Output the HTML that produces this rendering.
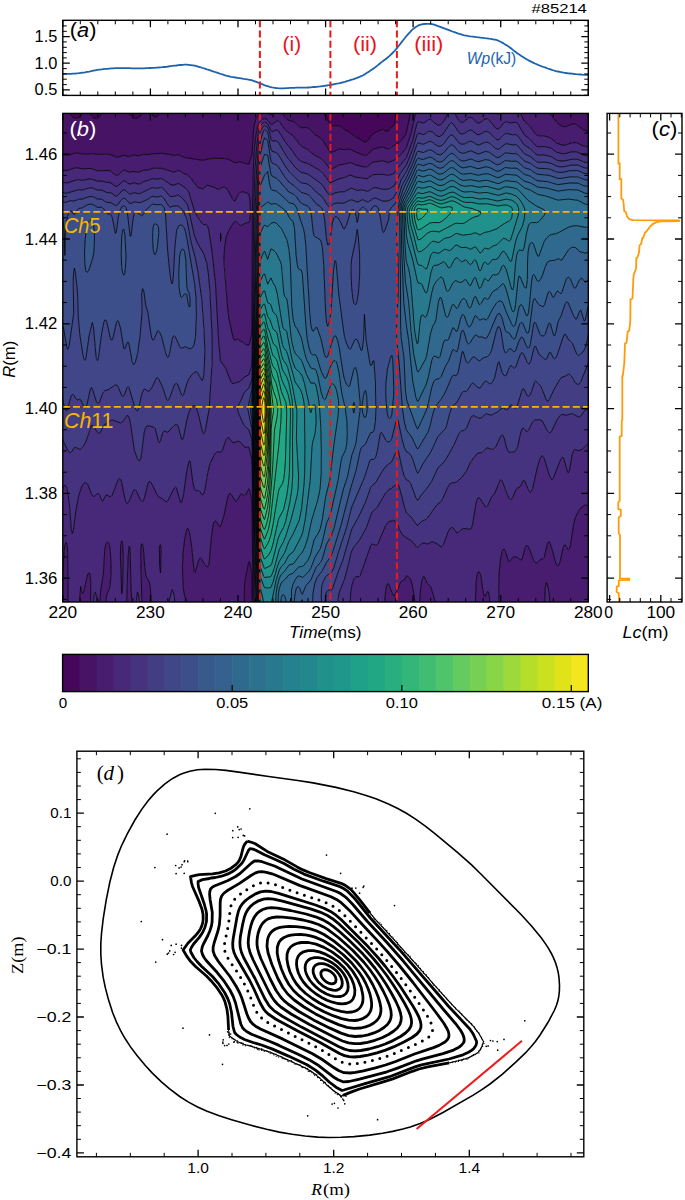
<!DOCTYPE html><html><head><meta charset="utf-8"><style>html,body{margin:0;padding:0;background:#fff;overflow:hidden}svg{display:block}</style></head><body>
<svg width="685" height="1200" viewBox="0 0 685 1200">
<rect width="685" height="1200" fill="#fff"/>
<defs><clipPath id="cb"><rect x="62.8" y="113.4" width="525.5" height="488.6"/></clipPath>
<clipPath id="ca"><rect x="62.8" y="20.3" width="525.5" height="75.1"/></clipPath>
<clipPath id="cc"><rect x="607.1" y="113.4" width="74.9" height="488.6"/></clipPath></defs>
<g clip-path="url(#cb)">
<path d="M364.4 141.9l2.1-.2l1.1-.8l4.2-5.9l2.1-1.8l7.4-3.3l2.1 .1l3.1 1.1l1.7-.2l5.7-5.7l4.2-14.7l2.7-7.2l1.7-6.3l-89.1 0l2.7 5.5l6.3 7.8l6.3 11.9l2.1 2.7l2.1 .9l5.3-.2l2.1 .6l4.2 3.3l4.2 2.2l6.3 4.9l8.5 4.9zM75.4 118.2l2.1-.1l2.1-1l1.2-1.1l1.2-2.1l.7-4.2l.2-12.7l-13.4 0l.1 12.7l.6 4.2l2.1 3l2.8 1.3zM94.3 118.2l2.1 .3l2.1-.7l1.7-1.8l.9-2.1l.4-4.2l.1-12.7l-11.8 0l.2 12.7l.6 4.2l1 2.1l2.7 2.2zM134.3 118.4l2.1 0l2.1-.7l1.9-1.7l1-2.1l.5-4.2l.2-12.7l-13.1 0l.1 12.7l.6 4.2l1.4 2.7l2.4 1.6zM153.2 116.1l1 .8l2.1 .2l1.6-1.1l1-2.1l.6-4.2l.1-12.7l-8.2 0l.3 14.8l.4 2.1l1 2.1z" fill="#46075a" stroke="#46075a" stroke-width="0.4"/>
<path d="M144.8 616.4l5.1 0l-.9-6.8l-1.1-3.4l-1-.7l-1.3 2.4l-1.2 8.5zM200.5 616.4l4.8 0l-.6-4.9l-1.1-2.9l-1-.5l-1.1 .8l-1 2.5l-1 5zM223.6 616.4l2.4 0l-.3-5.4l-1-5.5l-1.1 5.5l-.1 5.4zM244.6 616.4l7.6 0l-.2-42.1l-2.1-11.9l-1.1-.8l-3.4 16.6l-1 8.5l-.2 29.7zM516.8 616.4l1.1 0l-1.1-2.1l-.8 2.1zM537.9 616.4l3.3 0l-.2-2.6l-1-3l-1.1 .8l-1.2 4.8zM554.7 616.4l4.3 0l-1.2-5.7l-1-2l-1.1 .7l-1.3 7zM235.2 162.8l4.2-1l9.4 2.5l3.2-9.8l1.6-25.7l1.2-6.4l1.5-4.2l.9-1.7l7.4-4.7l5.2 2.6l2.1 0l1.1-.8l3.2-4.1l1-1l1.1-.3l2.1 1.7l4.2 7l3.1 3.1l6.3 1.8l5.3 4.7l2.1 1.2l5.2-.1l2.1 .8l6.3 6.1l6.3 4.2l2.1 2.6l6.4 10.5l1 .4l2.1-.3l6.3-2.8l5.3 .5l5.2-.5l6.3 3.1l9.5 3.4l2.1-.9l4.2-4.6l2.1-1.2l7.4-1.8l2.1 .3l3.1 1.3l2.1 .1l6.3-4l3.2-1.2l1-.8l3.2-3.4l3.1-4.5l1.1-2.9l3.8-18.1l2.8-16.9l-10.6 0l-1.7 6.3l-2.7 7.2l-4.2 14.7l-4.2 4.6l-2.1 1.3l-6.3-1.2l-7.4 3.3l-2.1 1.8l-4.2 5.9l-2.1 1.1l-2.1-.6l-4.2-2.7l-3.3-1.5l-7.2-5.5l-4.2-2.2l-4.2-3.3l-2.1-.6l-5.3 .2l-2.1-.9l-2.1-2.7l-6.3-11.9l-6.3-7.8l-2.7-5.5l-153.8 0l-.1 12.7l-.6 4.2l-1.5 2.6l-2.1 .7l-2.1-1.1l-1.1-2.2l-.6-4.2l-.1-12.7l-9.3 0l-.2 12.7l-.5 4.2l-1.9 3l-2 1.3l-2.2 .3l-3.1-1l-1.6-1.5l-.9-2.1l-.6-4.2l-.1-12.7l-27.4 0l-.1 12.7l-.4 4.2l-1.5 2.9l-1.8 1.4l-1.4 .3l-3.1-.9l-1.7-1.6l-1-2.1l-.6-4.2l-.2-12.7l-6.9 0l-.2 12.7l-.7 4.2l-1.2 2.1l-1.2 1.1l-3.1 1.1l-2.1-.2l-2.1-1.1l-2.1-3l-.6-4.2l-.1-12.7l-12 0l0 58l4.2-.5l6.4 .9l6.3-2l3.1-.4l6.3 1.2l8.4-.6l6.3 .8l9.5-.2l3.1 .6l4.3 2l2.1 .3l6.3-1.8l5.2 1.2l4.2-1.5l5.3 .8l5.2-1.5l4.2 .4l5.3-1l8.4-.4l7.4 .9l4.2 1.2l5.2-.5l6.3 2.6l17.9 2.9l5.2-1.3l7.4-.9l10.5 .4l3.2 .9l5.8 3.2zM592.5 135.8l1.1 1.3l0-40.1l-67.5 0l8.6 14.1l1.1 1.2l2.1 1.2l6.3-1.7l3.1 .7l2.1 1l2.1 1.6l5.3 7.3l2.5 2.1l3.8 2.2l2.9-.1l5.5-2.5l3.1-.1l2.1 .6l6.3 5l6.4 2.6l2.5 2.9z" fill="#471365" stroke="#471365" stroke-width="0.4"/>
<path d="M63.9 616.4l4.2 0l-.4-63.6l-.6-8.5l-1.1-1.9l-1.1 2.6l-.7 5.6l-1.4 23.4l-.2 16.9l.6 25.5zM78.6 616.4l12 0l.1-34l-.6-7.5l-1-2.3l-1.1 1.3l-1 3.2l-3.2 14.1l-1 2.5l-1.4-2.8l-.7-4.4l-2.5 29.9zM99.6 616.4l5.6 0l1.2-19.1l.5-2.7l2.3-5.8l1.2-6.4l.7-12.7l-.4-14.8l-1-8.5l-.7-2.6l-1-1.6l-1.1 .1l-1 1.7l-1.1 4.8l-1.4 25.2l-2.8 16.9l-1.1 25.5zM126.9 616.4l5.7 0l-1.8-34l-.6-31.8l-.1-2.3l-1.1-2l-.9 10.7l-1.9 59.4zM142.7 616.4l1.7 0l1.2-8.5l1.3-2.4l1 .7l1.1 3.4l.9 6.8l2.2 0l-1-19.1l-1.1-11.6l-1-4.7l-2.1-3.1l-1.1-2.9l-1-7.8l-1.4-18.7l-.7-3.9l-1.1-.7l-.8 4.6l-.1 6.4l1.5 61.5zM192.1 616.4l7.4 0l1-5l1-2.5l1.1-.8l1 .5l1.1 2.9l.6 4.9l4.6 0l0-.6l1.1 .6l12.5 0l.1-5.4l1.1-5.5l1 5.5l.3 5.4l18.2 0l.2-29.7l1-8.5l3.4-16.6l1.1 .8l2.1 11.9l.2 42.1l1 0l-1.2-114.4l-2.1-11.2l-1.1-2.1l-3.1 6.2l-1.1 .9l-3.1-1.8l-1.1 .5l-3.1 5.8l-1.1 .9l-1-.4l-4.2-6.7l-1.1-.7l-1 .8l-1.1 3.2l-4.2 19.6l-3.1 9.6l-1.1 0l-3.2-5.4l-1-.3l-1.1 1.3l-1 3.2l-1.6 10.4l-2.2 25.4l-.4 3l-1.1 2.5l-1-.1l-2.1-1.9l-3.2-5.7l-1-1.1l-1.1 .6l-1 2.5l-3.2 11.7l-1-1.1l-2.6-25.2l-1.6-11.3l-1.1-4.8l-1-2l-1.1 .9l-2.1 9.4l-1.6 14.2l-.6 14.8l.3 12.7l.6 8.5l1.3 7.5l1.1 2.7l3.1 4.3l.9 2.5l1.7 10.6zM369.7 616.4l3.3 0l-1.2-6.4l-1.1-.4l-1.3 6.8zM384.4 616.4l31.4 0l-1.4-19.1l-2.2-12.7l-1.3-4.3l-1.3-2.4l-3.1-2.3l-2.1 4.3l-3.2 1.5l-1 1.7l-2.1 5.5l-4.2 7.6l-2.1-3.8l-3.2-8.5l-1-.2l-1.1 2.4l-1 5.5l-1.8 24.8zM420.1 616.4l23.5 0l-.3-4.8l-1.1-5.1l-1-1.4l-3.2 .6l-1-.4l-1.1-1.6l-5.2-17.3l-3.2-2.8l-3.2-6.7l-1-.3l-1.4 3.7l-1.3 8.5l-.9 12.7l-.4 14.9zM454.8 616.4l2.5 0l-.4-5l-1-3.8l-1.1 2.9l-.5 5.9zM475.8 616.4l14.6 0l-.7-17l-1.2-7.6l-1.1-.3l-2.1 4.5l-1 .4l-1.1-4.3l-2.1-15l-1.1-3.7l-1-1.6l-1.1 .5l-1 3.4l-.8 6.7l-1.1 34zM500 616.4l16 0l.8-2.1l1.1 2.1l19.8 0l1.2-4.8l1.1-.8l1 3l.2 2.6l3.3 0l.6-27.6l1.2-6.2l1 2.3l1.1 4.4l1 7l1.4 20.1l3.6 0l1.3-7l1.1-.7l1 2l1.2 5.7l33 0l1.6-12.3l0-113.3l-1.1 1.5l-3.1 11l-1.1 1.7l-1.1 .4l-2.1-.4l-4.2 2.9l-2.1 2.8l-2.1 4l-2.1 5.3l-1 4.7l-3 19.6l-1.2 4.6l-1.1 .9l-3.1-5l-1.1 .3l-1 2.6l-3.2 14.7l-1 2.7l-1.1 .7l-1-.7l-1.1-2.1l-4.2-15.8l-2.1-5.3l-1-.1l-1.1 2l-3.1 13.7l-1.1 1.1l-2.1 .5l-4.2 3.8l-1-.1l-2.2-2.4l-4.2-11.5l-2.1-3.4l-1 .2l-1.1 1.9l-3.1 11.5l-1.1 1l-4.2-3l-2.1-.3l-2.1 .7l-3.1 4.1l-1.1-.4l-3.1-10.6l-1.1-1.5l-1 .4l-1.1 2l-1.3 5.5l-1.8 17l-.3 14.8l.5 27.6zM121.7 593.5l1-7.4l.3-37.6l-.3-4.4l-1-3.2l-1.2 7.6l.1 19.7l1 24.8zM160.5 572.9l.7-15.9l-.4-10.6l-.3-1.6l-1 .9l-.3 4.9l.3 14.2l.9 7zM246.7 345.1l2.1 .1l.9-2.3l2.3-11.6l.3-109.3l.8-48.7l1-21.2l1.2-12.7l1.6-10.6l1.3-4.3l1.1-2.2l3.2-3.1l2.1-.8l3.1 1.7l3.2 4.1l1 .4l4.3-3.3l1-.5l1.1 .1l2.1 2.1l5.2 7.3l7.4 5.3l7.3 9.6l2.1 1.6l5.3 2.7l6.3 5.3l7.3 3.8l3.2 3.2l5.3 7.2l1 .2l2.1-.7l6.3-3.6l5.3-.7l5.2-1.6l2.1 .4l4.2 2l9.5 2.3l2.1-.7l4.2-3.7l2.1-1l8.4-1l6.3 1.6l5.3-2.2l2.1-1.9l2.1-.9l7.3-8.1l1.1-2.1l5.2-16.1l5.3-24.8l1-2.3l3.7 1.3l1.6 .2l2.1-1.3l3.1-2.8l2.2-.2l5.7 6.3l1.6 .8l1.1 0l2.1-1.3l1.3-1.7l4.1-8.4l-33.5 0l-1.4 9.7l-5.2 25.3l-1.1 2.9l-3.1 4.5l-4.2 4.2l-3.2 1.2l-5.2 3.6l-2.1 .5l-4.2-1.5l-2.1-.3l-7.4 1.8l-2.1 1.2l-4.2 4.6l-2.1 .9l-9.5-3.4l-6.3-3.1l-5.2 .5l-5.3-.5l-6.3 2.8l-2.1 .3l-1-.4l-6.4-10.5l-2.1-2.6l-6.3-4.2l-6.3-6.1l-2.1-.8l-5.2 .1l-2.1-1.2l-5.3-4.7l-6.3-1.8l-3.1-3.1l-4.2-7l-2.1-1.7l-1.1 .3l-1 1l-3.2 4.1l-1.1 .8l-2.1 0l-5.2-2.6l-7.4 4.7l-.9 1.7l-1.5 4.2l-1.2 6.4l-1.6 25.7l-3.2 9.8l-9.4-2.5l-3.2 .8l-2.1-.1l-5.2-3l-3.2-.9l-10.5-.4l-7.4 .9l-5.2 1.3l-17.9-2.9l-6.3-2.6l-5.2 .5l-4.2-1.2l-7.4-.9l-8.4 .4l-5.3 1l-4.2-.4l-5.2 1.5l-5.3-.8l-4.2 1.5l-5.2-1.2l-6.3 1.8l-2.1-.3l-4.3-2l-3.1-.6l-9.5 .2l-6.3-.8l-8.4 .6l-6.3-1.2l-3.1 .4l-6.3 2l-6.4-.9l-4.2 .5l0 16l3.2-.4l6.3 0l8.4-2.8l2.1 0l5.3 1.1l6.3-.5l3.1 .4l5.3 2l11.5-.3l2.1 1l3.2 2.8l2.1 1.1l2.1-.7l3.2-3.1l2.1-1.4l2.1 .3l3.1 1.8l4.2-.9l5.3 1l5.2-2.3l4.2-.1l5.3-1.8l8.4 .1l6.3 1.8l5.3 2.1l1 0l3.2-1.5l2.1 .1l4.2 2.7l3.1 1l3.2 2.7l7.3 9.5l2.1 1.4l3.2 .8l4.2-3.2l1-.3l6.3 2l4.2 2l4.3-2l2.1-.2l1.5 .9l1.7 2.1l4.4 8.5l1.8 2.3l1.1-.1l3.1-6.4l2.1-2.3l3.2-.3l5.2 2l1 4.8l.4 6.4l.2 8.5l-.5 6.6l-1.1 2.3l-3.1 .5l-4.2 2.3l-1.1 .1l-1-.6l-3.2-3.3l-1-.3l-2.1 2l-4.3 7.3l-2.7 6.4l-1.7 12.7l-.4 8.5l3.7 50.9l1.2 9.3l3.2 16.1l1 3.6l1 2l1.1 .2l2.1-1.1l1 .3l2.1 1.6l2.1 .9l3.9 3.1zM220.5 241.4l.7-4.5l-.7-3.6l-.1 7.8zM593.6 150.4l0-13.3l-4.2-4.9l-6.4-2.6l-5.2-4.4l-2.1-1l-4.2-.1l-6.3 2.8l-3.2-.6l-5.2-3.9l-5.3-7.3l-4.2-2.6l-3.1-.7l-5.3 1.6l-2.1-.3l-2.1-2l-8.6-14.1l-70.1 0l2 4.5l2.1 2.8l1 .5l2.1-.4l5.3-5.7l2.1-1.1l2.1 1.6l3.1 4.8l2.1 1.9l2.1-.2l5.3-4.6l2.1 0l2.1 1.9l6.3 10.3l2.1 1.1l2.1-1.5l3.2-5l2.1-2.1l1-.1l3.2 1.7l2.1 .6l1 .1l3.2-1l1 .3l2.1 2.8l5.3 10.8l6.3 5.9l4.2 6.1l2.1 2.1l2.1 .7l5.3 0l6.3 2.1l6.3 5.2l4.2 1.7l3.1 .5l7.4-2.5l5.2-.2l6.3 3.2l6.4 1.3l3.6 2.9z" fill="#481d6f" stroke="#481d6f" stroke-width="0.4"/>
<path d="M58.6 616.4l4.6 0l-.6-25.5l.2-16.9l1.4-23.4l.7-5.6l1.1-2.6l1.1 1.9l.6 8.5l.4 63.6l10.1 0l2.5-29.9l.7 4.4l1.4 2.8l1-2.5l3.2-14.1l1-3.2l1.1-1.3l1 2.3l.6 7.5l-.1 34l1.7 0l1-14.3l1-7.6l1.1-2.2l1.2 5l1.1 19.1l1.8 0l1.1-25.5l2.8-16.9l1.4-25.2l1.1-4.8l1-1.7l1.1-.1l1.2 2.1l1.1 6.3l.7 12.8l-.1 12.7l-.8 9.2l-1.1 4.1l-2.1 5.2l-.5 2.7l-1.2 19.1l8.9 0l1.3-3.9l1-.4l1.4 4.3l8.4 0l1.9-59.4l.9-10.7l1.1 2l.1 2.3l.6 31.8l1.8 34l3.4 0l.4-15.9l1-8.3l1.1 2.7l1 8.6l.8 12.9l1.9 0l-1.5-61.5l.1-6.4l.8-4.6l1.1 .7l.7 3.9l1.4 18.7l1 7.8l1.1 2.9l2.1 3.1l1 4.7l1.1 11.6l1 19.1l2.8 0l.4-9.3l1-4.9l1.1 6.3l.4 7.9l8.8 0l1.3-10.2l4.2-16.6l1.1 2l1 4.7l2 20.1l15.3 0l-1.7-10.6l-.9-2.5l-3.1-4.3l-1.1-2.7l-1.3-7.5l-.6-8.5l-.3-12.7l.6-14.8l1.6-14.2l2.1-9.4l1.1-.9l1 2l1.1 4.8l1.6 11.3l2.6 25.2l1 1.1l3.2-11.7l1-2.5l1.1-.6l1 1.1l3.2 5.7l2.1 1.9l1 .1l1.1-2.5l.4-3l2.2-25.4l1.6-10.4l1-3.2l1.1-1.3l1 .3l3.2 5.4l1.1 0l3.1-9.6l4.2-19.6l1.1-3.2l1-.8l1.1 .7l4.2 6.7l1 .4l1.1-.9l3.1-5.8l1.1-.5l3.1 1.8l1.1-.9l3.1-6.2l1.1 2.1l2.1 11.2l1.2 114.4l1.1 0l-2.3-156.9l-3.2-12.2l-4.2-.2l-4.2-5l-2.1-1l-5.2 1.5l-1.1-.6l-3.1-4.3l-1.1 0l-1 .8l-1.1 2l-3.1 9.3l-1.1 1.9l-2.1 .5l-2.1-.4l-1.1 .6l-2.1 2.6l-3.1 5.9l-2.1 6.6l-4.2 23.1l-1.1 3.4l-1 1.1l-3.2-4l-1-.6l-2.1 .2l-1.1-.5l-1-2l-1.6-7.5l-2.1-17l-.5-2.7l-1.1 .4l-2.1 9.7l-3.1 22.4l-2.1 8.8l-1.1 0l-4.2-14.8l-1-.5l-1.1 1.1l-6.3 12.6l-1.1 .9l-1 0l-3.2-2.7l-4.2-2.2l-2.1-3.4l-4.2-9l-2.1-2.9l-1 .4l-1.1 2l-3.4 13.8l-.8 2.4l-1 1.3l-1.1 0l-1-1l-4.2-9l-1.1-1.5l-1-.1l-1.2 1.6l-4.1 10.2l-1 1.6l-1.1 .4l-1-1.4l-1.1-3.8l-3.1-15.9l-1.1-3l-1-1l-1.1 .8l-1 2l-5.3 14l-1.1 1.2l-1 .3l-3.2-1.7l-1 .1l-3.2 6l-1-.6l-2.1-5.7l-1.1-1.4l-1 .1l-3.2 2.9l-1-.1l-.9-.8l-1.2-2.2l-3.2-8.5l-1.6-2l-1.5-.2l-1.1 .8l-2.1 3.3l-3.1 9.4l-2.7 14.3l-2.6 20.4l-1 2.7l-1.1-5.1l-1.6-22.3l-1.5-12.2l-2.1-7.7l-1.1-.9l-1 .6l-3.2 4l-1.1 3.3l-1.4 15l-.7 25.3l0 82.9zM121.6 593l-1-24.8l-.1-19.7l1.2-7.6l1 3.2l.3 4.4l-.3 37.6l-1 7.4zM160.4 571.8l-.9-7l-.3-14.2l.3-4.9l1-.9l.3 1.6l.4 10.6l-.7 15.9zM209.9 616.4l1.1 0l-1.1-.6l0 .6zM350.8 616.4l18.6 0l1.3-6.8l1.1 .4l1.2 6.4l10.7 0l1.8-24.8l1-5.5l1.1-2.4l1 .2l3.2 8.5l2.1 3.8l4.2-7.6l2.1-5.5l1-1.7l3.2-1.5l2.1-4.3l3.1 2.3l1.3 2.4l1.3 4.3l2.2 12.7l1.4 19.1l3.5 0l.4-14.9l.9-12.7l1.3-8.5l1.4-3.7l1 .3l3.2 6.7l3.2 2.8l5.2 17.3l1.1 1.6l1 .4l3.2-.6l1 1.4l1.1 5.1l.3 4.8l10.7 0l.5-5.9l1.1-2.9l1 3.8l.4 5l17.7 0l1.1-34l.8-6.7l1-3.4l1.1-.5l1 1.6l1.1 3.7l2.1 15l1.1 4.3l1-.4l2.1-4.5l1.1 .3l1.2 7.6l.7 17l8.8 0l-.5-27.6l.3-14.8l1.8-17l1.3-5.5l1.1-2l1-.4l1.1 1.5l3.1 10.6l1.1 .4l3.1-4.1l2.1-.7l2.1 .3l4.2 3l1.1-1l3.1-11.5l1.1-1.9l1-.2l2.1 3.4l4.2 11.5l2.2 2.4l1 .1l4.2-3.8l2.1-.5l1.1-1.1l3.1-13.7l1.1-2l1 .1l2.1 5.3l4.2 15.8l1.1 2.1l1 .7l1.1-.7l1-2.7l3.2-14.7l1-2.6l1.1-.3l3.1 5l1.1-.9l1.2-4.6l3-19.6l2.1-7.7l3.1-6.3l2.1-2.8l4.2-2.9l2.1 .4l1.1-.4l1.1-1.7l3.1-11l1.1-1.5l0-55.9l-1.1 1.1l-4.2 7.6l-6.3 5.8l-3.2 1.2l-4.2-1.1l-1 1.1l-1.5 4.6l-2.7 15.3l-1.1 2.3l-1-1.7l-3.2-11.6l-1-2l-1.1-.2l-2.1 4l-6.3 16.2l-1 1.7l-1.1 .3l-2.1-3.8l-5.2-17.3l-1.1-2l-1-.6l-1.1 .8l-1.3 2.9l-2.5 8.5l-4.6 20.6l-1.1 2.8l-1 .9l-1.1-.7l-1-1.8l-3.2-7.9l-1-1.5l-1.1 .4l-3.1 6.1l-3.2 1.6l-1 1.4l-3.2 7.6l-1 1.7l-1.1 .4l-1-.9l-2.1-4l-5.3-14l-1-1.1l-1.1 .7l-5.2 12.8l-3.2 4l-4.2 9.2l-1 .9l-1.1-.5l-5.3-8.4l-1-.7l-1.1 .4l-1 2.2l-1.1 4.2l-3.1 19.3l-1.1 3.8l-1 1.6l-1.1 .2l-3.1-.7l-3.2 0l-2.1 1.1l-3.1 3.1l-1.1 .2l-4.2-5.4l-1-.3l-1.1 .5l-2.1 3.1l-5.2 14l-1.1 1.6l-1 .5l-4.2-3.2l-4.2-1.9l-1.1 0l-4.2 2.1l-3.2-1l-2.1 .1l-4.2 4.3l-1 0l-5.3-6.4l-7.3-4.6l-2.1-2l-3.1-5l-1.1-3.7l-4.2-5.7l-1.1 .7l-4.2 .9l-3.1 4.2l-7.4 17.6l-1.1 1.4l-1 .6l-3.2-1.3l-1 .1l-1.1 1.4l-10.5 29.9l-1 1.1l-3.2 0l-1 .7l-1.1 1.6l-1.8 5.7l-1.3 6.8l-.7 10.1l-.1 14.9zM545.2 616.4l5.6 0l-1.4-20.1l-1-7l-1.1-4.4l-1-2.3l-1.2 6.2l-.6 27.6zM592.5 616.4l1.1 0l0-12.3l-1.6 12.3zM233.1 383.6l7.3-2.2l3.2-3.9l5.2-2.6l3.2-9.7l.8-52l.8-97.5l1.2-42.4l1.2-19.1l2.2-21.2l1.7-6.4l2.6-3.3l2.1-1.2l3.1 1.8l3.2 6.6l1 1.3l4.3-1.8l2.1 .6l7.3 11.7l6.3 8l3.2 4.9l4.2 4.9l3.1 1.9l5.3 1.3l12.6 7.4l3.1 3.1l6.4 8.9l2.1-.5l7.3-3.5l5.3-1l4.2-2l2.1-.5l5.2 2.1l5.3 .5l5.2 1.1l2.1-1l3.2-2.5l2.1-.8l8.4-.3l6.3 1.1l5.3-1.8l2.1-3.4l10.5-12.7l6.3-17.3l4.2-16.8l1-1.8l5.3 1.4l2.1-1l3.1-2.4l2.2-.3l6.3 5.5l2.1 .5l1-.3l2.1-1.7l2.1-2.9l5.3-9.9l1-1l1.1-.2l2.1 2.2l4.8 8.8l2.5 2.1l2.1-.3l5.3-4.2l2.1-.8l2.1 1.1l3.1 3.5l2.1 1.3l2.1-.3l5.3-3.8l2.1 0l3.2 2.7l5.2 6.7l2.1 .9l2.1-1.3l3.2-4.2l2.1-1.9l1-.2l4.2 1.3l5.3-.7l2.1 1.4l6.3 11.1l6.3 4.9l4.2 5.1l2.1 1.7l2.1 .5l5.3-.4l5.2 1.1l2.1 .8l5.3 3.9l5.2 1.4l3.2-.1l6.3-1.7l5.2-.1l7.4 3.5l5.3 1l4.2 2.8l0-8.7l-4.2-3.3l-5.3-.9l-6.3-3.3l-2.1-.5l-5.3 .6l-5.2 2.1l-3.2 0l-5.2-2l-6.3-5.2l-6.3-2.1l-5.3 0l-2.1-.7l-2.1-2.1l-4.2-6.1l-6.3-5.9l-5.3-10.8l-2.1-2.8l-1-.3l-3.2 1l-1-.1l-2.1-.6l-3.2-1.7l-1 .1l-2.1 2.1l-3.2 5l-2.1 1.5l-2.1-1.1l-6.3-10.3l-2.1-1.9l-2.1 0l-5.3 4.6l-2.1 .2l-2.1-1.9l-3.1-4.8l-2.1-1.6l-2.1 1.1l-5.3 5.7l-2.1 .4l-2.1-1.6l-3-6.2l-9.4 0l-4.1 8.4l-1.3 1.7l-2.1 1.3l-1.1 0l-1.6-.8l-5.7-6.3l-2.2 .2l-3.1 2.8l-2.1 1.3l-1.6-.2l-3.7-1.3l-1 2.3l-5.3 24.8l-5.2 16.1l-1.1 2.1l-7.3 8.1l-2.1 .9l-2.1 1.9l-5.3 2.2l-6.3-1.6l-8.4 1l-2.1 1l-5.3 4.3l-2.1 0l-4.2-1.5l-4.2-.7l-4.2-2l-2.1-.4l-5.2 1.6l-5.3 .7l-6.3 3.6l-2.1 .7l-1-.2l-5.3-7.2l-3.2-3.2l-7.3-3.8l-6.3-5.3l-5.3-2.7l-2.1-1.6l-7.3-9.6l-7.4-5.3l-5.2-7.3l-2.1-2.1l-1.1-.1l-1 .5l-4.3 3.3l-1-.4l-3.2-4.1l-2.1-1.3l-2.1-.2l-2.1 1.4l-2.1 2.3l-1 1.9l-1.4 4.6l-1.8 12.7l-1.2 14.8l-.9 21.2l-.6 31.8l-.4 122l-2.1 11.2l-1.1 2.7l-3.1-.5l-3.2-2.8l-2.1-.9l-2.1-1.6l-1-.3l-2.1 1.1l-1.1-.2l-1-2l-4.2-19.7l-1-7.2l-3.6-44.5l-.3-8.5l.4-8.5l1.7-12.7l2.7-6.4l4.3-7.3l2.1-2l1 .3l3.2 3.3l1 .6l1.1-.1l4.2-2.3l3.1-.5l1.1-2.3l.5-6.6l-.2-8.5l-.4-6.4l-1-4.8l-5.2-2l-3.2 .3l-2.1 2.3l-3.1 6.4l-1.1 .1l-1.8-2.3l-4.4-8.5l-1.7-2.1l-1.5-.9l-2.1 .2l-4.3 2l-4.2-2l-6.3-2l-1 .3l-4.2 3.2l-3.2-.8l-2.1-1.4l-7.3-9.5l-3.2-2.7l-3.1-1l-4.2-2.7l-2.1-.1l-3.2 1.5l-1 0l-5.3-2.1l-6.3-1.8l-8.4-.1l-5.3 1.8l-4.2 .1l-5.2 2.3l-5.3-1l-4.2 .9l-3.1-1.8l-2.1-.3l-2.1 1.4l-3.2 3.1l-2.1 .7l-2.1-1.1l-3.2-2.8l-2.1-1l-11.5 .3l-5.3-2l-3.1-.4l-6.3 .5l-5.3-1.1l-2.1 0l-8.4 2.8l-6.3 0l-3.2 .4l0 11.8l3.2-1l6.3 1.2l10.5-3.4l5.3 .7l5.2-1.2l3.2-.1l6.3 2.1l4.2-.1l4.2 1.3l4.2 .2l5.3 3.7l1 .3l2.1-1l3.2-3.3l2.1-1.3l2.1 .6l3.1 2.4l1.1 .1l4.2-1.1l4.2 1.3l2.1-.7l3.1-2l4.2-.9l4.2-2l5.3 .6l3.1-.7l3.2 1.1l7.4 5.3l3.1 .2l3.2-1.5l2.1 .2l7.3 5.3l1 1.1l1.8 4.3l4.6 15.7l3.1 6.5l5.3 7.5l1 .5l2.1-.3l1.1 .4l1 2l1.1 4.1l3.3 22.9l3.3 29.7l3.1 57.3l1.9 20.1l5.2 7.4l4.2 11l2.3 3.9zM220.4 241.1l.1-7.8l.7 3.6l-.7 4.5z" fill="#482878" stroke="#482878" stroke-width="0.4"/>
<path d="M93.3 616.4l4.4 0l-1.1-19.1l-1.2-5l-1.1 2.2l-1 7.6l-1 14.3zM114.3 616.4l3.5 0l-1.4-4.3l-1 .4l-1.3 3.9zM136.4 616.4l3.9 0l-.8-12.9l-1-8.6l-1.1-2.7l-1 8.3l-.4 15.9zM155.3 616.4l2.5 0l-.4-7.9l-1.1-6.3l-1 4.9l-.4 9.3zM166.8 616.4l9.4 0l-2-20.1l-1-4.7l-1.1-2l-4.2 16.6l-1.3 10.2zM255.1 616.4l-3.1-176.7l-3.2-10l-4.2-3.8l-1-1.5l-5.3-11.6l-.8-4.2l1.3-4.2l1.6-2.8l3.2-7.6l2.1-2.9l3.1-2.8l3.2-8.6l1.5-62.3l1.5-108.1l2.6-55.1l1.4-14.8l1.5-8.5l2.6-4.3l1.5-1l3.1 1.9l2.1 5.5l1.1 5.8l1 2.1l4.3 0l2.1 1.3l8.4 14.4l8.4 10.7l5.2 4.7l7.4 2l12.6 9l3.1 3.4l4.3 6.9l2.1 2.3l5.2-2.7l4.2-.9l5.3-.3l6.3-3.4l2.1 .3l4.2 1.9l5.2-.7l5.3 1.6l5.2-3.4l2.1-.5l7.4 1.8l5.3 0l6.3-3l6.5-13l6.1-8.4l6.3-15.7l4.2-14.2l1-1.8l5.3 1.3l2.1-.8l3.1-2.2l2.2-.3l2.1 1.2l4.2 3.6l2.1 .6l1-.2l2.1-1.4l1.7-2l5.7-9l1-.9l1.1-.2l2.1 1.7l5.2 8l2.1 1.4l3.2-.4l4.2-3l2.1-.6l2.1 .9l3.1 2.8l2.1 1l2.1-.3l4.3-2.6l2.1-.6l3.1 1.4l6.3 6.6l2.1 .7l2.1-1.1l3.2-3.6l2.1-1.6l1-.2l6.3 1.4l3.2-.2l2.1 1.3l6.3 9.1l6.3 3.8l4.2 4.4l2.1 1.5l2.1 .5l5.3-.2l5.2 1.1l2.1 .7l5.3 3.3l3.1 .8l4.2 .1l8.4-1.8l5.3 .1l6.3 2.8l6.3 1.1l3.2 2l0-6.1l-3.2-2.4l-6.3-1.4l-6.3-3.2l-2.1-.4l-4.2 .2l-6.3 1.7l-3.2 .1l-5.2-1.4l-5.3-3.9l-2.1-.8l-5.2-1.1l-5.3 .4l-2.1-.5l-2.1-1.7l-4.2-5.1l-6.3-4.9l-5.3-9.5l-2.1-2.6l-1-.4l-5.3 .7l-4.2-1.3l-1 .2l-2.1 1.9l-3.2 4.2l-2.1 1.3l-2.1-.9l-5.2-6.7l-3.2-2.7l-2.1 0l-5.3 3.8l-2.1 .3l-2.1-1.3l-3.1-3.5l-2.1-1.1l-2.1 .8l-5.3 4.2l-2.1 .3l-2.5-2.1l-4.8-8.8l-2.1-2.2l-1.1 .2l-1 1l-5.3 9.9l-2.1 2.9l-2.1 1.7l-1 .3l-2.1-.5l-6.3-5.5l-2.2 .3l-3.1 2.4l-2.1 1l-5.3-1.4l-1 1.8l-4.2 16.8l-6.3 17.3l-10.5 12.7l-2.1 3.4l-5.3 1.8l-6.3-1.1l-8.4 .3l-2.1 .8l-3.2 2.5l-2.1 1l-5.2-1.1l-4.2-.3l-5.3-2.1l-2.1-.1l-5.2 2.4l-6.3 1.3l-7.4 3.6l-1 .1l-.9-.9l-5.5-8l-3.1-3.1l-12.6-7.4l-5.3-1.3l-3.1-1.9l-4.2-4.9l-3.2-4.9l-6.3-8l-7.3-11.7l-2.1-.6l-4.3 1.8l-1-1.3l-3.2-6.6l-3.1-1.8l-1.1 .3l-2.1 2.1l-2.3 4.3l-1.2 6.3l-2.1 21.2l-1.1 21.2l-1.1 38.2l-.8 97.5l-.8 52l-3.2 9.7l-5.2 2.6l-3.2 3.9l-6.3 2.1l-1 .1l-.9-.4l-1.2-1.6l-5.3-13.3l-5.2-7.4l-1.9-20.1l-3.1-57.3l-3.5-31.8l-3.2-21.2l-1-3.7l-1-2l-1.1-.4l-2.1 .3l-1-.5l-5.3-7.5l-3.1-6.5l-5.3-17.7l-2.1-3.4l-7.3-5.3l-2.1-.2l-3.2 1.5l-3.1-.2l-7.4-5.3l-3.2-1.1l-3.1 .7l-5.3-.6l-4.2 2l-4.2 .9l-3.1 2l-2.1 .7l-4.2-1.3l-4.2 1.1l-1.1-.1l-3.1-2.4l-2.1-.6l-2.1 1.3l-3.2 3.3l-2.1 1l-1-.3l-5.3-3.7l-4.2-.2l-4.2-1.3l-4.2 .1l-6.3-2.1l-3.2 .1l-5.2 1.2l-5.3-.7l-10.5 3.4l-6.3-1.2l-3.2 1l0 10.1l3.2-1.3l4.2 1.5l2.1 0l11.6-3.4l4.2 .3l5.2-1.8l3.2-.3l2.1 .4l4.2 1.9l4.2-.1l5.2 2.5l4.2 .3l4.3 3.2l1 .2l2.1-1.4l3.2-3.9l2.1-1.3l2.1 .9l3.1 3.2l1.1 .3l4.2-1.4l5.2 1.1l12.6-6.2l5.3 .7l3.1-.8l1.1 0l2.1 1.4l6.3 7.6l4.2-.1l2.1-1l2.1-.2l2.1 1.3l3.2 3.2l3.1 4l1.4 3.5l6 27.8l3.1 7.8l6.5 11l3 9.5l1.7 11.7l1.3 14.9l2.2 43.5l.3 15.8l-.3 14.9l-2.8 44.5l-3.5 19.7l-1 3.9l-1.1 1.6l-1-1.3l-4.2-18.1l-2.1-6.7l-1.1-1.7l-2.1-.5l-2.1 2.2l-2.1 4.7l-2.1 7.7l-3.1 16.2l-1.1 3.2l-1-.3l-3.2-12.1l-1-2.1l-1.1-.6l-2.4 1.2l-6 6.6l-1.1 0l-2.1-1.2l-1 .3l-1.1 1.8l-2.1 7.3l-1 2.2l-1.1-1.1l-3.1-12.9l-1.1-1.2l-5.2-1.5l-2.1 .1l-1.3 1.7l-1.3 4.2l-2.7 21.4l-1 5.6l-1.1 1.9l-1-.5l-1.1-1.8l-3.1-8.4l-3.8-26.7l-1.5-6l-1-1.7l-1.1 0l-4.2 5.9l-2.1 1.3l-8.4-2.9l-1.1 .1l-3.1 2.9l-3.2 1.3l-1 1l-3.2 6.8l-1 1.2l-1.1 0l-1-.9l-4.2-6.4l-1.1-.8l-1 .6l-5.3 16l-3.1 5l-2.1 2.1l-1.1 .3l-4.2-1.8l-1 .1l-3.2 4.9l-1 .5l-2.1-2l-4.2-8.4l-3.8-10.6l-2.6-8.8l0 110.4l.7-25.3l1.4-15l1.1-3.3l3.2-4l1-.6l1.1 .9l1 2.8l1.3 6.5l1.5 12.7l1.4 20.2l1.1 5.1l1-2.7l2.6-20.4l2.7-14.3l3.1-9.4l2.1-3.3l1.1-.8l1.5 .2l1.6 2l3.2 8.5l1.2 2.2l.9 .8l1 .1l3.2-2.9l1-.1l1.1 1.4l2.1 5.7l1 .6l3.2-6l1-.1l3.2 1.7l1-.3l1.1-1.2l5.3-14l1-2l1.1-.8l1 1l1.1 3l3.1 15.9l1.1 3.8l1 1.4l1.1-.4l1-1.6l4.1-10.2l1.2-1.6l1 .1l1.1 1.5l4.2 9l1 1l1.1 0l1-1.3l.8-2.4l3.4-13.8l1.1-2l1-.4l2.1 2.9l4.2 9l2.1 3.4l4.2 2.2l3.2 2.7l1 0l1.1-.9l6.3-12.6l1.1-1.1l1 .5l4.2 14.8l1.1 0l2.1-8.8l3.1-22.4l2.1-9.7l1.1-.4l.5 2.7l2.1 17l1.6 7.5l1 2l1.1 .5l2.1-.2l1 .6l3.2 4l1-1.1l1.1-3.4l3.1-18l2.1-8.9l4.2-8.7l2.1-2.6l1.1-.6l2.1 .4l2.1-.5l1.1-1.9l3.1-9.3l1.1-2l1-.8l1.1 0l3.1 4.3l1.1 .6l1 0l3.2-1.4l2.1 .3l1 .6l4.2 5l4.2 .2l3.2 12.2l2.3 156.9zM338.2 616.4l11.8 0l.1-14.9l.7-10.1l1.3-6.8l1.8-5.7l1.1-1.6l1-.7l3.2 0l1-1.1l10.5-29.9l1.1-1.4l1-.1l3.2 1.3l1-.6l1.1-1.4l7.4-17.6l3.1-4.2l4.2-.9l1.1-.7l4.2 5.7l1.1 3.7l3.1 5l2.1 2l7.3 4.6l5.3 6.4l1 0l4.2-4.3l2.1-.1l3.2 1l4.2-2.1l1.8 .3l3.5 1.6l3.1 2.8l1.1 .4l1-.5l2.1-4.1l4.2-11.5l2.1-3.1l1.1-.5l1 .3l4.2 5.4l1.1-.2l3.1-3.1l2.1-1.1l3.2 0l3.1 .7l1.1-.2l1-1.6l1.1-3.8l3.1-19.3l1.1-4.2l1-2.2l1.1-.4l1 .7l5.3 8.4l1.1 .5l1-.9l4.2-9.2l3.2-4l4.2-10.7l1-2.1l1.1-.7l1 1.1l1.1 2.5l5.2 13.7l2.1 2.7l1.1-.4l1-1.7l3.2-7.6l1-1.4l3.2-1.6l3.1-6.1l1.1-.4l1 1.5l4.2 9.7l1.1 .7l1-.9l1.1-2.8l5.7-24.9l1.7-5l1-2.1l1.1-.8l1 .6l1.1 2l5.2 17.3l2.1 3.8l1.1-.3l1-1.7l6.3-16.2l2.1-4l1.1 .2l1 2l3.2 11.6l1 1.7l1.1-2.3l2.7-15.3l1.5-4.6l1-1.1l4.2 1.1l3.2-1.2l6.3-5.8l4.2-7.6l1.1-1.1l0-27.2l-3.2 2.2l-1 .2l-3.2-.7l-1.1 .5l-4.2 6.1l-2.1 1.2l-5.2-3l-2.1-.6l-5.3 1.7l-4.2-1l-1 .3l-3.2 3.8l-6.3 13l-1 1.2l-1.1 .2l-2.1-2.2l-5.2-9.9l-2.1-1l-5.3 .3l-2.1 2.1l-4.2 8.3l-1.1 1.2l-1-.3l-2.1-2.7l-1.1-.5l-1 .8l-1.2 3l-3.3 14.9l-1.8 3.7l-2.1 1.4l-4.2 .5l-1.1-.6l-2.1-5l-2.1-8.6l-1-2.5l-1.1-.7l-1 .8l-1.1 1.9l-4.2 9.1l-2.1 2.1l-2.1 .5l-4.2-1.5l-1 .2l-4.3 4.4l-4.2 .7l-1 .7l-6.3 8l-4.2 9.2l-4.2 5.9l-5.3 4.9l-2.1 .8l-3.1 .1l-2.1 1.4l-2.1 3.6l-5.3 12l-1 1.5l-4.2 3.3l-9.5 13.4l-2.1 1.7l-4.2 2l-3.2 3.4l-1 .2l-5.3-7.6l-5.2-4.7l-2.1-6.1l-4.2-16.8l-2.1-6l-4.2 1.9l-2.1 2.2l-3.2 1.6l-3.2 3.6l-8.4 14.2l-5.2 4.8l-5.3 15l-7.3 13.2l-5.3 6.3l-2.1 3.9l-1 2.8l-2.6 11.9l-3.7 13.7l-5.5 13.8l-.9 6.4l0 17z" fill="#46337f" stroke="#46337f" stroke-width="0.4"/>
<path d="M256.2 616.4l-3.9-180.2l-.3-7l-4.3-20.6l4.3-19.8l.5-9.9l1.9-67.8l1.7-93.3l1.9-50.9l2.4-25.9l3-10.1l1.2-1.3l3.1 2.2l3.2 17.2l1 2.2l4.3 1.3l2.1 1.8l6.3 10.9l4.2 5.9l6.3 6.6l5.2 4.6l2.1 .8l4.2 .6l4.2 2.7l5.3 5.6l5.2 3.9l2.1 2.6l4.3 7.1l2.1 1.6l3.1-2.8l2.1-1l3.2-.4l5.2 .3l6.3-3l2.1-.5l5.3 2.2l1-.1l4.2-2.2l1.1 .2l3.1 1.8l2.1 .1l4.2-3l2.1-.8l2.1 .5l5.3 2.6l5.3-.1l2.1-.7l4.2-2.9l.4-.8l3.8-7.6l3.1-9.1l5.3-8.6l4.8-10.7l5.7-16.2l1-1.5l5.3 1.4l5.2-2.6l2.2-.3l2.1 1.1l4.2 3.3l3.1 .6l3.2-2.1l6.3-8.5l2.1-1l2.1 1.3l5.2 6.9l2.1 1.2l3.2-.1l4.2-2.4l2.1-.5l2.1 .7l4.2 2.8l2.1 .3l5.3-2.5l2.1-.4l3.1 1.1l6.3 5.5l2.1 .6l2.1-.9l5.3-4.6l1-.1l6.3 1.2l3.2-.2l2.1 1.2l6.3 7.8l6.3 3l6.3 5.2l2.1 .4l5.3-.2l5.2 .8l2.1 .6l5.3 2.8l3.1 .6l4.2-.2l7.4-1.6l6.3-.1l6.3 2.7l6.3 1l3.2 1.8l0-5.3l-3.2-2l-6.3-1.1l-6.3-2.8l-5.3-.1l-8.4 1.8l-4.2-.1l-3.1-.8l-5.3-3.3l-2.1-.7l-5.2-1.1l-5.3 .2l-2.1-.5l-2.1-1.5l-4.2-4.4l-6.3-3.8l-6.3-9.1l-2.1-1.3l-3.2 .2l-6.3-1.4l-1 .2l-2.1 1.6l-3.2 3.6l-2.1 1.1l-2.1-.7l-6.3-6.6l-3.1-1.4l-2.1 .6l-4.3 2.6l-2.1 .3l-2.1-1l-3.1-2.8l-2.1-.9l-2.1 .6l-4.2 3l-3.2 .4l-2.1-1.4l-5.2-8l-2.1-1.7l-1.1 .2l-1 .9l-5.7 9l-1.7 2l-2.1 1.4l-1 .2l-2.1-.6l-4.2-3.6l-2.1-1.2l-2.2 .3l-3.1 2.2l-2.1 .8l-5.3-1.3l-1 1.8l-4.2 14.2l-6.3 15.7l-6.1 8.4l-6.5 13l-5.3 2.7l-2.1 .3l-4.2 0l-6.3-1.7l-2.1 0l-6.3 3.8l-5.3-1.6l-5.2 .7l-4.2-1.9l-2.1-.3l-6.3 3.4l-5.3 .3l-4.2 .9l-5.2 2.7l-2.1-2.3l-4.3-6.9l-3.1-3.4l-12.6-9l-7.4-2l-5.2-4.7l-8.4-10.7l-8.4-14.4l-2.1-1.3l-4.3 0l-1-2.1l-1.1-5.8l-2.1-5.5l-3.1-1.9l-1.5 1l-2.6 4.3l-1.5 8.5l-1.4 14.8l-2.6 55.1l-1.5 108.1l-1.5 62.3l-3.2 8.6l-3.1 2.8l-2.1 2.9l-3.2 7.6l-1.6 2.8l-1.3 4.2l.8 4.2l5.3 11.6l1 1.5l4.2 3.8l3.2 10l3.3 176.7zM325.6 616.4l12.5 0l0-17l.9-6.4l5.5-13.8l3.7-13.7l2.6-11.9l1-2.8l2.1-3.9l5.3-6.3l7.3-13.2l5.3-15l5.2-4.8l7.4-12.6l3.2-4.3l4.2-2.5l2.1-2.2l4.2-1.9l2.1 6l4.2 16.8l2.1 6.1l5.2 4.7l5.3 7.6l1-.2l3.2-3.4l4.2-2l2.1-1.7l9.5-13.4l4.2-3.3l1-1.5l5.3-12l2.1-3.6l2.1-1.4l3.1-.1l2.1-.8l5.3-4.9l4.2-5.9l4.2-9.2l6.3-8l1-.7l4.2-.7l4.3-4.4l1-.2l4.2 1.5l2.1-.5l2.1-2.1l4.2-9.1l1.1-1.9l1-.8l1.1 .7l1 2.5l2.1 8.6l2.1 5l1.1 .6l4.2-.5l2.1-1.4l1.8-3.7l3.3-14.9l1.2-3l1-.8l1.1 .5l2.1 2.7l1 .3l1.1-1.2l4.2-8.3l2.1-2.1l5.3-.3l2.1 1l5.2 9.9l2.1 2.2l1.1-.2l1-1.2l6.3-13l3.2-3.8l1-.3l4.2 1l5.3-1.7l2.1 .6l5.2 3l2.1-1.2l4.2-6.1l1.1-.5l3.2 .7l1-.2l3.2-2.2l0-42.1l-3.2-3.4l-1-.3l-2.2 3.4l-5.2 13.8l-2.1 4.1l-1.1 1l-1 .2l-2.1-1.1l-4.2-7l-2.1-2.1l-1.1 0l-3.1 2l-3.2 .8l-2.1 2.3l-6.3 10.8l-4.2 9.3l-1 1.5l-1.1 .2l-1-1.1l-5.3-13.8l-2.1-1.6l-3.1-3.7l-1.1 .9l-3.2 9.7l-2.1 4.2l-1 .7l-1.1-.5l-3.1-6.6l-1.1-.7l-1 1.4l-4.2 13.8l-2.1 4.3l-1.1 .2l-3.1-3.4l-1.1 .2l-3.1 4.6l-1.1 .1l-3.1-2l-1.1 .2l-4.2 3.7l-5.2 2.8l-2.1 .6l-4.2-1.2l-1.1 .3l-4.2 3.9l-2.1-.1l-5.3-2.5l-2.1 1l-1 1.6l-4.2 10.3l-2.1 1.8l-3.2 1l-2.1 2.1l-5.2 11.9l-7.4 13.3l-4.2 5.5l-4.2 3.7l-6.3 13.8l-5.3 7.3l-5.2 6.3l-3.2 5l-1-.2l-1.1-2.2l-5.2-14.2l-2.1-2.8l-2.1-.8l-2.1-3.4l-2.1-7.1l-4-18.4l-.2-.7l-1.1 .6l-2.1 3.4l-3.1 7.2l-6.3 5.1l-4.2 6l-5.3 9.6l-4.2 3.6l-1.1 1.6l-5.2 14.8l-7.4 15.5l-6.3 11.3l-9.3 32.2l-4.3 10.7l-5.3 15.6l-1 2l-1.1 .7l-1-.2l-2.1 .4l-1.1 1.1l-.5 1.5l-1.2 10.6l-.1 12.8zM138.5 460.3l1 .5l1.1-1.9l3.7-27l1.3-4.2l1.3-1.7l2.1-.1l5.2 1.5l1.1 1.2l3.1 12.9l1.1 1.1l1-2.2l2.1-7.3l1.1-1.8l1-.3l2.1 1.2l1.1 0l6-6.6l2.4-1.2l1.1 .6l1 2.1l3.2 12.1l1 .3l1.1-3.2l3.1-16.2l2.1-7.7l2.1-4.7l2.1-2.2l2.1 .5l1.1 1.7l2.1 6.7l4.2 18.1l1 1.3l1.1-1.6l1-3.9l1.9-9.1l1.9-14.8l2.8-50.9l-.3-21.2l-3.1-53.8l-1.2-9.8l-2-9.5l-2.8-7.5l-5.6-8.9l-3.1-7.8l-5.3-25.1l-2.1-6.2l-3.1-4l-3.2-3.2l-2.1-1.3l-2.1 .2l-2.1 1l-4.2 .1l-6.3-7.6l-2.1-1.4l-5.3 .8l-4.2-.7l-12.6 6.2l-5.2-1.1l-4.2 1.4l-1.1-.3l-3.1-3.2l-2.1-.9l-2.1 1.3l-3.2 3.9l-2.1 1.4l-1-.2l-4.3-3.2l-4.2-.3l-5.2-2.5l-4.2 .1l-4.2-1.9l-2.1-.4l-3.2 .3l-5.2 1.8l-4.2-.3l-11.6 3.4l-2.1 0l-4.2-1.5l-3.2 1.3l0 9l3.2-.9l3.2 1.2l2.1 .2l4.2-1.7l4.2 .3l4.2-1.7l4.2-.3l5.2-2.1l3.2-.4l2.1 .3l4.2 2.3l4.2 0l5.2 3.3l4.2 .3l4.3 2.9l1 0l1.1-.6l4.2-5.6l2.1-1.3l2.1 1.1l3.1 3.7l1.1 .6l1 0l3.2-1.6l5.2 .7l2.1-.4l6.3-3l4.2-2.9l1.1-.1l3.1 .8l5.3-.7l2.1 1.8l5.3 8.4l1 .8l2.1-.9l2.1 0l2.1-.6l2.1 .4l1.5 1l3.8 4.7l3.1 7.2l4.5 24.1l5.4 21.2l4.6 29.7l2.3 30.9l1.2 24.2l-.5 19.1l-.7 7.3l-1 4.7l-1.1-.3l-3.9-7.4l-1.3-.9l-1.1 .1l-3.1 2.5l-3.2 4.6l-2.1 4.8l-3.1 10.7l-1.1 1.5l-1-.7l-3.2-9l-1-2.1l-1.1-.7l-1 .4l-1.1 1.4l-4.6 12.8l-.6 1.5l-1.1 1l-1.1-.9l-.6-1.6l-3.6-10.9l-4.2-8.7l-1-.9l-1.1 .7l-4.2 8.9l-2.1 3.1l-1 .8l-1.1 .1l-3.1-2.1l-1.1 .5l-2.1 5.1l-3.1 14.6l-1.1 1.7l-1-.4l-1.1-1.9l-5.2-18.2l-1.1-2.9l-1-1l-1.1 1.3l-3.1 7.8l-1.1 .8l-1-.7l-3.2-8.2l-1-2l-1.1-.7l-2.1 .8l-6.3 4.2l-3.2 .9l-2.1 2.6l-3.1 8.7l-1.1 1.3l-1-.1l-1.1-1.6l-4.2-13.4l-1-.6l-1.1 2.5l-2.5 12.1l-1.7 4.9l-1 .5l-1.1-1.1l-3.1-6.7l-1.1-.6l-2.1 .7l-1-.5l-3.2-4.8l-1-.1l-1.1 1.5l-1 3.1l-2.5 9.5l-.7 1.6l-1 .5l-1.1-1.8l-1-3.8l-3.8-19.8l-2.6-9.7l0 47.5l2.6 8.8l3.8 10.4l3.1 6.8l2.1 3.2l1.1 .6l1-.5l3.2-4.9l1-.1l4.2 1.8l1.1-.3l2.1-2.1l3.1-5l4.2-13.7l1.5-2.5l.6-.4l1.1 .8l4.2 6.4l1 .9l1.1 0l1-1.2l3.2-6.8l1-1l3.2-1.3l3.1-2.9l1.1-.1l8.4 2.9l2.1-1.3l4.2-5.9l1.1 0l1 1.7l1.5 6l3.8 26.7l3.7 9.4z" fill="#433d84" stroke="#433d84" stroke-width="0.4"/>
<path d="M257.1 614.2l-2.4-86.9l-1.8-86.9l-.9-20.8l-1.1-5.4l-.4-5.6l.4-5.4l1.1-5.3l1.8-40.2l3.5-144.1l1.5-40.3l1.6-19.4l3.1-13.3l1.1-2.7l3.1 2.6l3.2 20.2l1 2.2l4.3 2l2.1 1.9l6.3 9.9l4.2 5.3l5.2 3.6l7.4 6.9l5.2 1.4l2.1 1.2l2.1 2l5.3 6.8l4.2 2.6l2.1 2.7l2 8.6l2.2 22.3l1.1 4.9l1-.2l1.1-3l2.8-19.8l1.4-4.2l1-1.2l1.1-.1l2.1 1.6l2.1 3.5l3.1 7l1.1 .2l2.1-3.9l4.2-13.9l1-1.1l1.1-.2l2 1.7l1.6 6.4l.6 4.7l1-3.5l1.2-7.6l1-2.1l2-2.1l1.1 0l1 .6l4.2 4.4l1.1-.2l3-4.8l1.2-1l2.1-.2l1.6 1.2l1.6 3.8l3.1 18.7l1.1 2.7l1-.9l4.2-11.5l.9-8.6l.7-2.1l1.6-2.3l2.1-1.9l4.2-6.3l3.7-12.8l4.7-8.6l6.3-14l4.2-11l1-1.3l5.3 1.5l5.2-2.4l2.2-.2l2.1 1l4.2 3.2l3.1 .7l3.2-1.7l6.3-7.4l2.1-1l2.1 1.1l5.2 5.9l3.2 1.5l2.1-.2l6.3-2.3l7.3 3.1l2.1-.3l4.3-1.8l2.1-.3l3.1 .9l6.3 4.6l2.1 .6l2.1-.8l5.3-4l7.3 .9l3.2-.1l2.1 .9l6.3 6.5l6.3 2.3l6.3 4.7l2.1 .4l5.3-.1l5.2 .8l8.4 3.2l4.2 .1l7.4-1.5l7.3-.4l2.1 .4l5.3 2.4l6.3 .9l3.2 1.7l0-5.4l-3.2-1.8l-6.3-1l-6.3-2.7l-6.3 .1l-7.4 1.6l-4.2 .2l-3.1-.6l-5.3-2.8l-2.1-.6l-5.2-.8l-5.3 .2l-2.1-.4l-6.3-5.2l-6.3-3l-6.3-7.8l-2.1-1.2l-3.2 .2l-6.3-1.2l-1 .1l-5.3 4.6l-2.1 .9l-2.1-.6l-6.3-5.5l-3.1-1.1l-2.1 .4l-5.3 2.5l-2.1-.3l-4.2-2.8l-2.1-.7l-2.1 .5l-4.2 2.4l-3.2 .1l-2.1-1.2l-5.2-6.9l-2.1-1.3l-2.1 1l-6.3 8.5l-3.2 2.1l-3.1-.6l-4.2-3.3l-2.1-1.1l-2.2 .3l-5.2 2.6l-5.3-1.4l-1 1.5l-5.7 16.2l-4.8 10.7l-5.3 8.6l-3.1 9.1l-3.8 7.6l-.4 .8l-4.2 2.9l-2.1 .7l-5.3 .1l-5.3-2.6l-2.1-.5l-2.1 .8l-4.2 3l-2.1-.1l-3.1-1.8l-1.1-.2l-4.2 2.2l-1 .1l-5.3-2.2l-2.1 .5l-6.3 3l-5.2-.3l-3.2 .4l-2.1 1l-3.1 2.8l-2.1-1.6l-4.3-7.1l-2.1-2.6l-5.2-3.9l-5.3-5.6l-4.2-2.7l-4.2-.6l-2.1-.8l-5.2-4.6l-6.3-6.6l-4.2-5.9l-6.3-10.9l-2.1-1.8l-4.3-1.3l-1-2.2l-3.2-17.2l-3.1-2.2l-1.1 1l-3.1 10.4l-2.4 25.9l-1.9 50.9l-1.7 93.3l-1.9 67.8l-.5 9.9l-4.3 19.8l4.3 20.6l.2 4.8l4.1 182.4l.8 0zM322.4 616.4l2.4 0l.1-12.8l1.2-10.6l.5-1.5l1.1-1.1l2.1-.4l1 .2l1.1-.7l1-2l5.3-15.6l4.3-10.7l9.3-32.2l6.3-11.3l7.4-15.5l5.2-14.8l1.1-1.6l4.2-3.6l5.3-9.6l4.2-6l6.3-5.1l3.1-7.2l2.1-3.4l1.1-.6l.2 .7l4 18.4l2.1 7.1l2.1 3.4l2.1 .8l2.1 2.8l5.2 14.2l1.1 2.2l1 .2l3.2-5l5.2-6.3l5.3-7.3l6.3-13.8l4.2-3.7l4.2-5.5l7.4-13.3l5.2-11.9l2.1-2.1l3.2-1l2.1-1.8l4.2-10.3l2.1-2.4l2.1 .1l5.2 2.5l2.1-.9l3.2-3.2l1.1-.3l4.2 1.2l2.1-.6l5.2-2.8l4.2-3.7l1.1-.2l3.1 2l1.1-.1l3.1-4.6l1.1-.2l3.1 3.4l1.1-.2l2.1-4.3l4.2-13.8l1-1.4l1.1 .7l3.1 6.6l1.1 .5l1-.7l2.1-4.2l3.2-9.7l1.1-.9l3.1 3.7l2.1 1.6l1.1 1.9l3.1 9.7l1.1 2.2l1 1.1l1.1-.2l1-1.5l4.2-9.3l6.3-10.8l2.1-2.3l3.2-.8l3.1-2l1.1 0l2.1 2.1l4.2 7l2.1 1.1l1-.2l1.1-1l2.1-4.1l6.3-16l1.1-1.2l1 .3l3.2 3.4l0-50.9l-1.1 1.7l-2.1 6.9l-3.3 17.5l-2 7.4l-2.1 3.8l-4.2 3.4l-1-.2l-1.1-1.3l-4.2-10.3l-1-1.5l-3.2-2.7l-2.1-4.2l-1-1.1l-1.1 .7l-1 2.3l-6.1 18.5l-1.3 2.4l-1 .8l-1.1-.6l-3.1-5.9l-1.1 .3l-3.1 6.8l-1.1 .2l-6.3-5.6l-3.1-7.4l-1.1-.2l-1.1 2.7l-2.4 10.7l-1.8 3.9l-1 .1l-1.1-1.3l-3.1-7.4l-1.1-1.8l-1-.6l-1.1 .6l-1 1.9l-4.2 11.8l-1.1 1l-1-.2l-2.1-1.9l-1.1 0l-1 1.6l-3.2 7.6l-1 .7l-1.1-.3l-2.1-2.9l-3.1-10.9l-1.1 1.4l-3 13.7l-1.2 3.1l-2.1 3.2l-1 .5l-1.1 0l-3.1-2.3l-1.1-.2l-1 .8l-3.2 5l-1.1 .9l-1 .2l-2.1-1.4l-3.2-3l-1-.4l-1.1 .4l-4.2 6.9l-1 .7l-3.2 .3l-1 1.1l-5.3 9.8l-4.2 3.4l-1 1.6l-2.1 6.2l-3 12l-1.2 3.1l-7.4 7.6l-7.3 15.8l-7.4 11l-5.3 10l-1-.6l-4.2-13.1l-1.9-4.2l-2.3-2.6l-2.1-.8l-2.1-4.1l-2.6-9.4l-3.7-18.1l-1.1-.4l-1 1.6l-4.2 16.9l-1.1 2.3l-1 1.1l-2.1 .1l-1.7-1.4l-3.6-7l-1-1.1l-1.1 1.8l-2.9 16.9l-1.3 5.1l-1.1 2.2l-1 1l-3.2 .2l-1 1.5l-5.3 16.6l-12.6 29.2l-5.2 20.5l-8.4 25.6l-4.2 14.5l-2.1 4.4l-1.1 1.2l-4.2 2.5l-1 1.2l-2.8 5.7l-1.1 4.3l-.5 8.5l.8 21.2zM137.4 410.9l1.1-1.7l3.1-14.6l2.1-5.1l1.1-.5l3.1 2.1l1.1-.1l1-.8l2.1-3.1l4.2-8.9l1.1-.7l1 .9l4.2 8.7l3.6 10.9l.6 1.6l1.1 .9l1.1-1l4.2-12l2.1-3.7l1-.4l1.1 .7l4.2 11.1l1 .7l1.1-1.5l4.2-13.5l2.3-4.1l2.9-3.6l2.1-1.4l1.1-.1l1 .6l1.7 2.4l2.5 5.3l1.1 .3l1-4.7l1.1-14.8l0-15.8l-3.4-50.9l-4.6-29.7l-5.4-21.2l-3.8-21.2l-2.8-8l-4.2-6.2l-3.1-2l-5.3 .6l-2.1 .9l-1-.8l-5.3-8.4l-2.1-1.8l-5.3 .7l-3.1-.8l-1.1 .1l-4.2 2.9l-6.3 3l-2.1 .4l-5.2-.7l-3.2 1.6l-1 0l-1.1-.6l-3.1-3.7l-2.1-1.1l-2.1 1.3l-3.2 4.4l-2.1 1.8l-1 0l-4.3-2.9l-4.2-.3l-1-.4l-4.2-2.9l-4.2 0l-4.2-2.3l-2.1-.3l-3.2 .4l-5.2 2.1l-4.2 .3l-4.2 1.7l-4.2-.3l-4.2 1.7l-2.1-.2l-3.2-1.2l-3.2 .9l0 15.6l2.1-5.6l1.1-.6l1.4 2.3l1.2 6.3l1 12.7l.6 22.8l.5-22.8l.8-8.4l1.6-8.5l1.3-3.5l1.1-1.2l1.4 .4l1.7 2.6l1.1 .8l3.1-5.4l1.1-.8l4.2-1l4.2-2.7l2.1-.6l2.1-.2l2.1 .6l4.2 2.7l4.2-.1l2.1 1.6l3.1 4.4l1.1 .8l2.1-.3l1 .8l1.2 3.2l3.1 15.7l1-1.9l1.8-13.8l1.3-6.4l2.2-4.4l2.1-1.3l1 .4l1.1 1.4l1.3 3.9l2.9 24.7l1-.2l2.1-18.1l1.1-4.3l1-1.3l1.1-.1l1 .6l4.2 3.1l1.1-.5l3.9-6l5.5-4.9l1.1-.2l4.2 .6l3.1-.4l1.7 .7l1.7 2.1l1.4 4.2l2.4 40.3l2.3 22.7l1.1 7l1 2.5l1.1-4.8l1.7-31.6l1.7-17l1.8-4.2l2.1-1.5l2.1 .8l2.1 3.5l2.1 8.6l7.4 42.5l1.2 9.7l.7 10.6l.3 16.9l-.4 12.8l-.7 8.4l-1.1 5.6l-1.5 2.9l-1.7 1.6l-1 .2l-4.2-2l-1.1 0l-3.1 1.5l-1.1-.7l-1-1.6l-4.2-9.3l-1.1-1.2l-1 .7l-1.1 3.4l-2.6 13.8l-.5 2.1l-1.1 1.8l-1.1-1l-1-3l-4.2-16.8l-2.1-4.9l-1.1-.9l-1 .4l-3.2 7.6l-1 1.4l-1.1-1.2l-1.1-4.6l-3.1-21.8l-2.3-7.9l-1.6-12.7l-1.3-3.4l-1.1 4.5l.4 20.1l-2 23.3l-2.4 17l-2.2 8.5l-1.1 2.3l-1.1-.1l-1-2.5l-3.2-17.7l-1-2.1l-1.1 1.4l-2.1 5.6l-1-.4l-3.3-20.5l-2-6.6l-1-.7l-1.1 2l-3.2 14.5l-1 2.6l-1.1 0l-1-2.9l-3.2-14.6l-1-2.2l-1.1-.1l-.8 1.7l-2.3 11.4l-3.2 24.7l-1 2.8l-1.1-2.1l-.4-2.9l-2.7-29.9l-1.1-3.2l-3.1 13.5l-3.2 22.3l-1 2l-1.1-1.7l-1-4.4l-3-19.8l-1.5-17l-.8-25.7l-2.1-18.9l-1-4.8l-1 7l-.2 6.4l.5 31.8l-4.6 32.9l-1 3.1l-1.1-.6l-3.1-18.9l-1.1-3.6l-1.1 1.6l-2.5 15.2l-1.7 6.4l0 26.3l1.7 5.4l4 21.2l1.7 6.7l1.1 1.8l1-.5l3.2-11.1l1-3.1l1.1-1.5l1 .1l3.2 4.8l1 .5l2.1-.7l1.1 .6l3.1 6.7l1.1 1.1l1-.5l1.1-2.5l3.1-14.5l1.1-2.5l1 .6l4.2 13.4l1.1 1.6l1 .1l1.1-1.3l3.1-8.7l1.1-1.8l1-.8l3.2-.9l6.3-4.2l2.1-.8l1.1 .7l1 2l3.2 8.2l1 .7l1.1-.8l1-2.1l2.1-5.7l1.1-1.3l1 1l5.3 18.2l1 2.9l1.6 2.1zM353.9 303.3l1.1 1.4l1-.5l1.1-2.7l1.4-9.5l1.2-17l-.1-21.2l-1.5-19.6l-1-4.7l-1.6 11.6l-3.7 17l-.6 6.3l-.1 10.6l.6 12.8l1.1 10.6l.9 4.2z" fill="#404688" stroke="#404688" stroke-width="0.4"/>
<path d="M257.2 616.4l.6 0l-.4-23.4l-2.2-69.9l-1.8-82.7l-1.4-31.8l1.6-31.8l2.4-67.8l2.1-93.3l1.6-40.3l.7-9.2l4.2-11.8l3.1 .7l3.2 18.9l1 2l5.3 2.6l11.6 13.4l5.2 2.4l2.1 2.1l4.2 5.9l2.1 1.5l5.3 2.3l1.2 1l1.3 2.1l1.3 6.4l1.4 14.2l1.1 5.9l1 1.1l2.1 .8l3.2 2.2l1 2.2l1.1 5.6l1.3 16.7l1.9 47.6l1 11.2l1.1 3l1-1.8l1.1-4.7l1.2-8.6l2.5-40.3l1.5-10.3l1.1 1.8l2.7 31.8l4.7 36.1l1 6.4l1.8 6.3l2.4 5.3l1 1.1l1.1-.6l3.5-7.9l.7-1.1l1-.6l1.1 .8l1 2l3.2 8.9l1-1.3l1.3-10.9l.8-24.3l1.8 26.5l3.5 21.3l1 3.5l1.1-.6l1-3.9l1.1-.5l1.5 20.4l.5 29.7l-.5 10.6l-1.2 8.5l-1.4 2.6l-2.1 .1l-5.2 11.4l-1.1 1.5l-2.1 1.2l-1 1.1l-1.1 3.1l-4 19.3l-5.4 17.6l-9.8 37.5l-8.1 26.2l-2.1 5.1l-4.2 5.7l-4.2 8.3l-5.3 7l-2.1 5.3l-2 10.2l-.8 14.9l2 4.2l2.9 2.1l1.2 2.2l3.7 0l-.8-21.2l.5-8.5l1.1-4.3l2.8-5.7l1-1.2l4.2-2.5l1.1-1.2l2.1-4.4l4.2-14.5l8.4-25.6l5.2-20.5l12.6-29.2l5.3-16.6l1-1.5l3.2-.2l1-1l1.1-2.2l1.3-5.1l2.9-16.9l1.1-1.8l1 1.1l3.6 7l1.7 1.4l2.1-.1l1-1.1l1.1-2.3l4.2-16.9l1-1.6l1.1 .4l3.7 18.1l2.6 9.4l2.1 4.1l2.1 .8l2.3 2.6l1.9 4.2l4.2 13.1l1 .6l5.3-10l7.4-11l7.3-15.8l7.4-7.6l1.2-3.1l3-12l2.1-6.2l1-1.6l4.2-3.4l5.3-9.8l1-1.1l3.2-.3l1-.7l4.2-6.9l1.1-.4l1 .4l3.2 3l2.1 1.4l1-.2l1.1-.9l3.2-5l1-.8l1.1 .2l3.1 2.3l1.1 0l1-.5l2.1-3.2l1.2-3.1l3-13.7l1.1-1.4l3.1 10.9l2.1 2.9l1.1 .3l1-.7l3.2-7.6l1-1.6l1.1 0l2.1 1.9l1 .2l1.1-1l4.2-11.8l1-1.9l1.1-.6l1 .6l1.1 1.8l3.1 7.4l1.1 1.3l1-.1l1.8-3.9l2.4-10.7l1.1-2.7l1.1 .2l3.1 7.4l6.3 5.6l1.1-.2l3.1-6.8l1.1-.3l3.1 5.9l1.1 .6l1-.8l1.3-2.4l6.1-18.5l1-2.3l1.1-.7l1 1.1l2.1 4.2l3.2 2.7l1 1.5l4.2 10.3l1.1 1.3l1 .2l4.2-3.4l2.1-3.8l2-7.4l3.3-17.5l2.1-6.9l1.1-1.7l0-28.1l-4.6 16l-3.9 17.8l-1 .6l-3.2-10.9l-1 .7l-3.2 8l-1 .3l-2.1-3.3l-5.3-12.7l-1-1.1l-1.1 .2l-1 1.6l-4.2 12.2l-2.9 5.7l-2.4 11.2l-1 2.9l-1.1-.5l-3.1-11.3l-1.1-1.2l-1 1.6l-3.2 9.8l-1 1.4l-1.1 .4l-2.1-.5l-1-1.1l-4.2-11.1l-1.1-1.2l-1.1 2l-3.1 19.5l-1.1 3.5l-1 1.1l-1.1-.6l-1-1.8l-3.2-7.6l-1-1.1l-1.1 .1l-2.1 3.9l-3.1 9.1l-1.1 1.3l-1 .1l-3.2-3l-1-.1l-3.2 4.1l-1 .1l-1.1-2l-.8-3.6l-2.3-15.3l-1.1-3.7l-1-1.4l-1.1 .4l-1.4 3.1l-4.9 20l-2.1 4.3l-2.1 2.1l-4 1.1l-3.4 3l-1 .2l-4.2-3.6l-1.1-.4l-1 .2l-4.2 5.5l-1.1 .4l-1-1.2l-.7-2l-2.5-8.1l-1 0l-4.2 21.3l-1.1 2l-1 .7l-2.1-.5l-1.1 .4l-1 1.6l-6.3 14.8l-4.2 7.2l-4.2 5.2l-2.1 3.3l-2.1 6.1l-3.3 13.9l-2 5.6l-4.2 6.2l-5.3 9.4l-1-.5l-5.3-11.4l-5.4-7.2l-2-8.5l-2.1-14.8l-2.8-40.3l-2.8-27.6l0-12.7l1.5-31.8l.2-19.1l-.2-17.5l-1.7-20.6l1.6-27.6l1.5-8.5l3.8-11.7l8.4-17.4l5.3-12.5l1-1l5.3 1.4l5.2-2.2l2.2-.1l2.1 .9l4.2 3.1l3.1 .8l3.2-1.3l6.3-6.6l2.1-.9l2.1 .9l5.2 5.3l3.2 1.5l2.1 0l6.3-1.9l2.1 .5l4.2 1.9l2.1 .1l5.3-1.7l2.1-.3l3.1 .8l6.3 3.9l2.1 .5l2.1-.7l5.3-3.6l2.1 0l3.1 .7l6.3 .1l7.4 6.3l6.3 2l6.3 4.4l10.5 1.1l4.2 1l6.3 2.4l4.2-.2l7.4-1.4l7.3-.2l2.1 .4l5.3 2.4l6.3 1l3.2 1.5l0-6.1l-3.2-1.7l-6.3-.9l-6.3-2.7l-7.4 .1l-7.3 1.6l-4.2 .1l-3.2-.7l-5.2-2.4l-3.2-.6l-9.4-.4l-2.1-.9l-5.3-4.1l-6.3-2.3l-6.3-6.5l-2.1-.9l-3.2 .1l-7.3-.9l-5.3 4l-2.1 .8l-2.1-.6l-6.3-4.6l-3.1-.9l-2.1 .3l-4.3 1.8l-2.1 .3l-7.3-3.1l-6.3 2.3l-2.1 .2l-3.2-1.5l-5.2-5.9l-2.1-1.1l-2.1 1l-6.3 7.4l-3.2 1.7l-3.1-.7l-4.2-3.2l-2.1-1l-2.2 .2l-5.2 2.4l-5.3-1.5l-1 1.3l-4.2 11l-6.3 14l-4.7 8.6l-3.7 12.8l-4.2 6.3l-2.1 1.9l-1.6 2.3l-.7 2.1l-.9 8.6l-4.2 11.5l-1 .9l-1.1-2.7l-3.1-18.7l-1.6-3.8l-1.6-1.2l-2.1 .2l-1.2 1l-3 4.8l-1.1 .2l-4.2-4.4l-1-.6l-1.1 0l-2 2.1l-1 2.1l-1.2 7.6l-1 3.5l-.6-4.7l-1.6-6.4l-2-1.7l-1.1 .2l-1 1.1l-4.2 13.9l-2.1 3.9l-1.1-.2l-3.1-7l-2.1-3.5l-2.1-1.6l-1.1 .1l-1 1.2l-1.4 4.2l-2.8 19.8l-1.1 3l-1 .2l-1.1-4.9l-2.2-22.3l-2-8.6l-2.1-2.7l-4.2-2.6l-5.3-6.8l-2.1-2l-2.1-1.2l-5.2-1.4l-7.4-6.9l-5.2-3.6l-4.2-5.3l-6.3-9.9l-2.1-1.9l-4.3-2l-1-2.2l-3.2-20.2l-3.1-2.6l-1.1 2.7l-3.1 13.3l-1.6 19.4l-1.5 40.3l-3.5 144.1l-1.8 40.2l-1.1 5.3l-.4 5.4l.4 5.6l1.1 5.4l.9 20.8l1.8 86.9l2.4 89.1zM388.3 417.1l-1.1-4.3l-1-10.6l-.5-10.6l.2-8.4l1.7-15l3.1-11.2l1.1-1.7l.9 4.5l.3 4.3l.7 23.3l-.1 8.5l-1.8 18.5l-1.1 3.5l-1 1l-1.1-1zM353.7 302.6l-.9-4.2l-1.1-10.6l-.6-12.8l.1-10.6l.6-6.3l3.7-17l1.6-11.6l1 4.7l1.5 19.6l.1 21.2l-1.2 17l-1.4 9.5l-1.1 2.7l-1 .5l-1.1-1.4zM307.7 616.4l3.2 0l.5-4.3l-.3-4.2l-1.3-3.5l-1.1-.6l-1 2.8l-.5 9.8zM133.2 364.2l1.1 .1l2.1-5.5l2.9-15.9l2.6-27.6l-.4-19.1l.1-3.1l1.1-4.5l1.3 3.4l1.6 12.7l2.3 7.9l3.1 21.8l1.1 4.6l1.1 1.2l1-1.4l3.2-7.6l1-.4l1.1 .9l2.1 4.9l5.2 19.8l1.1 1l1.1-1.8l3.1-15.9l1.1-3.4l1-.7l1.1 1.2l4.2 9.3l1 1.6l1.1 .7l3.1-1.5l1.1 0l4.2 2l1-.2l1.7-1.6l1.5-2.9l1.3-7.7l.8-12.7l0-17l-.7-14.8l-1.4-11.8l-7.5-43.3l-2-7.8l-2.1-3.5l-2.1-.8l-2.1 1.5l-1.8 4.2l-1.7 17l-1.7 31.6l-1.1 4.8l-1-2.5l-1.1-7l-2.3-22.7l-2.4-40.3l-1.4-4.2l-2.3-2.6l-9.5-.2l-5.5 4.9l-3.9 6l-1.1 .5l-4.2-3.1l-1-.6l-1.1 .1l-1 1.3l-1.1 4.3l-2.1 18.1l-1 .2l-2.9-24.7l-1.3-3.9l-1.1-1.4l-1-.4l-2.1 1.3l-2.2 4.4l-1.3 6.4l-1.8 13.8l-1 1.9l-3.1-15.7l-1.2-3.2l-1-.8l-2.1 .3l-1.1-.8l-3.1-4.4l-2.1-1.6l-4.2 .1l-4.2-2.7l-2.1-.6l-2.1 .2l-2.1 .6l-4.2 2.7l-4.2 1l-1.1 .8l-3.1 5.4l-1.1-.8l-1.7-2.6l-1.4-.4l-1.1 1.2l-1.3 3.5l-1.6 8.5l-.8 8.4l-.5 22.8l-.7-24.9l-1.2-12.7l-.9-4.2l-1.2-2.2l-1.3 .5l-1 2.4l-1.1 3.2l0 25l1.1 3.2l.5 3.9l.4 12.7l-2 52.2l0 34.8l1.7-6.4l2.5-15.2l1.1-1.6l1.1 3.6l3.1 18.9l1.1 .6l1-3.1l4.6-32.9l-.5-31.8l.2-6.4l1-7l1 4.8l2.1 18.9l.8 25.7l1.5 17l3 19.8l1 4.4l1.1 1.7l1-2l3.2-22.3l3.1-13.5l1.1 3.2l2.7 29.9l.4 2.9l1.1 2.1l1-2.8l3.2-24.7l2.3-11.4l.8-1.7l1.1 .1l1 2.2l3.2 14.6l1 2.9l1.1 0l1-2.6l3.2-14.5l1.1-2l1 .7l2 6.6l3.3 20.5l1 .4l2.1-5.6l1.1-1.4l1 2.1l2.3 13.7l1.9 6.4zM188.4 304.7l-1.6-9.8l-1-1l-1.1-.1l-3.1 3.7l-1.1-1l-1.4-8.7l-.4-14.9l1-16.9l.8-4.1l1.1-2.4l1-.7l1.1 .9l1 2.7l1.1 7.7l1 26.3l.7 3.5l1.4 2.9l1.1 5.6l0 8.4l-1.1-.2zM123.7 275l-1-1.9l-1-6.5l-.5-12.8l.5-16.9l1-7.1l1.1-.6l1.1 5.6l1.1 21.2l-.6 12.7l-.6 4.4l-1 2zM85.8 270.8l-.9-6.4l-.4-10.6l.5-12.7l1.2-10.6l1.5-6.3l1.4-2.9l1-1l1.1-.2l1 .8l1.1 2.7l.9 6.9l.3 6.4l-.3 10.6l-.6 6.3l-.9 4.3l-3.6 11.3l-1.1 2.2l-1 .8l-1.1-1.3zM154.2 253.8l-1-4.3l-.5-8.4l0-8.5l.5-5.7l1-2.7l1.1-.3l2.1 1.2l1 1.7l.4 5.8l-1.4 14.2l-1.1 5.5l-1 2.3l-1.1-.5z" fill="#3c4f8a" stroke="#3c4f8a" stroke-width="0.4"/>
<path d="M258.3 616.4l-.2-21.2l-2.5-78.5l-1.7-74.2l-1.4-33.9l4.1-97.5l2.5-95.4l1.3-30.3l4.2-10.2l3.1-3.7l1.8 12.4l1.4 5.2l1 1l3.2 .4l2.1 1.2l12.6 11.4l4.2 1l2.1 2.7l1.2 2.5l3 10.5l3.2 8.6l1.5 8.5l1.8 23.3l2.9 53l1.1 11.5l1.1 4.7l1 1.8l1.1-.7l2.1-3.2l1 .4l3.8 10.9l3.6 16l1.1 2.5l1 .5l1.1-1.4l1-2.9l4.2-14.2l1.1-2.3l1-1l1.1 .7l1.6 4.3l1.5 6.9l4.2 27.1l1.1 4.6l2.1 5.2l2.1 2.3l1-1l4.2-16.7l1.1-1.8l1 .8l1.7 8.6l2.4 25.4l-.1 8.5l-4 31.8l-1 4.1l-3.2 8.5l-4.2 21.3l-4.2 12.6l-9.4 39.2l-3.2 8.5l-4.2 7.2l-4.3 15.2l-2 3.5l-4.2 4.7l-5.3 12.8l-4.1 4.5l-1.1 1.7l-3.2 8.1l-1-1.4l-1.4-4.2l-1.5-2.1l-1.3 .3l-1 1.8l-1.1 4.9l-.9 7.8l-.4 14.9l5.8 0l1.8-16.2l1-.3l1.8 16.5l3 0l.5-9.8l1-2.8l1.1 .6l.6 1.4l1.1 4.2l-.6 6.4l7.4 0l-1.2-2.2l-2.9-2.1l-2-4.2l.8-14.9l2-10.2l2.1-5.3l5.3-7l4.2-8.3l4.2-5.7l2.1-5.1l8.1-26.2l9.8-37.5l5.4-17.6l4-19.3l1.1-3.1l1-1.1l2.1-1.2l1.1-1.5l5.2-11.4l2.1-.1l1.1-1.5l1.1-5.3l.9-12.8l-.5-31.8l-1.5-20.4l-1.1 .5l-1 3.9l-1.1 .6l-1-3.5l-3.5-21.3l-1.8-26.5l-.8 24.3l-1.3 10.9l-1 1.3l-3.2-8.9l-1-2l-1.1-.8l-1 .6l-1.1 1.6l-3.1 7.4l-1.1 .6l-1-1.1l-3.2-7.4l-1-4.3l-5.7-42.4l-2.7-31.8l-1.1-1.8l-1.5 10.3l-2.5 40.3l-1.2 8.6l-1.1 4.7l-1 1.8l-1.1-3l-1-11.2l-1.9-47.6l-1.3-16.7l-1.1-5.6l-1-2.2l-3.2-2.2l-2.1-.8l-1-1.1l-1.1-5.9l-1.4-14.2l-1.3-6.4l-1.3-2.1l-1.2-1l-5.3-2.3l-2.1-1.5l-4.2-5.9l-2.1-2.1l-5.2-2.4l-11.6-13.4l-5.3-2.6l-1-2l-3.2-18.9l-3.1-.7l-4.2 11.8l-.7 9.2l-1.6 40.3l-2.1 93.3l-2.4 67.8l-1.6 31.8l1.4 33.9l4.4 173.9zM364.2 417.1l-1.5-4.3l-.8-6.3l1.5-10l1-4.4l1.1-1.6l1.2 5.4l.5 12.7l-.7 6l-1 2.7l-1.1 .1zM417 448.4l1 .5l5.3-9.4l4.2-6.2l2-5.6l3.3-13.9l2.1-6.1l2.1-3.3l4.2-5.2l4.2-7.2l6.3-14.8l1-1.6l1.1-.4l2.1 .5l1-.7l1.1-2l4.2-21.3l1 0l2.5 8.1l.7 2l1 1.2l1.1-.4l4.2-5.5l1-.2l1.1 .4l4.2 3.6l1-.2l3.4-3l4-1.1l2.1-2.1l2.1-4.3l4.9-20l1.4-3.1l1.1-.4l1 1.4l1.1 3.7l2.3 15.3l.8 3.6l1.1 2l1-.1l3.2-4.1l1 .1l3.2 3l1-.1l1.1-1.3l3.1-9.1l2.1-3.9l1.1-.1l1 1.1l3.2 7.6l1 1.8l1.1 .6l1-1.1l1.1-3.5l3.1-19.5l1.1-2l1.1 1.2l4.2 11.1l1 1.1l2.1 .5l1.1-.4l1-1.4l3.2-9.8l1-1.6l1.1 1.2l3.1 11.3l1.1 .5l1-2.9l2.4-11.2l2.9-5.7l4.2-12.2l1-1.6l1.1-.2l1 1.1l5.3 12.7l2.1 3.3l1-.3l3.2-8l1-.7l3.2 10.9l1-.6l3.9-17.8l4.6-16l0-19.5l-2.1 7.3l-1.1 2.2l-4.2 5.5l-1.1 .1l-3.1-4l-1.1 0l-2.1 2.8l-3.1 6.9l-1.1 .3l-1-1.4l-3.2-7.6l-1-1.4l-1.1-.5l-1 .4l-1.1 1.5l-4.2 12.9l-1 1.5l-1.1-.2l-2.1-2.4l-1 .4l-3.2 6.3l-1-.9l-2.1-4.5l-1.1-1l-1 .6l-3.9 12.8l-1.4 2.1l-4.2-2.1l-4.2-6.2l-1.1 .9l-1 4.3l-2.6 22.2l-1.6 6.8l-1.1 .6l-1-1.3l-3.2-8.1l-1-1.4l-1.1-.1l-1 1.2l-1.1 2.5l-3 10.4l-1.2 2.3l-1 .3l-1.1-.9l-3.1-5l-1.1-.7l-2.1-.6l-1-1.5l-3.5-13l-1.8-3.5l-1-.5l-1.1 .4l-1.1 1.5l-8.3 19.7l-2.1 3.2l-1.1 .2l-3.2-1.4l-3.1 .2l-3.2-2.3l-1 .4l-4.2 6.7l-2.1 2.1l-1.1-.9l-.9-2.4l-2.4-8.5l-.9-1.9l-1 .1l-1.1 2.4l-3.1 15.9l-1.1 2.7l-1 .2l-2.1-2.3l-1.1 .4l-4.2 11.3l-3.1 5.3l-4.2 10.1l-2.1 2.2l-3.2 .7l-2.1 1.9l-2.1 6.3l-3.2 15.1l-2.1 7.3l-8.4 18.7l-1-.2l-10.3-28.4l-1.3-9.9l-1.4-32.5l-2.8-20l-.6-11.8l-.1-48.7l-.9-63.6l.2-6.4l1.4-6.4l3.3-8.4l7.2-15l5.3-12.3l1-1l5.3 1.5l5.2-2l2.2-.1l2.1 .9l4.2 3l3.1 1l3.2-1.1l6.3-5.8l2.1-.8l2.1 .7l6.3 5.5l3.1 1l7.4-1.5l6.3 2.1l2.1 .1l5.3-1.5l3.1-.1l3.2 1l5.2 2.8l2.1 .5l2.1-.6l5.3-3.2l6.3 .8l4.2-.2l2.1 .8l6.3 5.4l6.3 2l6.3 4.2l2.1 .5l8.4 .6l4.2 .9l5.3 2l4.2 0l8.4-1.5l7.3 0l3.2 .8l4.2 2l6.3 1l3.2 1.4l0-6.2l-3.2-1.5l-6.3-1l-6.3-2.6l-7.4-.1l-8.4 1.5l-4.2 .2l-6.3-2.4l-4.2-1l-9.4-.8l-2.1-.8l-5.3-3.9l-6.3-2l-6.3-5.7l-2.1-.8l-4.2 .2l-6.3-.8l-5.3 3.6l-2.1 .7l-2.1-.5l-6.3-3.9l-3.1-.8l-2.1 .3l-5.3 1.7l-2.1-.1l-4.2-1.9l-2.1-.5l-6.3 1.9l-2.1 0l-3.2-1.5l-5.2-5.3l-2.1-.9l-2.1 .9l-6.3 6.6l-3.2 1.3l-3.1-.8l-4.2-3.1l-2.1-.9l-2.2 .1l-5.2 2.2l-5.3-1.4l-1 1l-5.3 12.5l-8.4 17.4l-3.8 11.7l-1.5 8.5l-1.6 27.6l1.7 20.6l.2 17.5l-.2 19.1l-1.5 31.8l0 12.7l2.8 27.6l2.6 38.2l1.9 14.8l2.4 10.6l5.4 7.2l4.5 9.8zM388.6 417.9l1.1 1l1-1l1.1-3.5l1.8-18.5l.1-8.5l-.7-23.3l-.3-4.3l-.9-4.5l-1.1 1.7l-3.1 11.2l-1.7 15l-.2 8.4l.5 10.6l1 10.6l1.1 4.3zM57.6 313.2l1.9-53l-.7-12.7l-1.3-5l0 72zM188.9 306.6l1.1 .2l0-8.4l-1.1-5.6l-1.4-2.9l-.7-3.5l-1-26.3l-1.1-7.7l-1-2.7l-1.1-.9l-1 .7l-1.1 2.4l-.8 4.1l-1 16.9l.4 14.9l1.4 8.7l1.1 1l3.1-3.7l1.1 .1l1 1l1.6 9.8zM123.8 275.1l1-2l.6-4.4l.6-12.7l-1.1-21.2l-1.1-5.6l-1.1 .6l-1 7.1l-.5 16.9l.5 12.8l1 6.5l1 1.9zM85.9 271.1l1.1 1.3l1-.8l1.1-2.2l3.6-11.3l.9-4.3l.6-6.3l.3-10.6l-.3-6.4l-.9-6.9l-1.1-2.7l-1-.8l-1.1 .2l-1 1l-1.4 2.9l-1.5 6.3l-1.2 10.6l-.5 12.7l.4 10.6l.9 6.4zM154.2 254.1l1.1 .5l1-2.3l1.1-5.5l1.4-14.2l-.4-5.8l-1-1.7l-2.1-1.2l-1.1 .3l-1 2.7l-.5 5.7l0 8.5l.5 8.4l1 4.3z" fill="#38598c" stroke="#38598c" stroke-width="0.4"/>
<path d="M259 614.2l-5.9-205.6l4.1-96.6l3.2-104.5l5.2-3.6l2.1-2.1l3.2 2.4l3.2-.6l2.1 .3l9.4 6.8l1.1 1.3l3.1 6.5l3.2 2.7l1.5 7.2l1.6 27l1.1 8.7l1 4l1.1 1.5l2.1 .6l1 4.3l3.5 51.4l1.3 12.7l1.6 8.5l2.1 6.4l2 1.5l2.1-.3l1.1 .8l1 2.2l4.2 14l3.2 6.3l1.1 .4l1-1.3l4.2-11.5l2.1-3.9l1.1-1l1-.1l1.1 1.1l1 2.5l1.5 6.2l3.3 23.4l3.4 14.8l1.5 10.6l.5 14.8l-.7 11.1l-1.1 5l-3.1 6.2l-1.1 3.6l-3.3 20.8l-7.2 31.8l-1 3.5l-3.2 6.9l-4.2 18.7l-2.1 7.1l-5.3 8.4l-4.2 11.2l-2.1 3.2l-5.2 5.4l-1.1 .5l-3.1-1.4l-1.1 .1l-1 .7l-2.4 3.5l-1.9 4.3l-1.2 4.2l-.3 4.2l.7 23.4l1.7 0l.4-14.9l.9-7.8l1.1-4.9l1-1.8l1.3-.3l1.5 2.1l1.4 4.2l1 1.4l3.2-8.1l1.1-1.7l4.1-4.5l5.3-12.8l5.2-6.2l1.7-4.1l3.6-13.1l4.2-7.2l2.1-5.1l4.1-14.9l6.4-27.7l4.2-12.6l4.2-21.3l3.2-8.5l1-4.1l4.3-36l-2.6-29.7l-1.7-8.6l-1-.8l-1.1 1.8l-4.2 16.7l-1 1l-1.1-.7l-2.1-3.7l-1-3.1l-5.3-31.7l-1.5-6.9l-1.6-4.3l-1.1-.7l-1 1l-1.1 2.3l-4.2 14.2l-1 2.9l-1.1 1.4l-1-.5l-1.1-2.5l-3.6-16l-3.8-10.9l-1-.4l-2.1 3.2l-1.1 .7l-1-1.8l-1.1-4.7l-1.1-11.5l-2.9-53l-1.8-23.3l-1.5-8.5l-3.2-8.6l-3-10.5l-1.2-2.5l-2.1-2.7l-4.2-1l-12.6-11.4l-2.1-1.2l-3.2-.4l-1-1l-1.4-5.2l-1.8-12.4l-3.1 3.7l-4.2 10.2l-1.3 30.3l-2.5 95.4l-4.1 97.5l1.3 31.8l4.6 176l.6 0zM353.8 412.8l-1-4.2l.1-2.5l1-3.8l1 4.2l-1 6.5zM280.4 616.4l5.3 0l.3-10.6l-.3-6.4l-1.1-3.8l-1.1-.8l-1 .1l-1.1 2.4l-1.1 8.5l-.4 10.6zM300.3 616.4l3.9 0l-1.8-16.5l-1 .3l-1.8 16.2zM417 428.5l1 .2l8.4-18.7l2.1-7.3l3.2-15.1l2.1-6.3l2.1-1.9l3.2-.7l2.1-2.2l4.2-10.1l3.1-5.3l4.2-11.3l1.1-.4l2.1 2.3l1-.2l1.1-2.7l3.1-15.9l1.1-2.4l1-.1l.9 1.9l2.4 8.5l.9 2.4l1.1 .9l2.1-2.1l4.2-6.7l1-.4l3.2 2.3l3.1-.2l3.2 1.4l1.1-.2l2.1-3.2l8.3-19.7l1.1-1.5l1.1-.4l1 .5l1.8 3.5l3.5 13l1 1.5l2.1 .6l1.1 .7l3.1 5l1.1 .9l1-.3l1.1-1.9l3.1-10.8l1.1-2.5l1-1.2l1.1 .1l1 1.4l3.2 8.1l1 1.3l1.1-.6l1-3.4l3.2-25.6l1-4.3l1.1-.9l4.2 6.2l4.2 2.1l1.4-2.1l3.9-12.8l1-.6l1.1 1l2.1 4.5l1 .9l3.2-6.3l1-.4l2.1 2.4l1.1 .2l1-1.5l4.2-12.9l1.1-1.5l1-.4l1.1 .5l1 1.4l3.2 7.6l1 1.4l1.1-.3l3.1-6.9l2.1-2.8l1.1 0l3.1 4l1.1-.1l4.2-5.5l1.1-2.2l2.1-7.3l0-18.8l-2.1 3.5l-1.1 .5l-2.1 0l-3.2 .8l-5.2-1.4l-4.2-4l-2.1-.4l-2.1 .2l-3.2 2.5l-6.3 10l-1 .2l-2.1-1.4l-1.1 0l-3.1 1.5l-3.2 .1l-3.1 .9l-2.1 2.7l-4.6 13.2l-2.8 4l-1 .1l-1.1-1.2l-2.1-4.5l-1.1-1.2l-1 1.5l-1.1 6.2l-2.3 24.7l-.8 6.1l-.8 2.4l-.3 .6l-1-.5l-3.2-8.4l-1-1.7l-1.1-.7l-1 .6l-1.1 2.6l-3.1 15.1l-1.1 2.9l-1 .8l-1.1-.8l-1-2l-5.3-11.7l-3.1-8.4l-1.1-1.8l-2.1-1.1l-2.1 .7l-2.1 2.4l-3.2 5.1l-5.2 10.1l-1 .8l-3.2-1.3l-3.2 1.5l-1-.4l-3.2-4l-1 .4l-3.2 7.9l-2.1 3l-1-.3l-1.1-2l-3.1-9.1l-1.1-1.1l-1 .4l-1.3 2.5l-2.9 11.5l-1.1 2.4l-1-.1l-2.1-3.3l-1.1 0l-4.2 11.4l-1 1l-2.1-.2l-1.1 .5l-1 2.5l-3.2 13.3l-1 1.3l-1.1 0l-3.1-1.6l-1.1 .2l-1 1.3l-1.1 3l-3.2 15.8l-2.1 7.6l-8.4 17.4l-1-.6l-2.4-9.2l-1.9-10.6l-4.1-41.3l-2.1-13.6l-2.7-23.5l-2.1-53l-.7-38.2l.7-6.3l1.3-4.3l9.2-19l4.8-11.1l1-1l5.3 1.5l5.2-1.8l2.2-.1l2.1 .9l5.2 3.6l3.2 .4l3.1-1.5l5.3-4.4l2.1-.7l2.1 .6l6.3 5l3.1 1.1l7.4-1l6.3 1.7l2.1 .2l5.3-1.3l3.1-.1l3.2 .9l5.2 2.5l2.1 .4l2.1-.5l5.3-2.8l10.5 .8l2.1 .9l6.3 5.1l6.3 1.9l7.4 4.2l9.4 .9l10.5 3l10.5-1.5l9.5 .4l7.3 3.2l5.3 .9l3.2 1.3l0-7.2l-3.2-1.4l-6.3-1l-6.3-2.7l-8.4-.1l-11.6 1.7l-10.5-3.1l-9.4-.8l-2.1-.9l-5.3-3.6l-6.3-2l-6.3-5.4l-2.1-.8l-4.2 .2l-6.3-.8l-5.3 3.2l-2.1 .6l-2.1-.5l-5.2-2.8l-3.2-1l-3.1 .1l-5.3 1.5l-2.1-.1l-6.3-2.1l-7.4 1.5l-3.1-1l-6.3-5.5l-2.1-.7l-2.1 .8l-6.3 5.8l-3.2 1.1l-3.1-1l-4.2-3l-2.1-.9l-2.2 .1l-5.2 2l-5.3-1.5l-1 1l-14.7 32.8l-2.2 7.2l-.5 6.3l.9 67.9l-.1 40.3l.8 18.1l2.7 17.9l1.2 29.7l1.4 14.2l10.2 28.2zM364.4 417.4l1.1-.1l1-2.7l.7-6l-.5-12.7l-1.2-5.4l-1.1 1.6l-1 4.4l-1.5 10l.8 6.3l1.5 4.3z" fill="#34618d" stroke="#34618d" stroke-width="0.4"/>
<path d="M259.3 616.4l.4 0l-.4-21.2l-5.7-186.6l4.3-99.6l2.5-75.8l2.1-5l2.1-3l3.1 1.6l3.2-3.4l4.2-.9l6.3 6l5.3 10.9l2.1 9.2l1.3 11.6l1.8 48.8l1.1 10.1l1 4.7l1.1 2.7l1 .7l1.1 1.6l4.2 9.3l3.9 17.5l2.4 6.5l3.1 5.7l1.1 .7l3.1 .5l1.1 1.4l1.9 6.4l3.3 16.3l2.1 5.8l1.1 1l1.1-.8l5.2-14.3l1.1-1l1 0l1.5 1.5l1.7 3.7l2 9l.6 6.4l-.5 10.6l-4.2 28.7l-4.2 36.2l-4.2 17.3l-3.2 21.6l-2.1 9.8l-2.1 4.8l-4.2 6.5l-3.6 15l-2.7 5.7l-4.2 5.1l-1.1 .7l-3.1 .4l-1.1 .5l-5.2 6l-4.2 1.6l-4.2 5l-3.2 2.7l-2.1 5.7l-.8 4.7l-.7 12.8l.1 10.6l2 0l.4-10.6l1.1-8.5l1.1-2.4l1-.1l1.1 .8l1.1 3.8l.3 6.4l-.3 10.6l6.4 0l-.7-23.4l.3-4.2l1.2-4.2l1.9-4.3l2.4-3.5l1-.7l1.1-.1l3.1 1.4l1.1-.5l6.3-6.7l5.2-13.1l5.3-8.4l2.1-7.1l4.2-18.7l3.2-6.9l2-7.8l6.4-28.3l3.1-20l1.1-3.6l3.4-7.4l1-6.4l.5-8.5l-.4-12.7l-.9-8.5l-3.6-16.4l-4.2-28.1l-2.1-6.6l-1.1-1.1l-1 .1l-1.1 1l-2.1 3.9l-4.2 11.5l-1 1.3l-1.1-.4l-3.2-6.3l-4.2-14l-1-2.2l-1.1-.8l-2.1 .3l-2-1.5l-2.1-6.4l-1.6-8.5l-1.3-12.7l-3.5-51.4l-1-4.3l-2.1-.6l-1.1-1.5l-1-4l-1.1-8.7l-1.4-24.9l-1.4-8.5l-1.4-1.9l-2.1-1.6l-3.1-6.5l-1.1-1.3l-9.4-6.8l-2.1-.3l-3.2 .6l-3.2-2.4l-2.1 2.1l-5.2 3.6l-3.2 104.5l-4.1 94.5l5.9 209.9zM353.9 413l1-6.5l-1-4.2l-1 3.8l-.1 2.5l1 4.2zM417 400.8l1 .6l8.4-17.4l2.1-7.6l3.2-15.8l1.1-3l1-1.3l1.1-.2l3.1 1.6l1.1 0l1-1.3l3.2-13.3l1-2.5l1.1-.5l2.1 .2l1-1l4.2-11.4l1.1 0l2.1 3.3l1 .1l1.1-2.4l2.9-11.5l1.3-2.5l1-.4l1.1 1.1l3.1 9.1l1.1 2l1 .3l2.1-3l3.2-7.9l1-.4l3.2 4l1 .4l3.2-1.5l3.2 1.3l1-.8l5.2-10.1l3.2-5.1l2.1-2.4l2.1-.7l2.1 1.1l1.1 1.8l3.1 8.4l5.3 11.7l1 2l1.1 .8l1-.8l1.1-2.9l3.1-15.1l1.1-2.6l1-.6l1.1 .7l1 1.7l3.2 8.4l1 .5l.3-.6l.8-2.4l1-7.8l2.2-23.7l1-5.5l1-1.5l1.1 1.2l2.1 4.5l1.1 1.2l1-.1l1.6-1.9l1.6-3l3.2-9.7l2-4.3l2.1-1.4l5.3-.6l3.1-1.5l1.1 0l2.1 1.4l1-.2l6.3-10l3.2-2.5l2.1-.2l2.1 .4l4.2 4l5.2 1.4l3.2-.8l2.1 0l1.1-.5l2.1-3.5l0-21.6l-1.1-.2l-6.3 .9l-9.5-1.7l-4.2 .3l-4.2 1.3l-11.5 6.2l-5.3 1l-2.1 1l-3.1 2.8l-2.1 3.2l-5.3 14.6l-1 0l-1.1-2.1l-3.2-9.7l-1-1.5l-1.1-.3l-1 .6l-1.1 1.8l-1.3 6.8l-.5 8.5l-.3 19.2l-1 8.4l-1.1 .3l-1-1.5l-4.2-10.1l-1.1-.2l-1 4.9l-2.4 23.5l-.8 4.7l-1 2.4l-1.1-.3l-1-2.2l-5.3-19.5l-2.1-5.3l-1-.9l-1.1 .4l-4.2 4.5l-5.2 3.2l-4.2 7.1l-1.1 .6l-2.1-1.3l-1-.2l-3.2 5.6l-1.1 1.1l-1-.5l-3.2-7.3l-1-.3l-1.1 2l-2.1 6.8l-1 2.2l-1.1 .5l-1-1.3l-2.5-6.2l-1.7-2l-1.1 .1l-2.1 1.9l-3.1 6.8l-1.1 1.2l-1-.7l-2.1-3.4l-1.1 .1l-1 1.7l-3.2 9.5l-1 1.5l-1.1-.2l-1-1.8l-3.2-14.2l-1-3l-1.1-.6l-1 1.9l-.8 3.3l-2.4 17l-1 3.1l-2.1 3.3l-2.1 6.7l-4.3 23.9l-1 2.8l-5.3 9.7l-2.1 2.9l-1-1.6l-3.4-16.9l-2.4-21.2l-2.6-30.8l-3.2-20l-2-31.9l-.9-36l.2-6.4l1.3-4.2l8.7-17l4.3-9.7l1-1l5.3 1.5l5.2-1.6l2.2 0l7.3 4.3l3.2 .5l2.1-.6l6.3-4.5l2.1-.7l2.1 .5l6.3 4.6l3.1 1.2l7.4-.8l8.4 1.7l5.3-1l3.1 0l10.5 3.2l2.1-.4l5.3-2.5l10.5 1l2.1 .9l6.3 5.2l6.3 2.4l7.4 4.3l8.4 1.6l11.5 4l10.5-1l9.5 1.2l7.3 3.8l5.3 1.2l3.2 1.5l0-11.4l-3.2-1.3l-5.3-.9l-7.3-3.2l-9.5-.4l-10.5 1.5l-10.5-3l-9.4-.9l-7.4-4.2l-6.3-1.9l-6.3-5.1l-2.1-.9l-10.5-.8l-5.3 2.8l-2.1 .5l-2.1-.4l-5.2-2.5l-3.2-.9l-3.1 .1l-5.3 1.3l-2.1-.2l-6.3-1.7l-7.4 1l-3.1-1.1l-6.3-5l-2.1-.6l-2.1 .7l-5.3 4.4l-3.1 1.5l-3.2-.4l-5.2-3.6l-2.1-.9l-2.2 .1l-5.2 1.8l-5.3-1.5l-1 1l-4.8 11.1l-9.2 19l-1.3 4.3l-.7 6.3l.7 38.2l2.1 53l2.7 23.5l2.1 13.6l4.1 41.3l1.4 8.5l2.7 10.6z" fill="#30698e" stroke="#30698e" stroke-width="0.4"/>
<path d="M260.3 614.2l-.4-21.2l-2.2-57.2l-3.5-127.2l6.2-148.5l3.1-7.7l1.1-1.2l3.1 8.1l2.9-9.7l.3-.6l1 .1l3.2 2.5l1.1 1.5l4.4 9.2l.8 2.5l.8 6l1.5 21.2l.9 4.6l2.1 1.9l1 5.6l3.2 30.9l2.1 11.7l2.1 6.4l6.3 7.3l1 2l4.2 12.2l3.2 6.8l1 1.7l3.2-.1l1 .7l1.1 2.3l3.1 18.4l1.6 23.3l.6 25.4l-.2 21.2l-.9 12.5l-2.1 11.5l-5.3 17l-5.2 23.1l-4.2 11.8l-9.5 13l-1 .8l-3.2 .6l-1 .6l-4.2 6.1l-3.2 3l-2.1 3.9l-2.1 7.8l-1.3 9.2l-.4 21.2l2.4 0l-.1-10.6l.7-12.8l.8-4.7l2.1-5.7l3.2-2.7l4.2-5l4.2-1.6l5.2-6l1.1-.5l3.1-.4l1.1-.7l4.2-5.1l2.7-5.7l3.6-15l4.2-6.5l2.1-4.8l2.1-9.8l3.2-21.6l4.2-17.3l4.2-36.2l3.9-26.6l.9-10.6l-.4-6.4l-1.3-7.2l-2.1-6.6l-2.1-2.5l-1 0l-1.1 1l-5.2 14.3l-1.1 .8l-1.1-1l-2.1-5.8l-3.3-16.3l-1.9-6.4l-1.1-1.4l-3.1-.5l-1.1-.7l-3.1-5.7l-2.4-6.5l-3.9-17.5l-4.2-9.3l-1.1-1.6l-1-.7l-1.1-2.7l-1-4.7l-1.1-9.9l-1.1-38.4l-1-14l-2.1-13.6l-2.1-6.1l-2.1-3.6l-2.1-5l-6.3-6l-4.2 .9l-3.2 3.4l-3.1-1.6l-1.1 1.1l-3.1 6.9l-2.5 75.8l-4.3 99.6l6.1 207.8l.7 0zM418 372l2.1-2.9l5.3-9.7l1-2.8l4.3-23.9l2.1-6.7l2.1-3.3l1-3.1l2.4-17l.8-3.3l1-1.9l1.1 .6l1 3l3.2 14.2l1 1.8l1.1 .2l1-1.5l3.2-9.5l1-1.7l1.1-.1l2.1 3.4l1 .7l1.1-1.2l3.1-6.8l2.1-1.9l1.1-.1l1.7 2l2.5 6.2l1 1.3l1.1-.5l1-2.2l2.1-6.8l1.1-2l1 .3l3.2 7.3l1 .5l1.1-1.1l3.2-5.6l1 .2l2.1 1.3l1.1-.6l4.2-7.1l5.2-3.2l4.2-4.5l1.1-.4l1 .9l2.1 5.3l5.3 19.5l1 2.2l1.1 .3l1-2.4l.8-4.7l2.4-23.5l1-4.9l1.1 .2l4.2 10.1l1 1.5l1.1-.3l1-8.4l.3-19.2l.5-8.5l1.3-6.8l1.1-1.8l1-.6l1.1 .3l1 1.5l3.2 9.7l1.1 2.1l1 0l5.3-14.6l2.1-3.2l3.1-2.8l2.1-1l5.3-1l11.5-6.2l4.2-1.3l4.2-.3l9.5 1.7l5.3-.8l2.1 .1l0-19.9l-3.2-1.5l-5.3-1.2l-7.3-3.8l-9.5-1.2l-10.5 1l-11.5-4l-8.4-1.6l-7.4-4.3l-6.3-2.4l-6.3-5.2l-2.1-.9l-10.5-1l-5.3 2.5l-2.1 .4l-10.5-3.2l-3.1 0l-5.3 1l-8.4-1.7l-7.4 .8l-3.1-1.2l-6.3-4.6l-2.1-.5l-2.1 .7l-6.3 4.5l-3.2 .6l-2.1-.5l-7.3-4.3l-2.2 0l-5.2 1.6l-5.3-1.5l-1 1l-4.3 9.7l-8.3 16l-1.7 5.2l-.2 4.2l.9 38.2l2 31.9l3.2 20l4.4 47.7l1.9 11.8l2.1 9.4zM416.8 342.9l-1.9-10.2l-.9-8.9l-3.4-44.5l-1.9-10.6l-2.2-6.3l-.7-6.4l-1-14.9l-.9-29.7l.3-4.2l1.2-3.6l4.4-7l7.2-14.4l1-1l5.3 1.3l5.2-1.5l2.2 0l7.3 4.1l3.2 .5l3.1-1l5.3-3.5l3.1-.6l2.1 .9l5.3 3.6l4.2 1.4l7.3-.7l7.4 1.6l5.3-.8l3.1 0l10.5 2.9l2.1-.3l4.2-2l2.1-.4l8.4 1.4l2.1 .7l1.9 1.4l9.7 10.5l8.4 5.6l6.6 3l1.8 2.1l-.2 2.2l-1.1 2.1l-5 5.9l-2.1 1l-5.3-.1l-2.1 1.3l-1 2l-2.2 9l-2 12.2l-1.1 3.2l-1 .5l-2.1-.8l-1.1 .3l-1 1.5l-1.1 2.9l-1.2 7.7l-1.9 24.5l-1.1 3.2l-1-1l-5.3-19.1l-2.1-4.3l-1-.4l-1.1 1.1l-2.1 4.8l-2.1 3.1l-2.1 .8l-2.1-.4l-1 .2l-4.2 6.1l-1.1-.2l-2.1-2.2l-1 .2l-3.2 8.3l-1.1 1.5l-1-.7l-3.2-9.7l-1-.8l-1.1 1.4l-3.1 6.8l-1.1-.1l-3.1-5.3l-1.1-.6l-4.2 3l-2.1-.3l-3.1-1.5l-1.1 .1l-2.1 2.4l-3.1 6.3l-1.1 1.5l-1 .5l-1.1-1.1l-3.1-11.1l-1.1-1.7l-1-.6l-1.1 .3l-3.8 4.1l-2.6 4.2l-2 7.4l-3.2 16.8l-2.1 6.6l-1 .9l-3.2-2.7l-1 1.2l-1.1 5.6l-2 21.5l-1.1 .9z" fill="#2d718e" stroke="#2d718e" stroke-width="0.4"/>
<path d="M260.4 616.4l15.1 0l.4-21.2l1.2-8.5l1.5-6.4l2.8-6l3.2-3l4.2-6.1l1-.6l3.2-.6l1-.8l5.3-7.5l3.1-3.6l2.1-4.3l3.3-9.9l5.1-22.6l5.9-19.8l1.5-8.7l.9-12.5l.1-23.3l-.6-25.4l-1.2-19.1l-2.4-15.9l-1-4.6l-1.1-2.3l-1-.7l-3.2 .1l-1-1.7l-3.2-6.8l-4.2-12.2l-1-2l-6.3-7.3l-1.1-2.7l-2.1-8.5l-1-6.9l-3.2-30.9l-1-5.6l-2.1-1.9l-.9-4.6l-2.3-27.2l-1-3.2l-4.2-8.5l-1.1-1.5l-3.2-2.5l-1-.1l-3.2 10.3l-3.1-8.1l-1.1 1.2l-3.1 7.7l-6.2 146.4l3.4 127.2l2.4 61.5l.4 21.2zM267.7 612.1l-2.1-2.9l-1 .2l-1.9-12.1l-2.3-8.7l-2.4-57l-3.3-125.1l5.7-125.6l3.1-6.5l1.1-.4l3.1 10.2l3.2-6.3l2.1 4.9l2.1 3.2l2.1 7.2l5.3 32.9l1 2.7l2.1 1.4l1.1 1.4l5.2 27.6l3.2 8.9l5.2 4.9l2.1 3.5l2 6.7l4.2 19l1.2 7.7l1 2.9l2.1-7.1l1.1-1.4l1 1.4l1 9.3l.1 8.4l-1.1 10.3l-2.4 8.8l-.6 4.3l-1.8 33.9l-4.9 38.1l-2.4 12.8l-1.5 4.5l-7.4 14.3l-1 1.6l-4.2 3.3l-4.2 7.8l-3.2 3.4l-2.1 3.5l-3.2 10.3l-6.3 30.5l-1 2.5l-1.1-1zM417 343.8l1.1-.9l2-21.5l1.1-5.6l1-1.2l3.2 2.7l1-.9l2.1-6.6l3.2-16.8l2-7.4l2.6-4.2l3.8-4.1l1.1-.3l1 .6l1.1 1.7l3.1 11.1l1.1 1.1l1-.5l1.1-1.5l3.1-6.3l2.1-2.4l1.1-.1l3.1 1.5l2.1 .3l4.2-3l1.1 .6l3.1 5.3l1.1 .1l3.1-6.8l1.1-1.4l1 .8l3.2 9.7l1 .7l1.1-1.5l3.2-8.3l1-.2l2.1 2.2l1.1 .2l4.2-6.1l1-.2l2.1 .4l2.1-.8l2.1-3.1l2.1-4.8l1.1-1.1l1 .4l2.1 4.3l5.3 19.1l1 1l1.1-3.2l1.9-24.5l1.2-7.7l1.1-2.9l1-1.5l1.1-.3l2.1 .8l1-.5l1.1-3.2l2-12.2l2.2-9l1-2l2.1-1.3l5.3 .1l2.1-1l5-5.9l1.1-2.1l.2-2.2l-1.8-2.1l-6.6-3l-8.4-5.6l-9.7-10.5l-1.9-1.4l-2.1-.7l-8.4-1.4l-2.1 .4l-4.2 2l-2.1 .3l-10.5-2.9l-3.1 0l-5.3 .8l-7.4-1.6l-7.3 .7l-4.2-1.4l-5.3-3.6l-2.1-.9l-3.1 .6l-5.3 3.5l-3.1 1l-3.2-.5l-7.3-4.1l-2.2 0l-5.2 1.5l-5.3-1.3l-1 1l-7.2 14.4l-4.4 7l-1.2 3.6l-.3 4.2l.9 29.7l1 14.9l.7 6.4l2.2 6.3l1.9 10.6l3.4 44.5l.9 8.9l1.9 10.2zM425.1 292l-2.9-7l-1-1.4l-3.2-.8l-1-3.2l-4.2-19.5l-5-16.9l-1.3-7.6l-1.2-19.9l.1-6.4l.4-2.1l.8-2.1l4.4-6.4l6-10.8l1-.9l3.2 1.1l2.1 .1l5.2-1.6l2.2 0l7.3 3.9l3.2 .5l3.1-.9l5.3-3.1l3.1-.6l2.1 .7l6.3 3.9l3.2 1l7.3-.4l7.4 1.5l5.3-.6l3.1 .1l10.5 2.7l2.1-.3l5.3-1.9l2.1 .1l4.2 .9l5.2 2.4l3.2 3.5l3.2 5.1l1.6 4.2l.2 2.1l-.9 8.5l-2 7l-4.2 8l-2.1 5.8l-4.2 20.2l-1.1 .8l-5.2-9.1l-1.1-1.1l-1-.2l-1.1 .6l-4.2 6.5l-2.1 1.1l-3.1-.1l-4.2 4.9l-1.1-.2l-2.1-1.9l-1 .1l-1.1 1.6l-2.1 5.8l-1.1 1.3l-1-1.3l-2.2-7.4l-1-1.9l-1-.5l-1.1 .8l-2.1 3.2l-1 .8l-1.1-.5l-3.1-4l-1.1-.3l-3.1 1.8l-1.1 0l-3.1-3.3l-1.1-.6l-1 .1l-1.9 2.3l-3.4 6.7l-1 1l-1.1-.1l-3.1-4.7l-1.1-1.1l-1-.2l-5.3 3.2l-4.2 .5l-1 1.3l-1.9 6.1l-3.4 17.9l-1.1 2l-1-.2z" fill="#29798e" stroke="#29798e" stroke-width="0.4"/>
<path d="M267.7 612.3l1.1 1l1-2.5l6.3-30.5l3.2-10.3l2.1-3.5l3.2-3.4l4.2-7.8l4.2-3.3l1-1.6l7.4-14.3l1.5-4.5l2.4-12.8l4.9-38.1l1.8-33.9l.6-4.3l2.4-8.8l1.1-10.3l-.1-8.4l-1-9.3l-1-1.4l-1.1 1.4l-2.1 7.1l-1-2.9l-1.2-7.7l-4.2-19l-2-6.7l-2.1-3.5l-5.2-4.9l-3.2-8.9l-5.2-27.6l-1.1-1.4l-2.1-1.4l-1-2.7l-5.3-32.9l-2.1-7.2l-2.1-3.2l-2.1-4.9l-3.2 6.3l-3.1-10.2l-1.1 .4l-3.1 6.5l-5.7 125.6l3.3 125.1l2.4 57l2.3 8.7l1.9 12.1l1-.2l2.1 2.9zM264.1 586.7l-3.7-9.6l-.8-13.7l-1.6-44.6l-2.7-110.2l1.5-40.3l3.6-71.2l3.1-6.1l1.1-.1l3.1 11.8l2.1 .9l1.1 1.4l2.1 6.8l3.2 3.3l1 2.7l5.3 26.9l1 2.7l3.2 4.3l1 3l7.4 27.2l5.2 7.4l2.1 5.4l1.5 7.5l.6 6.4l.4 40.3l-.2 23.3l-.7 12.7l-2.4 23.3l-2.3 11.9l-6.3 14l-4.2 7.4l-4.2 11.3l-5.3 8.6l-2.1 5.7l-4.2 15.1l-2.1 5.1l-2.1 .7l-4.2-.4zM425.4 292.6l1 .2l1.1-2l3.4-17.9l1.9-6.1l1-1.3l4.2-.5l5.3-3.2l1 .2l1.1 1.1l3.1 4.7l1.1 .1l1-1l3.4-6.7l1.9-2.3l1-.1l1.1 .6l3.1 3.3l1.1 0l3.1-1.8l1.1 .3l3.1 4l1.1 .5l1-.8l2.1-3.2l1.1-.8l1 .5l1 1.9l2.2 7.4l1 1.3l1.1-1.3l2.1-5.8l1.1-1.6l1-.1l2.1 1.9l1.1 .2l4.2-4.9l3.1 .1l2.1-1.1l4.2-6.5l1.1-.6l1 .2l1.1 1.1l5.2 9.1l1.1-.8l4.2-20.2l2.1-5.8l4.2-8l2-7l.9-8.5l-.2-2.1l-1.6-4.2l-3.2-5.1l-3.2-3.5l-5.2-2.4l-4.2-.9l-2.1-.1l-5.3 1.9l-2.1 .3l-10.5-2.7l-3.1-.1l-5.3 .6l-7.4-1.5l-7.3 .4l-3.2-1l-6.3-3.9l-2.1-.7l-3.1 .6l-5.3 3.1l-3.1 .9l-3.2-.5l-7.3-3.9l-2.2 0l-5.2 1.6l-2.1-.1l-3.2-1.1l-1 .9l-6 10.8l-4.4 6.4l-.8 2.1l-.4 2.1l-.1 6.4l1.2 19.9l1.3 7.6l5 16.9l4.2 19.5l1 3.2l3.2 .8l1 1.4l2.9 7zM425.2 268.7l-3-3.1l-3.1-.5l-1.1-.7l-1-2.8l-7.9-31.1l-1.7-10.6l-.4-8.5l.9-4.2l9.1-13.9l1-.7l3.2 .9l2.1 0l5.2-1.6l2.2 0l7.3 3.7l3.2 .6l3.1-.9l5.3-2.6l3.1-.6l2.1 .7l6.3 3.7l3.2 1.1l7.3-.2l7.4 1.6l7.4-.4l11.5 2.4l8.4-1.9l5.3 1.1l3.1 1.8l2.1 2.2l1.5 3l.4 2.1l-.6 6.4l-7.6 24.5l-1 .7l-1.1-.1l-3.1-2.1l-2.1-.4l-6.3 6.3l-4.2 1.5l-4.2 3l-3.2-.9l-1 .2l-3.2 4.1l-1.1 .5l-4.2-5.9l-1-.2l-4.2 2.4l-4.2-2l-5.3 .3l-4.2-2.6l-2.1 .7l-3.1 3.6l-2.1 1.4l-3.2-1.2l-2.1-.1l-5.2 3.7l-2.1 0l-3.2-1l-2.1 1.4l-1 1.8l-3.2 11.4l-1.1 2.3l-1-.1z" fill="#26818e" stroke="#26818e" stroke-width="0.4"/>
<path d="M264.6 587.6l4.2 .4l2.1-.7l2.1-5.1l4.2-15.1l2.1-5.7l5.3-8.6l4.2-11.3l4.2-7.4l6.3-14l2.3-11.9l2.4-23.3l.7-12.7l.2-23.3l-.4-40.3l-.6-6.4l-1.5-7.5l-2.1-5.4l-5.2-7.4l-7.4-27.2l-1-3l-3.2-4.3l-1-2.7l-5.3-26.9l-1-2.7l-3.2-3.3l-2.1-6.8l-1.1-1.4l-2.1-.9l-3.1-11.8l-1.1 .1l-3.1 6.1l-3.6 71.2l-1.5 40.3l2.7 110.2l1.6 44.6l.8 13.7l3.7 9.6zM263.7 576.1l-3.3-8.7l-.5-8.3l-1.7-46.6l-2.4-103.9l1.7-46.6l2.9-52.6l3.1-5.2l1.1 0l3.1 12.3l2.1 3.1l3.2 9.2l1.1 1.4l2.1 1.3l1 2.3l4.4 21.8l1.9 5l2.1 2.6l2.1 4.3l4.6 17.8l4.6 25.4l-.5 27.6l2.2 38.1l-.4 10.6l-1 8.1l-6 23.7l-5.6 17.7l-2.1 5.2l-4.2 7.7l-5.2 19.3l-2.2 5.8l-1 1.8l-1.1 .5l-5.2 .7zM425.4 268.9l1 .1l1.1-2.3l3.2-11.4l1-1.8l2.1-1.4l3.2 1l2.1 0l5.2-3.7l2.1 .1l3.2 1.2l2.1-1.4l3.1-3.6l2.1-.7l4.2 2.6l5.3-.3l4.2 2l4.2-2.4l1 .2l4.2 5.9l1.1-.5l3.2-4.1l1-.2l3.2 .9l4.2-3l4.2-1.5l6.3-6.3l2.1 .4l3.1 2.1l1.1 .1l1-.7l7.6-24.5l.6-6.4l-.4-2.1l-1.5-3l-2.1-2.2l-3.1-1.8l-5.3-1.1l-8.4 1.9l-11.5-2.4l-7.4 .4l-7.4-1.6l-7.3 .2l-3.2-1.1l-6.3-3.7l-2.1-.7l-3.1 .6l-5.3 2.6l-3.1 .9l-3.2-.6l-7.3-3.7l-2.2 0l-5.2 1.6l-2.1 0l-3.2-.9l-1 .7l-9.1 13.9l-.9 4.2l.4 8.5l1.7 10.6l7.9 31.1l1 2.8l1.1 .7l3.1 .5l3 3.1zM418.6 251.7l-.6-.2l-1-2.4l-2.9-12.2l-3.1-10.6l-1.2-6.4l-.5-6.3l.2-4.3l.8-2.1l2.5-4.1l4.2-5.1l1-.6l3.2 .8l2.1 0l5.2-1.7l2.2 0l7.3 3.4l3.2 .5l3.1-.7l6.3-2.8l2.1-.1l3.2 1.1l6.3 3.6l3.1 .9l6.3 0l7.4 1.5l8.4-.1l10.5 2.2l6.3-1l3.2 .3l4.2 1.9l.8 2.1l-.1 4.3l-.7 4.2l-1.1 2.2l-1 .8l-5.3 2.8l-7.3 5.1l-7.4 2.8l-5.2 1l-4.3 2.5l-3.1-1.7l-2.1-.5l-4.2 1.5l-8.4 .9l-4.2-1.5l-2.1-.2l-5.3 3.4l-6.3 1.6l-5.2 3.9l-1.1 .1l-4.2-1.3l-2.1 .5l-6.3 6.7l-4.2 2.9l-2.1 .6z" fill="#23888e" stroke="#23888e" stroke-width="0.4"/>
<path d="M264.6 577.5l5.2-.7l1.1-.5l1-1.8l2.2-5.8l5.2-19.3l4.2-7.7l2.1-5.2l5.6-17.7l6-23.7l1-8.1l.4-10.6l-2.2-38.1l.5-27.6l-4.6-25.4l-4.6-17.8l-2.1-4.3l-2.1-2.6l-1.9-5l-4.4-21.8l-1-2.3l-2.1-1.3l-1.1-1.4l-3.2-9.2l-2.1-3.1l-3.1-12.3l-1.1 0l-3.1 5.2l-2.9 52.6l-1.7 46.6l2.4 103.9l1.7 46.6l.5 8.3l3.3 8.7zM264.1 567.6l-3.7-10.2l-.1-2.5l-2-50.9l-2-95.4l1.3-42.4l2.8-47.6l3.1-4.6l1.1 .2l3.1 13.3l2.1 4.7l3.2 10.8l1.1 1.7l2.1 1.7l1 2.3l5.3 21.3l4.2 6.9l2.1 5.9l3.3 17.3l.8 12.7l-.4 27.6l.2 36l-.9 12.8l-1.9 12.7l-4.3 19.7l-2.1 5.9l-3.1 5.5l-2.1 5.1l-6.4 25.2l-1 2l-1.1 .8l-5.2 2.4zM419.1 251.9l2.1-.6l4.2-2.9l6.3-6.7l2.1-.5l4.2 1.3l1.1-.1l5.2-3.9l6.3-1.6l5.3-3.4l2.1 .2l4.2 1.5l8.4-.9l4.2-1.5l2.1 .5l3.1 1.7l4.3-2.5l5.2-1l7.4-2.8l7.3-5.1l5.3-2.8l1-.8l1.1-2.2l.7-4.2l.1-4.3l-.8-2.1l-4.2-1.9l-3.2-.3l-6.3 1l-10.5-2.2l-8.4 .1l-7.4-1.5l-6.3 0l-3.1-.9l-6.3-3.6l-3.2-1.1l-2.1 .1l-6.3 2.8l-3.1 .7l-3.2-.5l-7.3-3.4l-2.2 0l-5.2 1.7l-2.1 0l-3.2-.8l-1 .6l-4.2 5.1l-2.5 4.1l-.8 2.1l-.2 4.3l.5 6.3l1.2 6.4l3.1 10.6l2.9 12.2l1 2.4l.6 .2zM417.7 239l-5-17l-1.3-10.6l1.2-4.2l4.4-5.8l1-.4l3.2 .7l2.1-.1l5.2-1.7l2.2 0l7.3 3.4l3.2 .6l3.1-.7l6.3-2.2l2.1-.1l3.2 1.2l8.4 4.9l8.4 1.6l4.2 1.9l3.4 .9l.5 2.2l-1.8 2.1l-4.2 1.2l-4.2 2l-6.3 4.2l-2.1 .5l-5.3-.4l-2.1 .4l-15.7 8.3l-5.3-.7l-3.1 .3l-3.2 1.7l-6.3 5.5l-2.1 1l-1.1 0z" fill="#21918c" stroke="#21918c" stroke-width="0.4"/>
<path d="M264.6 568.5l5.2-2.4l1.1-.8l1-2l6.4-25.2l2.1-5.1l3.1-5.5l2.1-5.9l4.3-19.7l1.9-12.7l.9-12.8l-.2-36l.4-27.6l-.8-12.7l-3.3-17.3l-2.1-5.9l-4.2-6.9l-5.3-21.3l-1-2.3l-2.1-1.7l-1.1-1.7l-3.2-10.8l-2.1-4.7l-3.1-13.3l-1.1-.2l-3.1 4.6l-2.8 47.6l-1.3 42.4l2 95.4l2 50.9l.1 2.5l3.7 10.2zM264.6 559.1l-1.1-1.9l-3.1-10l-1.9-49.6l-1.8-89l1.1-38.2l2.6-43.9l3.1-4.4l1.1 .3l3.1 14.7l2 5.8l2.2 9.6l1.1 3l3.2 3.6l1 2.2l4.2 17.2l1.1 3.2l4.2 8.8l1.8 5.4l1.6 8.5l.4 8.4l-1.1 59.4l-.9 10.6l-1.8 13.3l-3.2 13.6l-4.2 7.8l-1 2.8l-5.3 23.6l-2 6.7l-2.2 4l-4.2 4.5zM418 239.7l1.1 0l2.1-1l6.3-5.5l3.2-1.7l3.1-.3l5.3 .7l15.7-8.3l2.1-.4l5.3 .4l2.1-.5l6.3-4.2l4.2-2l4.2-1.2l1.8-2.1l-.5-2.2l-3.4-.9l-4.2-1.9l-8.4-1.6l-8.4-4.9l-3.2-1.2l-2.1 .1l-6.3 2.2l-3.1 .7l-3.2-.6l-7.3-3.4l-2.2 0l-5.2 1.7l-2.1 .1l-3.2-.7l-1 .4l-4.4 5.8l-1.2 4.2l1.3 10.6l5 17zM417.1 228.4l-2.3-8.5l-.9-8.5l1.3-4.2l1.8-2.5l1-.5l3.2 .7l2.1-.1l6.3-1.6l2.1 .5l8.4 3.9l2.1 .2l6.3-1.1l3.5 .5l.4 2.1l-2.3 4.3l-3.9 4.2l-4 3.3l-3.1 1.6l-6.3-.2l-3.2 .6l-8.4 5.8l-3.2 1z" fill="#1f988b" stroke="#1f988b" stroke-width="0.4"/>
<path d="M264.6 559.1l4.2-4.5l2.2-4l2-6.7l5.3-23.6l1-2.8l4.2-7.8l3.2-13.6l1.8-13.3l.9-10.6l1.1-59.4l-.4-8.4l-1.6-8.5l-1.8-5.4l-4.2-8.8l-1.1-3.2l-4.2-17.2l-1-2.2l-3.2-3.6l-1.1-3l-2.2-9.6l-2-5.8l-3.1-14.7l-1.1-.3l-3.1 4.4l-2.6 43.9l-1.1 38.2l1.8 89l1.9 49.6l3.1 10l1.1 1.9zM264.3 548.5l-.8-1.3l-3.1-9.5l-1.8-50.7l-1.5-78.4l.9-36l2.4-38.8l3.1-4.5l1.1 .4l3.1 16.3l4.2 17.3l1.1 2.9l3.2 4.5l1 2.5l4.2 18.4l4.3 10.6l.8 4.3l.2 8.5l-1.2 44.5l-.9 12.7l-.8 6.4l-1.3 4.9l-3.2 5.2l-1 3.4l-5.3 32.5l-2.3 11.2l-2.2 6.4l-3.9 6.7zM418 229.9l3.2-1l8.4-5.8l3.2-.6l6.3 .2l3.1-1.6l4-3.3l3.9-4.2l2.3-4.3l-.4-2.1l-3.5-.5l-6.3 1.1l-2.1-.2l-8.4-3.9l-2.1-.5l-6.3 1.6l-2.1 .1l-3.2-.7l-1 .5l-1.8 2.5l-1.3 4.2l.9 8.5l2.3 8.5zM417.9 219.9l-.9-2.4l-.5-3.9l.5-4.6l1-.8l4.2 1l5.4 .1l-.2 2.1l-3 4.3l-3.2 3l-3.2 1.4z" fill="#1fa088" stroke="#1fa088" stroke-width="0.4"/>
<path d="M264.6 548.9l3.9-6.7l2.2-6.4l2.3-11.2l5.3-32.5l1-3.4l3.2-5.2l1.3-4.9l.8-6.4l.9-12.7l1.2-44.5l-.2-8.5l-.8-4.3l-4.3-10.6l-4.2-18.4l-1-2.5l-3.2-4.5l-1.1-2.9l-4.2-17.3l-3.1-16.3l-1.1-.4l-3.1 4.5l-2.4 38.8l-.9 36l1.5 78.4l1.8 50.7l3.1 9.5l.8 1.3zM263.7 537.9l-3.3-9.5l-1.7-52l-1.3-69.9l.9-31.8l2.1-33.9l3.1-4.8l1.1 .5l7.3 37.1l1.1 3.3l3.2 6.4l3.1 12.6l1.6 8.5l.3 6.3l-.3 10.6l-2 23.3l-8.4 74.2l-2.1 10.6l-3.8 9.7zM418 220.1l3.2-1.4l3.2-3l3-4.3l.2-2.1l-5.4-.1l-4.2-1l-1 .8l-.5 4.6l.5 3.9l.9 2.4z" fill="#22a785" stroke="#22a785" stroke-width="0.4"/>
<path d="M264.6 539.1l3.8-9.7l2.1-10.6l8.4-74.2l2-23.3l.3-10.6l-.3-6.3l-1.6-8.5l-3.1-12.6l-3.2-6.4l-1.1-3.3l-7.3-37.1l-1.1-.5l-3.1 4.8l-2.1 33.9l-.9 31.8l1.3 69.9l1.7 52l3.3 9.5zM263.2 527.3l-2.8-8.4l-1.7-55.2l-1-57.2l.8-29.7l1.9-29.2l3.1-5l1.1 .6l5 25.1l2.3 16.8l1.7 6.5l3.1 8.5l1.1 8.5l-.7 8.5l-2.6 12.7l-2 40.3l-2.9 38.1l-1.3 8.5l-1.6 6.6l-2.1 6.1l-1.1-1.2z" fill="#29af7f" stroke="#29af7f" stroke-width="0.4"/>
<path d="M263.5 528.2l1.1 1.2l2.1-6.1l1.6-6.6l1.3-8.5l2.9-38.1l2-40.3l2.6-12.7l.7-8.5l-1.1-8.5l-3.1-8.5l-1.7-6.5l-2.3-16.8l-5-25.1l-1.1-.6l-3.1 5l-1.9 29.2l-.8 29.7l1 57.2l1.7 55.2l2.8 8.4zM263.9 518.8l-3.5-10l-1.6-53.6l-.8-48.7l.8-29.7l1.6-23.4l3.1-4.6l1.1 .6l4.9 25.3l4.1 36l-1.7 10.4l-.7 8.7l-.6 42.4l-1 19.1l-1.9 15.6l-3.1 12.6z" fill="#34b679" stroke="#34b679" stroke-width="0.4"/>
<path d="M264.6 519.5l3.1-12.6l1.9-15.6l1-19.1l.6-42.4l.7-8.7l1.7-10.4l-4.1-36l-4.9-25.3l-1.1-.6l-3.1 4.6l-1.6 23.4l-.8 29.7l.8 48.7l1.6 53.6l3.5 10zM263.5 508.2l-3.1-9.8l-1.5-49.5l-.6-42.4l.8-27.6l1.3-20.2l3.1-4.5l1.1 .6l4.7 26.2l2 29.7l-.8 17l-.7 38.1l-1 18.2l-1.1 10.4l-1.4 7.5l-1.7 7.2l-1.1-.8z" fill="#40bd72" stroke="#40bd72" stroke-width="0.4"/>
<path d="M263.5 508.3l1.1 .8l1.7-7.2l1.4-7.5l1.1-10.4l1-18.2l.7-38.1l.8-17l-2-29.7l-4.7-26.2l-1.1-.6l-3.1 4.5l-1.3 20.2l-.8 27.6l.6 42.4l1.5 49.5l3.1 9.8zM263.5 497.6l-3.1-9.8l-1.9-81.3l.8-25.5l1.1-17.3l3.1-4.6l1.1 .6l4 23.5l1.4 16.9l.4 10.6l-1.3 46.7l-1 19l-.9 8.5l-2.4 12.7l-.2 .8l-1.1-.6z" fill="#50c46a" stroke="#50c46a" stroke-width="0.4"/>
<path d="M263.5 497.8l1.1 .6l.2-.8l2.4-12.7l.9-8.5l1-19l1.3-46.7l-.4-10.6l-1.4-16.9l-4-23.5l-1.1-.6l-3.1 4.6l-1.1 17.3l-.8 25.5l1.9 81.3l3.1 9.8zM263.5 487l-3.1-10.1l-1.6-70.4l1.6-37.8l3.1-4.9l1.1 .7l3.3 20.8l1.4 14.8l.3 10.6l-1.9 55.8l-3.1 21l-1.1-.4z" fill="#63cb5f" stroke="#63cb5f" stroke-width="0.4"/>
<path d="M263.5 487.1l1.1 .4l3.1-21l1.9-55.8l-.3-10.6l-1.4-14.8l-3.3-20.8l-1.1-.7l-3.1 4.9l-1.6 37.8l1.6 70.4l3.1 10.1zM264.2 476.4l-.7-.1l-3.1-10.5l-1.3-55.1l1.3-36.9l3.1-5.3l1.1 .7l2 11.8l1.8 17l.5 10.6l-1.2 42.3l-3.1 25.6z" fill="#75d054" stroke="#75d054" stroke-width="0.4"/>
<path d="M264.6 476.5l3.1-25.6l1.2-42.3l-.5-10.6l-1.8-17l-2-11.8l-1.1-.7l-3.1 5.3l-1.3 36.9l1.3 55.1l3.1 10.5l.7 .1zM262.9 463.7l-2.5-9.1l-1-50.2l1-25.1l3.1-6l1.1 .7l3 24l.6 14.8l-.5 19.1l-1 16.1l-2.1 17.7l-1.1 0z" fill="#89d548" stroke="#89d548" stroke-width="0.4"/>
<path d="M263.5 465.7l1.1 0l2.1-17.7l1-16.1l.5-19.1l-.6-14.8l-3-24l-1.1-.7l-3.1 6l-1 25.1l1 50.2l2.5 9.1zM263.5 455.2l-3.1-12.2l-.7-38.6l.7-18.7l3.1-7.3l1.1 .8l2.4 20.9l.4 12.7l-1.6 31.8l-1.2 10.5l-1.1 .2z" fill="#9dd93b" stroke="#9dd93b" stroke-width="0.4"/>
<path d="M263.5 455.3l1.1-.2l1.2-10.5l1.6-31.8l-.4-12.7l-2.4-20.9l-1.1-.8l-3.1 7.3l-.7 18.7l.7 38.6l3.1 12.2zM263.5 444.6l-3.1-14.3l-.4-25.9l.4-11.4l3.1-8.8l1.1 .9l1.8 17.1l.2 10.6l-1.6 27.6l-.4 4l-1.1 .4z" fill="#b5de2b" stroke="#b5de2b" stroke-width="0.4"/>
<path d="M263.5 444.8l1.1-.4l.4-4l1.6-27.6l-.2-10.6l-1.8-17.1l-1.1-.9l-3.1 8.8l-.4 11.4l.4 25.9l3.1 14.3zM263.2 431.9l-2.8-13.5l0-17.4l3.1-10.1l1.1 1l1.2 12.5l.1 8.4l-1.3 20.1l-1.1 .7z" fill="#cae11f" stroke="#cae11f" stroke-width="0.4"/>
<path d="M263.5 433.6l1.1-.7l1.3-20.1l-.1-8.4l-1.2-12.5l-1.1-1l-3.1 10.1l0 17.4l2.8 13.5zM263.3 421.3l-1.5-8.5l-.1-6.3l1.8-8.8l1.1 1.2l.5 7.6l-.1 8.5l-.4 6.5l-1.1 1z" fill="#dfe318" stroke="#dfe318" stroke-width="0.4"/>
<path d="M263.5 422.5l1.1-1l.4-6.5l.1-8.5l-.5-7.6l-1.1-1.2l-1.8 8.8l.1 6.3l1.5 8.5z" fill="#f4e61e" stroke="#f4e61e" stroke-width="0.4"/>
<path d="M82.9 97l-.2 12.7l-.7 4.2l-1.2 2.1l-1.2 1.1l-3.1 1.1l-2.1-.2l-2.1-1.1l-2.1-3l-.6-4.2l-.1-12.7M101.6 97l-.1 12.7l-.4 4.2l-1.5 2.9l-1.8 1.4l-1.4 .3l-3.1-.9l-1.7-1.6l-1-2.1l-.6-4.2l-.2-12.7M142.1 97l-.2 12.7l-.5 4.2l-1.9 3l-2 1.3l-2.2 .3l-3.1-1l-1.6-1.5l-.9-2.1l-.6-4.2l-.1-12.7M159.6 97l-.1 12.7l-.6 4.2l-1.5 2.6l-2.1 .7l-2.1-1.1l-1.1-2.2l-.6-4.2l-.1-12.7M402.5 97l-1.7 6.3l-2.7 7.2l-4.2 14.7l-5.7 5.7l-1.7 .2l-3.1-1.1l-2.1-.1l-7.4 3.3l-2.1 1.8l-4.2 5.9l-2.1 1.1l-2.1-.6l-4.2-2.7l-3.3-1.5l-7.2-5.5l-4.2-2.2l-4.2-3.3l-2.1-.6l-5.3 .2l-2.1-.9l-2.1-2.7l-6.3-11.9l-6.3-7.8l-2.7-5.5M144.4 616.4l1.2-8.5l1.3-2.4l1 .7l1.1 3.4l.9 6.8M199.5 616.4l1-5l1-2.5l1.1-.8l1 .5l1.1 2.9l.6 4.9M223.5 616.4l.1-5.4l1.1-5.5l1 5.5l.3 5.4M244.2 616.4l.2-29.7l1-8.5l3.4-16.6l1.1 .8l2.1 11.9l.2 42.1M516 616.4l.8-2.1l1.1 2.1M537.7 616.4l1.2-4.8l1.1-.8l1 3l.2 2.6M554.4 616.4l1.3-7l1.1-.7l1 2l1.2 5.7M593.6 137.1l-4.2-4.9l-6.4-2.6l-6.3-5l-2.1-.6l-3.1 .1l-5.5 2.5l-2.9 .1l-3.8-2.2l-2.5-2.1l-5.3-7.3l-2.1-1.6l-2.1-1l-3.1-.7l-5.3 1.6l-2.1-.3l-2.1-2l-8.6-14.1M413.1 97l-1.4 9.7l-5.2 25.3l-1.1 2.9l-3.1 4.5l-4.2 4.2l-3.2 1.2l-5.2 3.6l-2.1 .5l-4.2-1.5l-2.1-.3l-7.4 1.8l-2.1 1.2l-4.2 4.6l-2.1 .9l-9.5-3.4l-6.3-3.1l-5.2 .5l-5.3-.5l-6.3 2.8l-2.1 .3l-1-.4l-6.4-10.5l-2.1-2.6l-6.3-4.2l-6.3-6.1l-2.1-.8l-5.2 .1l-2.1-1.2l-5.3-4.7l-6.3-1.8l-3.1-3.1l-4.2-7l-2.1-1.7l-1.1 .3l-1 1l-3.2 4.1l-1.1 .8l-2.1 0l-5.2-2.6l-7.4 4.7l-.9 1.7l-1.5 4.2l-1.2 6.4l-1.6 25.7l-3.2 9.8l-9.4-2.5l-3.2 .8l-2.1-.1l-5.2-3l-3.2-.9l-10.5-.4l-7.4 .9l-5.2 1.3l-17.9-2.9l-6.3-2.6l-5.2 .5l-4.2-1.2l-7.4-.9l-8.4 .4l-5.3 1l-4.2-.4l-5.2 1.5l-5.3-.8l-4.2 1.5l-5.2-1.2l-6.3 1.8l-2.1-.3l-4.3-2l-3.1-.6l-9.5 .2l-6.3-.8l-8.4 .6l-6.3-1.2l-3.1 .4l-6.3 2l-6.4-.9l-4.2 .5M63.2 616.4l-.6-25.5l.2-16.9l1.4-23.4l.7-5.6l1.1-2.6l1.1 1.9l.6 8.5l.4 63.6M78.2 616.4l2.5-29.9l.7 4.4l1.4 2.8l1-2.5l3.2-14.1l1-3.2l1.1-1.3l1 2.3l.6 7.5l-.1 34M99.5 616.4l1.1-25.5l2.8-16.9l1.4-25.2l1.1-4.8l1-1.7l1.1-.1l1.2 2.1l1.1 6.3l.7 12.8l-.1 12.7l-.8 9.2l-1.1 4.1l-2.1 5.2l-.5 2.7l-1.2 19.1M126.2 616.4l1.9-59.4l.9-10.7l1.1 2l.1 2.3l.6 31.8l1.8 34M142.2 616.4l-1.5-61.5l.1-6.4l.8-4.6l1.1 .7l.7 3.9l1.4 18.7l1 7.8l1.1 2.9l2.1 3.1l1 4.7l1.1 11.6l1 19.1M191.5 616.4l-1.7-10.6l-.9-2.5l-3.1-4.3l-1.1-2.7l-1.3-7.5l-.6-8.5l-.3-12.7l.6-14.8l1.6-14.2l2.1-9.4l1.1-.9l1 2l1.1 4.8l1.6 11.3l2.6 25.2l1 1.1l3.2-11.7l1-2.5l1.1-.6l1 1.1l3.2 5.7l2.1 1.9l1 .1l1.1-2.5l.4-3l2.2-25.4l1.6-10.4l1-3.2l1.1-1.3l1 .3l3.2 5.4l1.1 0l3.1-9.6l4.2-19.6l1.1-3.2l1-.8l1.1 .7l4.2 6.7l1 .4l1.1-.9l3.1-5.8l1.1-.5l3.1 1.8l1.1-.9l3.1-6.2l1.1 2.1l2.1 11.2l1.2 114.4M211 616.4l-1.1-.6l0 .6M369.4 616.4l1.3-6.8l1.1 .4l1.2 6.4M383.7 616.4l1.8-24.8l1-5.5l1.1-2.4l1 .2l3.2 8.5l2.1 3.8l4.2-7.6l2.1-5.5l1-1.7l3.2-1.5l2.1-4.3l3.1 2.3l1.3 2.4l1.3 4.3l2.2 12.7l1.4 19.1M419.3 616.4l.4-14.9l.9-12.7l1.3-8.5l1.4-3.7l1 .3l3.2 6.7l3.2 2.8l5.2 17.3l1.1 1.6l1 .4l3.2-.6l1 1.4l1.1 5.1l.3 4.8M454.3 616.4l.5-5.9l1.1-2.9l1 3.8l.4 5M475 616.4l1.1-34l.8-6.7l1-3.4l1.1-.5l1 1.6l1.1 3.7l2.1 15l1.1 4.3l1-.4l2.1-4.5l1.1 .3l1.2 7.6l.7 17M499.2 616.4l-.5-27.6l.3-14.8l1.8-17l1.3-5.5l1.1-2l1-.4l1.1 1.5l3.1 10.6l1.1 .4l3.1-4.1l2.1-.7l2.1 .3l4.2 3l1.1-1l3.1-11.5l1.1-1.9l1-.2l2.1 3.4l4.2 11.5l2.2 2.4l1 .1l4.2-3.8l2.1-.5l1.1-1.1l3.1-13.7l1.1-2l1 .1l2.1 5.3l4.2 15.8l1.1 2.1l1 .7l1.1-.7l1-2.7l3.2-14.7l1-2.6l1.1-.3l3.1 5l1.1-.9l1.2-4.6l3-19.6l1-4.7l2.1-5.3l2.1-4l2.1-2.8l4.2-2.9l2.1 .4l1.1-.4l1.1-1.7l3.1-11l1.1-1.5M550.8 616.4l-1.4-20.1l-1-7l-1.1-4.4l-1-2.3l-1.2 6.2l-.6 27.6M593.6 604.1l-1.6 12.3M593.6 150.4l-4.2-3.3l-6.4-1.3l-6.3-3.2l-5.2 .2l-6.3 2.3l-3.2 0l-5.2-2l-6.3-5.2l-6.3-2.1l-5.3 0l-2.1-.7l-2.1-2.1l-4.2-6.1l-6.3-5.9l-5.3-10.8l-2.1-2.8l-1-.3l-3.2 1l-1-.1l-2.1-.6l-3.2-1.7l-1 .1l-2.1 2.1l-3.2 5l-2.1 1.5l-2.1-1.1l-6.3-10.3l-2.1-1.9l-2.1 0l-5.3 4.6l-2.1 .2l-2.1-1.9l-3.1-4.8l-2.1-1.6l-2.1 1.1l-5.3 5.7l-2.1 .4l-2.1-1.6l-3-6.2M446.6 97l-4.1 8.4l-1.3 1.7l-2.1 1.3l-1.1 0l-1.6-.8l-5.7-6.3l-2.2 .2l-3.1 2.8l-2.1 1.3l-1.6-.2l-3.7-1.3l-1 2.3l-5.3 24.8l-5.2 16.1l-1.1 2.1l-7.3 8.1l-2.1 .9l-2.1 1.9l-5.3 2.2l-6.3-1.6l-8.4 1l-2.1 1l-4.2 3.7l-2.1 .7l-9.5-2.3l-4.2-2l-2.1-.4l-5.2 1.6l-5.3 .7l-6.3 3.6l-2.1 .7l-1-.2l-5.3-7.2l-3.2-3.2l-7.3-3.8l-6.3-5.3l-5.3-2.7l-2.1-1.6l-7.3-9.6l-7.4-5.3l-5.2-7.3l-2.1-2.1l-1.1-.1l-1 .5l-4.3 3.3l-1-.4l-3.2-4.1l-3.1-1.7l-2.1 .8l-3.2 3.1l-1.8 4.3l-1.6 8.5l-1.4 12.7l-1 14.9l-1.1 48.7l-.4 119.9l-2.1 11.2l-1.1 2.7l-3.1-.5l-3.2-2.8l-2.1-.9l-2.1-1.6l-1-.3l-2.1 1.1l-1.1-.2l-1-2l-4.2-19.7l-1-7.2l-3.6-44.5l-.3-8.5l.4-8.5l1.7-12.7l2.7-6.4l4.3-7.3l2.1-2l1 .3l3.2 3.3l1 .6l1.1-.1l4.2-2.3l3.1-.5l1.1-2.3l.5-6.6l-.2-8.5l-.4-6.4l-1-4.8l-5.2-2l-3.2 .3l-2.1 2.3l-3.1 6.4l-1.1 .1l-1.8-2.3l-4.4-8.5l-1.7-2.1l-1.5-.9l-2.1 .2l-4.3 2l-4.2-2l-6.3-2l-1 .3l-4.2 3.2l-3.2-.8l-2.1-1.4l-7.3-9.5l-3.2-2.7l-3.1-1l-4.2-2.7l-2.1-.1l-3.2 1.5l-1 0l-5.3-2.1l-6.3-1.8l-8.4-.1l-5.3 1.8l-4.2 .1l-5.2 2.3l-5.3-1l-4.2 .9l-3.1-1.8l-2.1-.3l-2.1 1.4l-3.2 3.1l-2.1 .7l-2.1-1.1l-3.2-2.8l-2.1-1l-11.5 .3l-5.3-2l-3.1-.4l-6.3 .5l-5.3-1.1l-2.1 0l-8.4 2.8l-6.3 0l-3.2 .4M121.7 593.5l-1.3-36.5l.2-10.6l.7-4.2l.4-1.3l1 3.2l.4 8.7l-.4 33.3l-.9 6.9zM160.5 572.9l-1-8.1l-.1-18.4l.1-.7l1-.9l.6 5.8l-.5 21.2zM220.5 241.4l0-8.1l.7 3.6l-.7 4.5M97.7 616.4l-1.1-19.1l-1.2-5l-1.1 2.2l-1 7.6l-1 14.3M117.8 616.4l-1.4-4.3l-1 .4l-1.3 3.9M140.3 616.4l-.8-12.9l-1-8.6l-1.1-2.7l-1 8.3l-.4 15.9M157.8 616.4l-.4-7.9l-1.1-6.3l-1 4.9l-.4 9.3M176.2 616.4l-2-20.1l-1-4.7l-1.1-2l-4.2 16.6l-1.3 10.2M350 616.4l.1-14.9l.7-10.1l1.3-6.8l1.8-5.7l1.1-1.6l1-.7l3.2 0l1-1.1l10.5-29.9l1.1-1.4l1-.1l3.2 1.3l1-.6l1.1-1.4l7.4-17.6l3.1-4.2l4.2-.9l1.1-.7l4.2 5.7l1.1 3.7l3.1 5l2.1 2l7.3 4.6l5.3 6.4l1 0l4.2-4.3l2.1-.1l3.2 1l4.2-2.1l1.1 0l4.2 1.9l4.2 3.2l1-.5l1.1-1.6l5.2-14l2.1-3.1l1.1-.5l1 .3l4.2 5.4l1.1-.2l3.1-3.1l2.1-1.1l3.2 0l3.1 .7l1.1-.2l1-1.6l1.1-3.8l3.1-19.3l1.1-4.2l1-2.2l1.1-.4l1 .7l5.3 8.4l1.1 .5l1-.9l4.2-9.2l3.2-4l5.2-12.8l1.1-.7l1 1.1l5.3 14l2.1 4l1 .9l1.1-.4l1-1.7l3.2-7.6l1-1.4l3.2-1.6l3.1-6.1l1.1-.4l1 1.5l3.2 7.9l1 1.8l1.1 .7l1-.9l1.1-2.8l4.6-20.6l2.5-8.5l1.3-2.9l1.1-.8l1 .6l1.1 2l5.2 17.3l2.1 3.8l1.1-.3l1-1.7l6.3-16.2l2.1-4l1.1 .2l1 2l3.2 11.6l1 1.7l1.1-2.3l2.7-15.3l1.5-4.6l1-1.1l4.2 1.1l3.2-1.2l6.3-5.8l4.2-7.6l1.1-1.1M57.5 533.5l.7-25.3l1.4-15l1.1-3.3l3.2-4l1-.6l1.1 .9l1 2.8l1.3 6.5l1.5 12.7l1.4 20.2l1.1 5.1l1-2.7l2.6-20.4l2.7-14.3l3.1-9.4l2.1-3.3l1.1-.8l1.5 .2l1.6 2l3.2 8.5l1.2 2.2l.9 .8l1 .1l3.2-2.9l1-.1l1.1 1.4l2.1 5.7l1 .6l3.2-6l1-.1l3.2 1.7l1-.3l1.1-1.2l5.3-14l1-2l1.1-.8l1 1l1.1 3l3.1 15.9l1.1 3.8l1 1.4l1.1-.4l1-1.6l4.1-10.2l1.2-1.6l1 .1l1.1 1.5l4.2 9l1 1l1.1 0l1-1.3l.8-2.4l3.4-13.8l1.1-2l1-.4l2.1 2.9l4.2 9l2.1 3.4l4.2 2.2l3.2 2.7l1 0l1.1-.9l6.3-12.6l1.1-1.1l1 .5l4.2 14.8l1.1 0l2.1-8.8l3.1-22.4l2.1-9.7l1.1-.4l.5 2.7l2.1 17l1.6 7.5l1 2l1.1 .5l2.1-.2l1 .6l3.2 4l1-1.1l1.1-3.4l3.1-18l2.1-8.9l4.2-8.7l2.1-2.6l1.1-.6l2.1 .4l2.1-.5l1.1-1.9l3.1-9.3l1.1-2l1-.8l1.1 0l3.1 4.3l1.1 .6l1 0l3.2-1.4l2.1 .3l1 .6l4.2 5l4.2 .2l3.2 12.2l2.3 156.9M593.6 159.1l-4.2-2.8l-5.3-1l-7.4-3.5l-5.2 .1l-6.3 1.7l-3.2 .1l-5.2-1.4l-5.3-3.9l-2.1-.8l-5.2-1.1l-5.3 .4l-2.1-.5l-2.1-1.7l-4.2-5.1l-6.3-4.9l-6.3-11.1l-2.1-1.4l-5.3 .7l-4.2-1.3l-1 .2l-2.1 1.9l-3.2 4.2l-2.1 1.3l-2.1-.9l-5.2-6.7l-3.2-2.7l-2.1 0l-5.3 3.8l-2.1 .3l-2.1-1.3l-3.1-3.5l-2.1-1.1l-2.1 .8l-5.3 4.2l-2.1 .3l-2.5-2.1l-4.8-8.8l-2.1-2.2l-1.1 .2l-1 1l-5.3 9.9l-2.1 2.9l-2.1 1.7l-1 .3l-2.1-.5l-6.3-5.5l-2.2 .3l-3.1 2.4l-2.1 1l-5.3-1.4l-1 1.8l-4.2 16.8l-6.3 17.3l-10.5 12.7l-2.1 3.4l-5.3 1.8l-6.3-1.1l-8.4 .3l-2.1 .8l-3.2 2.5l-2.1 1l-5.2-1.1l-5.3-.5l-5.2-2.1l-2.1 .5l-4.2 2l-5.3 1l-7.3 3.5l-2.1 .5l-6.4-8.9l-3.1-3.1l-12.6-7.4l-5.3-1.3l-3.1-1.9l-4.2-4.9l-3.2-4.9l-6.3-8l-7.3-11.7l-2.1-.6l-4.3 1.8l-1-1.3l-3.2-6.6l-3.1-1.8l-1.1 .3l-3.1 3.4l-1.3 3l-.8 3.7l-1.9 17.5l-1.5 21.2l-1.3 44.5l-.8 97.5l-.8 52l-3.2 9.7l-5.2 2.6l-3.2 3.9l-7.3 2.2l-1.1-.5l-1.3-2.1l-5-12.7l-5.2-7.4l-1.9-20.1l-3.1-57.3l-3.5-31.8l-3.2-21.2l-1-3.7l-1-2l-1.1-.4l-2.1 .3l-1-.5l-5.3-7.5l-3.1-6.5l-5.3-17.7l-2.1-3.4l-7.3-5.3l-2.1-.2l-3.2 1.5l-3.1-.2l-7.4-5.3l-3.2-1.1l-3.1 .7l-5.3-.6l-4.2 2l-4.2 .9l-3.1 2l-2.1 .7l-4.2-1.3l-4.2 1.1l-1.1-.1l-3.1-2.4l-2.1-.6l-2.1 1.3l-3.2 3.3l-2.1 1l-1-.3l-5.3-3.7l-4.2-.2l-4.2-1.3l-4.2 .1l-6.3-2.1l-3.2 .1l-5.2 1.2l-5.3-.7l-10.5 3.4l-6.3-1.2l-3.2 1M338.1 616.4l0-17l.9-6.4l5.5-13.8l3.7-13.7l2.6-11.9l1-2.8l2.1-3.9l5.3-6.3l7.3-13.2l5.3-15l5.2-4.8l8.4-14.2l3.2-3.6l3.2-1.6l2.1-2.2l4.2-1.9l2.1 6l4.2 16.8l2.1 6.1l5.2 4.7l5.3 7.6l1-.2l3.2-3.4l4.2-2l2.1-1.7l9.5-13.4l4.2-3.3l1-1.5l5.3-12l2.1-3.6l2.1-1.4l3.1-.1l2.1-.8l5.3-4.9l4.2-5.9l4.2-9.2l6.3-8l1-.7l4.2-.7l4.3-4.4l1-.2l4.2 1.5l2.1-.5l2.1-2.1l4.2-9.1l1.1-1.9l1-.8l1.1 .7l1 2.5l2.1 8.6l2.1 5l1.1 .6l4.2-.5l2.1-1.4l1.8-3.7l3.3-14.9l1.2-3l1-.8l1.1 .5l2.1 2.7l1 .3l1.1-1.2l4.2-8.3l2.1-2.1l5.3-.3l2.1 1l5.2 9.9l2.1 2.2l1.1-.2l1-1.2l6.3-13l3.2-3.8l1-.3l4.2 1l5.3-1.7l2.1 .6l5.2 3l2.1-1.2l4.2-6.1l1.1-.5l3.2 .7l1-.2l3.2-2.2M57.5 423.1l2.6 8.8l3.8 10.6l4.2 8.4l2.1 2l1-.5l3.2-4.9l1-.1l4.2 1.8l1.1-.3l2.1-2.1l3.1-5l5.3-16l1-.6l1.1 .8l4.2 6.4l1 .9l1.1 0l1-1.2l3.2-6.8l1-1l3.2-1.3l3.1-2.9l1.1-.1l8.4 2.9l2.1-1.3l4.2-5.9l1.1 0l1 1.7l1.5 6l3.8 26.7l3.1 8.4l1.1 1.8l1 .5l1.1-1.9l1-5.6l2.7-21.4l1.3-4.2l1.3-1.7l2.1-.1l5.2 1.5l1.1 1.2l3.1 12.9l1.1 1.1l1-2.2l2.1-7.3l1.1-1.8l1-.3l2.1 1.2l1.1 0l6-6.6l2.4-1.2l1.1 .6l1 2.1l3.2 12.1l1 .3l1.1-3.2l3.1-16.2l2.1-7.7l2.1-4.7l2.1-2.2l2.1 .5l1.1 1.7l2.1 6.7l4.2 18.1l1 1.3l1.1-1.6l1-3.9l3.5-19.7l2.8-44.5l.3-14.9l-.3-15.8l-2.2-43.5l-1.3-14.9l-1.7-11.7l-3-9.5l-6.5-11l-3.1-7.8l-6-27.8l-1.4-3.5l-3.1-4l-3.2-3.2l-2.1-1.3l-2.1 .2l-2.1 1l-4.2 .1l-6.3-7.6l-2.1-1.4l-1.1 0l-3.1 .8l-5.3-.7l-12.6 6.2l-5.2-1.1l-4.2 1.4l-1.1-.3l-3.1-3.2l-2.1-.9l-2.1 1.3l-3.2 3.9l-2.1 1.4l-1-.2l-4.3-3.2l-4.2-.3l-5.2-2.5l-4.2 .1l-4.2-1.9l-2.1-.4l-3.2 .3l-5.2 1.8l-4.2-.3l-11.6 3.4l-2.1 0l-4.2-1.5l-3.2 1.3M593.6 165.2l-3.2-2l-6.3-1.1l-6.3-2.8l-5.3-.1l-8.4 1.8l-4.2-.1l-3.1-.8l-5.3-3.3l-2.1-.7l-5.2-1.1l-5.3 .2l-2.1-.5l-2.1-1.5l-4.2-4.4l-6.3-3.8l-6.3-9.1l-2.1-1.3l-3.2 .2l-6.3-1.4l-1 .2l-2.1 1.6l-3.2 3.6l-2.1 1.1l-2.1-.7l-6.3-6.6l-3.1-1.4l-2.1 .6l-4.3 2.6l-2.1 .3l-2.1-1l-3.1-2.8l-2.1-.9l-2.1 .6l-4.2 3l-3.2 .4l-2.1-1.4l-5.2-8l-2.1-1.7l-1.1 .2l-1 .9l-5.7 9l-1.7 2l-2.1 1.4l-1 .2l-2.1-.6l-4.2-3.6l-2.1-1.2l-2.2 .3l-3.1 2.2l-2.1 .8l-5.3-1.3l-1 1.8l-4.2 14.2l-6.3 15.7l-6.1 8.4l-6.5 13l-5.3 2.7l-2.1 .3l-4.2 0l-6.3-1.7l-2.1 0l-6.3 3.8l-5.3-1.6l-5.2 .7l-4.2-1.9l-2.1-.3l-6.3 3.4l-5.3 .3l-4.2 .9l-5.2 2.7l-2.1-2.3l-4.3-6.9l-3.1-3.4l-12.6-9l-7.4-2l-5.2-4.7l-8.4-10.7l-8.4-14.4l-2.1-1.3l-4.3 0l-1-2.1l-1.1-5.8l-2.1-5.5l-3.1-1.9l-2.1 1.8l-2.1 3.8l-1.4 8.2l-1.4 14.8l-1.2 21.2l-1.5 40.3l-1.3 99.6l-1.6 64.4l-3.2 8.6l-3.1 2.8l-2.1 2.9l-3.2 7.6l-1.6 2.8l-1.3 4.2l.8 4.2l5.3 11.6l1 1.5l4.2 3.8l3.2 10l3.3 176.7M324.8 616.4l.1-12.8l1.2-10.6l.5-1.5l1.1-1.1l2.1-.4l1 .2l1.1-.7l1-2l5.3-15.6l4.3-10.7l9.3-32.2l6.3-11.3l7.4-15.5l5.2-14.8l1.1-1.6l4.2-3.6l5.3-9.6l4.2-6l6.3-5.1l3.1-7.2l2.1-3.4l1.1-.6l.2 .7l4 18.4l2.1 7.1l2.1 3.4l2.1 .8l2.1 2.8l5.2 14.2l1.1 2.2l1 .2l3.2-5l5.2-6.3l5.3-7.3l6.3-13.8l4.2-3.7l4.2-5.5l7.4-13.3l5.2-11.9l2.1-2.1l3.2-1l2.1-1.8l4.2-10.3l1-1.6l2.1-1l5.3 2.5l2.1 .1l4.2-3.9l1.1-.3l4.2 1.2l2.1-.6l5.2-2.8l4.2-3.7l1.1-.2l3.1 2l1.1-.1l3.1-4.6l1.1-.2l3.1 3.4l1.1-.2l2.1-4.3l4.2-13.8l1-1.4l1.1 .7l3.1 6.6l1.1 .5l1-.7l2.1-4.2l3.2-9.7l1.1-.9l3.1 3.7l2.1 1.6l5.3 13.8l1 1.1l1.1-.2l1-1.5l4.2-9.3l6.3-10.8l2.1-2.3l3.2-.8l3.1-2l1.1 0l2.1 2.1l4.2 7l2.1 1.1l1-.2l2.1-2.7l7.4-18.4l1.1-1.2l1 .3l3.2 3.4M57.5 375.6l2.6 9.7l3.8 19.8l1 3.8l1.1 1.8l1-.5l.7-1.6l2.5-9.5l1-3.1l1.1-1.5l1 .1l3.2 4.8l1 .5l2.1-.7l1.1 .6l3.1 6.7l1.1 1.1l1-.5l1.1-2.5l3.1-14.5l1.1-2.5l1 .6l4.2 13.4l1.1 1.6l1 .1l1.1-1.3l3.1-8.7l1.1-1.8l1-.8l3.2-.9l6.3-4.2l2.1-.8l1.1 .7l1 2l3.2 8.2l1 .7l1.1-.8l1-2.1l2.1-5.7l1.1-1.3l1 1l5.3 18.2l2.1 4.8l1 .4l1.1-1.7l3.1-14.6l2.1-5.1l1.1-.5l3.1 2.1l1.1-.1l1-.8l2.1-3.1l4.2-8.9l1.1-.7l1 .9l4.2 8.7l3.6 10.9l.6 1.6l1.1 .9l1.1-1l.6-1.5l4.6-12.8l1.1-1.4l1-.4l1.1 .7l1 2.1l3.2 9l1 .7l1.1-1.5l3.1-10.7l2.1-4.8l3.2-4.6l3.1-2.5l1.1-.1l1.3 .9l3.9 7.4l1.1 .3l1-4.7l.5-5.2l.8-19l-.9-21.2l-2.3-31.8l-3.9-27.6l-2.5-12.7l-4-14.9l-4.5-24.1l-3.1-7.2l-3.2-4.1l-3.1-2l-5.3 .6l-2.1 .9l-1-.8l-5.3-8.4l-1.1-1.2l-2.1-.8l-3.1 .9l-5.3-.7l-4.2 2.9l-6.3 3l-2.1 .4l-5.2-.7l-3.2 1.6l-1 0l-1.1-.6l-3.1-3.7l-2.1-1.1l-2.1 1.3l-3.2 4.4l-2.1 1.8l-1 0l-4.3-2.9l-4.2-.3l-1-.4l-4.2-2.9l-4.2 0l-4.2-2.3l-2.1-.3l-3.2 .4l-5.2 2.1l-4.2 .3l-4.2 1.7l-4.2-.3l-4.2 1.7l-2.1-.2l-3.2-1.2l-3.2 .9M593.6 170.5l-3.2-1.8l-6.3-1l-6.3-2.7l-6.3 .1l-7.4 1.6l-4.2 .2l-3.1-.6l-5.3-2.8l-2.1-.6l-5.2-.8l-5.3 .2l-2.1-.4l-6.3-5.2l-6.3-3l-6.3-7.8l-2.1-1.2l-3.2 .2l-6.3-1.2l-1 .1l-5.3 4.6l-2.1 .9l-2.1-.6l-6.3-5.5l-3.1-1.1l-2.1 .4l-5.3 2.5l-2.1-.3l-4.2-2.8l-2.1-.7l-2.1 .5l-4.2 2.4l-3.2 .1l-2.1-1.2l-5.2-6.9l-2.1-1.3l-2.1 1l-6.3 8.5l-3.2 2.1l-3.1-.6l-4.2-3.3l-2.1-1.1l-2.2 .3l-5.2 2.6l-5.3-1.4l-1 1.5l-5.7 16.2l-4.8 10.7l-5.3 8.6l-3.1 9.1l-3.8 7.6l-.4 .8l-4.2 2.9l-2.1 .7l-5.3 .1l-5.3-2.6l-2.1-.5l-2.1 .8l-4.2 3l-2.1-.1l-3.1-1.8l-1.1-.2l-4.2 2.2l-1 .1l-5.3-2.2l-2.1 .5l-6.3 3l-5.2-.3l-3.2 .4l-2.1 1l-3.1 2.8l-2.1-1.6l-4.3-7.1l-2.1-2.6l-5.2-3.9l-5.3-5.6l-4.2-2.7l-4.2-.6l-2.1-.8l-5.2-4.6l-6.3-6.6l-4.2-5.9l-6.3-10.9l-2.1-1.8l-4.3-1.3l-1-2.2l-3.2-17.2l-3.1-2.2l-1.1 1l-3.1 10.4l-2.4 25.9l-1.9 50.9l-1.7 93.3l-1.9 67.8l-.5 9.9l-4.3 19.8l4.3 20.6l.3 7l4 180.2M322 616.4l-.8-21.2l.5-8.5l1.1-4.3l2.8-5.7l1-1.2l4.2-2.5l1.1-1.2l2.1-4.4l4.2-14.5l8.4-25.6l5.2-20.5l12.6-29.2l5.3-16.6l1-1.5l3.2-.2l1-1l1.1-2.2l1.3-5.1l2.9-16.9l1.1-1.8l1 1.1l3.6 7l1.7 1.4l2.1-.1l1-1.1l1.1-2.3l4.2-16.9l1-1.6l1.1 .4l3.7 18.1l2.6 9.4l2.1 4.1l2.1 .8l2.3 2.6l1.9 4.2l4.2 13.1l1 .6l5.3-10l7.4-11l7.3-15.8l7.4-7.6l1.2-3.1l3-12l2.1-6.2l1-1.6l4.2-3.4l5.3-9.8l1-1.1l3.2-.3l1-.7l4.2-6.9l1.1-.4l1 .4l3.2 3l2.1 1.4l1-.2l1.1-.9l3.2-5l1-.8l1.1 .2l3.1 2.3l1.1 0l1-.5l2.1-3.2l1.2-3.1l3-13.7l1.1-1.4l3.1 10.9l2.1 2.9l1.1 .3l1-.7l3.2-7.6l1-1.6l1.1 0l2.1 1.9l1 .2l1.1-1l4.2-11.8l1-1.9l1.1-.6l1 .6l1.1 1.8l3.1 7.4l1.1 1.3l1-.1l1.8-3.9l2.4-10.7l1.1-2.7l1.1 .2l3.1 7.4l6.3 5.6l1.1-.2l3.1-6.8l1.1-.3l3.1 5.9l1.1 .6l1-.8l1.3-2.4l6.1-18.5l1-2.3l1.1-.7l1 1.1l2.1 4.2l3.2 2.7l1 1.5l4.2 10.3l1.1 1.3l1 .2l4.2-3.4l2.1-3.8l2-7.4l3.3-17.5l2.1-6.9l1.1-1.7M57.5 349.3l1.7-6.4l2.5-15.2l1.1-1.6l1.1 3.6l3.1 18.9l1.1 .6l1-3.1l4.6-32.9l-.5-31.8l.2-6.4l1-7l1 4.8l2.1 18.9l.8 25.7l1.5 17l3 19.8l1 4.4l1.1 1.7l1-2l3.2-22.3l3.1-13.5l1.1 3.2l2.7 29.9l.4 2.9l1.1 2.1l1-2.8l3.2-24.7l2.3-11.4l.8-1.7l1.1 .1l1 2.2l3.2 14.6l1 2.9l1.1 0l1-2.6l3.2-14.5l1.1-2l1 .7l2 6.6l3.3 20.5l1 .4l2.1-5.6l1.1-1.4l1 2.1l3.2 17.7l1 2.5l1.1 .1l1.1-2.3l2.2-8.5l2.4-17l2-23.3l-.4-20.1l1.1-4.5l1.3 3.4l1.6 12.7l2.3 7.9l3.1 21.8l1.1 4.6l1.1 1.2l1-1.4l3.2-7.6l1-.4l1.1 .9l2.1 4.9l4.2 16.8l1 3l1.1 1l1.1-1.8l.5-2.1l2.6-13.8l1.1-3.4l1-.7l1.1 1.2l4.2 9.3l1 1.6l1.1 .7l3.1-1.5l1.1 0l4.2 2l2.1-1l1-1.4l1.1-2.3l1.3-7.7l.9-21.2l-.4-16.9l-1.4-14.9l-7.8-45.8l-1.6-7.2l-1.5-3.6l-1.1-1.3l-2.1-.8l-2.1 1.5l-1.8 4.2l-1.7 17l-1.7 31.6l-1.1 4.8l-1-2.5l-1.1-7l-2.3-22.7l-2.4-40.3l-1.4-4.2l-1.7-2.1l-1.7-.7l-3.1 .4l-4.2-.6l-1.1 .2l-5.5 4.9l-3.9 6l-1.1 .5l-4.2-3.1l-1-.6l-1.1 .1l-1 1.3l-1.1 4.3l-2.1 18.1l-1 .2l-2.9-24.7l-1.3-3.9l-1.1-1.4l-1-.4l-2.1 1.3l-2.2 4.4l-1.3 6.4l-1.8 13.8l-1 1.9l-3.1-15.7l-1.2-3.2l-1-.8l-2.1 .3l-1.1-.8l-3.1-4.4l-2.1-1.6l-4.2 .1l-4.2-2.7l-2.1-.6l-2.1 .2l-2.1 .6l-4.2 2.7l-4.2 1l-1.1 .8l-3.1 5.4l-1.1-.8l-1.7-2.6l-1.4-.4l-1.1 1.2l-1.3 3.5l-1.6 8.5l-.8 8.4l-.5 22.8l-.7-24.9l-1.6-14.8l-.9-3.1l-1-1.3l-1.1 .6l-2.1 5.6M593.6 175.9l-3.2-1.7l-6.3-.9l-6.3-2.7l-7.4 .1l-7.3 1.6l-4.2 .1l-3.2-.7l-5.2-2.4l-3.2-.6l-9.4-.4l-2.1-.9l-5.3-4.1l-6.3-2.3l-6.3-6.5l-2.1-.9l-3.2 .1l-7.3-.9l-5.3 4l-2.1 .8l-2.1-.6l-6.3-4.6l-3.1-.9l-2.1 .3l-4.3 1.8l-2.1 .3l-7.3-3.1l-6.3 2.3l-2.1 .2l-3.2-1.5l-5.2-5.9l-2.1-1.1l-2.1 1l-6.3 7.4l-3.2 1.7l-3.1-.7l-4.2-3.2l-2.1-1l-2.2 .2l-5.2 2.4l-5.3-1.5l-1 1.3l-4.2 11l-6.3 14l-4.7 8.6l-3.7 12.8l-4.2 6.3l-2.1 1.9l-1.6 2.3l-.7 2.1l-.9 8.6l-4.2 11.5l-1 .9l-1.1-2.7l-3.1-18.7l-1.6-3.8l-1.6-1.2l-2.1 .2l-1.2 1l-3 4.8l-1.1 .2l-4.2-4.4l-1-.6l-1.1 0l-2 2.1l-1 2.1l-1.2 7.6l-1 3.5l-.6-4.7l-1.6-6.4l-2-1.7l-1.1 .2l-1 1.1l-4.2 13.9l-2.1 3.9l-1.1-.2l-3.1-7l-2.1-3.5l-2.1-1.6l-1.1 .1l-1 1.2l-1.4 4.2l-2.8 19.8l-1.1 3l-1 .2l-1.1-4.9l-2.2-22.3l-2-8.6l-2.1-2.7l-4.2-2.6l-5.3-6.8l-2.1-2l-2.1-1.2l-5.2-1.4l-7.4-6.9l-5.2-3.6l-4.2-5.3l-6.3-9.9l-2.1-1.9l-4.3-2l-1-2.2l-3.2-20.2l-3.1-2.6l-1.1 2.7l-3.1 13.3l-1.6 19.4l-1.5 40.3l-3.5 144.1l-1.8 40.2l-1.1 5.3l-.4 5.4l.4 5.6l1.1 5.4l.9 20.8l1.8 86.9l2.4 89.1M353.9 303.3l-1.1-4.9l-1.1-10.6l-.6-12.8l.1-10.6l.6-6.3l3.7-17l1.6-11.6l1 4.7l1.5 19.6l.1 21.2l-1.2 17l-1.4 9.5l-1.1 2.7l-1 .5l-1.1-1.4M307.2 616.4l.5-9.8l1-2.8l1.1 .6l.6 1.4l1.1 4.2l-.6 6.4M318.3 616.4l-1.2-2.2l-2.9-2.1l-2-4.2l.8-14.9l2-10.2l2.1-5.3l5.3-7l4.2-8.3l4.2-5.7l2.1-5.1l8.1-26.2l9.8-37.5l5.4-17.6l4-19.3l1.1-3.1l1-1.1l2.1-1.2l1.1-1.5l5.2-11.4l2.1-.1l1.4-2.6l1.2-8.5l.5-10.6l-.5-29.7l-1.5-20.4l-1.1 .5l-1 3.9l-1.1 .6l-1-3.5l-3.5-21.3l-1.8-26.5l-.8 24.3l-1.3 10.9l-1 1.3l-3.2-8.9l-1-2l-1.1-.8l-1 .6l-.7 1.1l-3.5 7.9l-1.1 .6l-1-1.1l-2.4-5.3l-1.8-6.3l-1-6.4l-4.7-36.1l-2.7-31.8l-1.1-1.8l-1.5 10.3l-2.5 40.3l-1.2 8.6l-1.1 4.7l-1 1.8l-1.1-3l-1-11.2l-1.9-47.6l-1.3-16.7l-1.1-5.6l-1-2.2l-3.2-2.2l-2.1-.8l-1-1.1l-1.1-5.9l-1.4-14.2l-1.3-6.4l-1.3-2.1l-1.2-1l-5.3-2.3l-2.1-1.5l-4.2-5.9l-2.1-2.1l-5.2-2.4l-11.6-13.4l-5.3-2.6l-1-2l-3.2-18.9l-3.1-.7l-4.2 11.8l-.7 9.2l-1.6 40.3l-2.1 93.3l-2.4 67.8l-1.6 31.8l1.4 33.9l4.4 173.9M57.5 314.5l2-52.2l-.4-12.7l-.5-3.9l-1.1-3.2M593.6 182l-3.2-1.5l-6.3-1l-6.3-2.6l-7.4-.1l-8.4 1.5l-4.2 .2l-6.3-2.4l-4.2-1l-9.4-.8l-2.1-.8l-5.3-3.9l-6.3-2l-6.3-5.7l-2.1-.8l-4.2 .2l-6.3-.8l-5.3 3.6l-2.1 .7l-2.1-.5l-6.3-3.9l-3.1-.8l-2.1 .3l-5.3 1.7l-2.1-.1l-4.2-1.9l-2.1-.5l-6.3 1.9l-2.1 0l-3.2-1.5l-5.2-5.3l-2.1-.9l-2.1 .9l-6.3 6.6l-3.2 1.3l-3.1-.8l-4.2-3.1l-2.1-.9l-2.2 .1l-5.2 2.2l-5.3-1.4l-1 1l-5.3 12.5l-8.4 17.4l-3.8 11.7l-1.5 8.5l-1.6 27.6l1.7 20.6l.2 17.5l-.2 19.1l-1.5 31.8l0 12.7l2.8 27.6l3 42.4l2 13.4l2.1 8.2l5.2 6.8l5.3 11.4l1 .5l10.1-17l2-6.3l2.7-11.8l2.1-6.1l2.1-3.3l4.2-5.2l4.2-7.2l6.3-14.8l1-1.6l1.1-.4l2.1 .5l1-.7l1.1-2l4.2-21.3l1 0l2.5 8.1l.7 2l1 1.2l1.1-.4l4.2-5.5l1-.2l1.1 .4l4.2 3.6l1-.2l3.4-3l4-1.1l2.1-2.1l2.1-4.3l4.9-20l1.4-3.1l1.1-.4l1 1.4l1.1 3.7l2.3 15.3l.8 3.6l1.1 2l1-.1l3.2-4.1l1 .1l3.2 3l1-.1l1.1-1.3l3.1-9.1l2.1-3.9l1.1-.1l1 1.1l3.2 7.6l1 1.8l1.1 .6l1-1.1l1.1-3.5l3.1-19.5l1.1-2l1.1 1.2l4.2 11.1l1 1.1l2.1 .5l1.1-.4l1-1.4l3.2-9.8l1-1.6l1.1 1.2l3.1 11.3l1.1 .5l1-2.9l2.4-11.2l2.9-5.7l4.2-12.2l1-1.6l1.1-.2l1 1.1l5.3 12.7l2.1 3.3l1-.3l3.2-8l1-.7l3.2 10.9l1-.6l3.9-17.8l4.6-16M388.6 417.9l1.1 1l1-1l1.1-3.5l1.8-18.5l.1-8.5l-.7-23.3l-.3-4.3l-.9-4.5l-1.1 1.7l-3.1 11.2l-1.7 15l-.2 8.4l.5 10.6l1 10.6l1.1 4.3zM188.9 306.6l1.1 .2l0-8.4l-1.1-5.6l-1.4-2.9l-.7-3.5l-1-26.3l-1.1-7.7l-1-2.7l-1.1-.9l-1 .7l-1.1 2.4l-.8 4.1l-1 16.9l.4 14.9l1.4 8.7l1.1 1l3.1-3.7l1.1 .1l1 1l1.6 9.8zM123.8 275.1l1-2l.6-4.4l.6-12.7l-1.1-21.2l-1.1-5.6l-1.1 .6l-1 7.1l-.5 16.9l.5 12.8l1 6.5l1 1.9zM85.9 271.1l1.1 1.3l1-.8l1.1-2.2l3.6-11.3l.9-4.3l.6-6.3l.3-10.6l-.3-6.4l-.9-6.9l-1.1-2.7l-1-.8l-1.1 .2l-1 1l-1.4 2.9l-1.5 6.3l-1.2 10.6l-.5 12.7l.4 10.6l.9 6.4zM154.2 254.1l1.1 .5l1-2.3l1.1-5.5l1.4-14.2l-.4-5.8l-1-1.7l-2.1-1.2l-1.1 .3l-1 2.7l-.5 5.7l0 8.5l.5 8.4l1 4.3zM293.8 616.4l.4-14.9l.9-7.8l1.1-4.9l1-1.8l1.3-.3l1.5 2.1l1.4 4.2l1 1.4l3.2-8.1l1.1-1.7l4.1-4.5l5.3-12.8l4.2-4.7l2-3.5l4.3-15.2l4.2-7.2l3.2-8.5l9.4-39.2l4.2-12.6l4.2-21.3l3.2-8.5l1-4.1l4-31.8l.1-8.5l-2.4-25.4l-1.7-8.6l-1-.8l-1.1 1.8l-4.2 16.7l-1 1l-2.1-2.3l-2.1-5.2l-1.1-4.6l-4.2-27.1l-1.5-6.9l-1.6-4.3l-1.1-.7l-1 1l-1.1 2.3l-4.2 14.2l-1 2.9l-1.1 1.4l-1-.5l-1.1-2.5l-3.6-16l-3.8-10.9l-1-.4l-2.1 3.2l-1.1 .7l-1-1.8l-1.1-4.7l-1.2-13.6l-3.8-65.7l-1.1-10.6l-1.2-6.4l-3.2-8.6l-3-10.5l-2.2-4.2l-2.1-1.5l-2.1-.2l-2.1-1l-7.4-7.1l-5.2-4.3l-4.3-.9l-1-1l-1.4-5.2l-1.8-12.4l-3.1 3.7l-4.2 10.2l-1.3 30.3l-2.5 95.4l-4 95.4l1.3 36l4.5 173.9M304.2 616.4l-1.8-16.5l-1 .3l-1.8 16.2M593.6 188.2l-3.2-1.4l-6.3-1l-6.3-2.7l-8.4-.1l-11.6 1.7l-10.5-3.1l-9.4-.8l-2.1-.9l-5.3-3.6l-6.3-2l-6.3-5.4l-2.1-.8l-4.2 .2l-6.3-.8l-5.3 3.2l-2.1 .6l-2.1-.5l-5.2-2.8l-3.2-1l-3.1 .1l-5.3 1.5l-2.1-.1l-6.3-2.1l-7.4 1.5l-3.1-1l-6.3-5.5l-2.1-.7l-2.1 .8l-6.3 5.8l-3.2 1.1l-3.1-1l-4.2-3l-2.1-.9l-2.2 .1l-5.2 2l-5.3-1.5l-1 1l-14.7 32.8l-2.2 7.2l-.5 8.5l.9 63.6l.1 48.7l.6 11.8l2.8 20l1.4 32.5l1.3 9.9l10.3 28.4l1 .2l8.4-18.7l2.1-7.3l3.2-15.1l2.1-6.3l2.1-1.9l3.2-.7l2.1-2.2l4.2-10.1l3.1-5.3l4.2-11.3l1.1-.4l2.1 2.3l1-.2l1.1-2.7l3.1-15.9l1.1-2.4l1-.1l.9 1.9l2.4 8.5l.9 2.4l1.1 .9l2.1-2.1l4.2-6.7l1-.4l3.2 2.3l3.1-.2l3.2 1.4l1.1-.2l2.1-3.2l8.3-19.7l1.1-1.5l1.1-.4l1 .5l1.8 3.5l3.5 13l1 1.5l2.1 .6l1.1 .7l3.1 5l1.1 .9l1-.3l1.1-1.9l3.1-10.8l1.1-2.5l1-1.2l1.1 .1l1 1.4l3.2 8.1l1 1.3l1.1-.6l1-3.4l3.2-25.6l1-4.3l1.1-.9l4.2 6.2l4.2 2.1l1.4-2.1l3.9-12.8l1-.6l1.1 1l2.1 4.5l1 .9l3.2-6.3l1-.4l2.1 2.4l1.1 .2l1-1.5l4.2-12.9l1.1-1.5l1-.4l1.1 .5l1 1.4l3.2 7.6l1 1.4l1.1-.3l3.1-6.9l2.1-2.8l1.1 0l3.1 4l1.1-.1l4.2-5.5l1.1-2.2l2.1-7.3M364.4 417.4l1.1-.1l1-2.7l.7-6l-.5-12.7l-1.2-5.4l-1.1 1.6l-1 4.4l-1.5 10l.8 6.3l1.5 4.3zM279.9 616.4l.4-10.6l1.1-8.5l1.1-2.4l1-.1l1.1 .8l1.1 3.8l.3 6.4l-.3 10.6M292.1 616.4l-.7-23.4l.3-4.2l1.2-4.2l1.9-4.3l2.4-3.5l1-.7l1.1-.1l3.1 1.4l1.1-.5l5.2-5.4l2.1-3.2l4.2-11.2l5.3-8.4l2.1-7.1l4.2-18.7l3.2-6.9l1-3.5l7.2-31.8l3.3-20.8l1.1-3.6l3.1-6.2l1.1-5l.7-11.1l-.4-12.7l-1.6-12.7l-3.4-14.8l-2.9-21.2l-1.9-8.4l-1-2.5l-1.1-1.1l-1 .1l-1.1 1l-2.1 3.9l-4.2 11.5l-1 1.3l-1.1-.4l-3.2-6.3l-4.2-14l-1-2.2l-1.1-.8l-2.1 .3l-2-1.5l-2.1-6.4l-1.6-8.5l-1.3-12.7l-3.5-51.4l-1-4.3l-2.1-.6l-1.1-1.5l-1-4l-1.1-8.7l-1.6-27l-1.5-7.2l-3.2-2.7l-3.5-7.1l-4.9-4l-5.2-3.5l-2.1-.3l-3.2 .6l-3.2-2.4l-2.1 2.1l-5.2 3.6l-3.2 104.5l-4.1 94.5l5.9 209.9M593.6 195.4l-3.2-1.3l-5.3-.9l-7.3-3.2l-9.5-.4l-10.5 1.5l-10.5-3l-9.4-.9l-7.4-4.2l-6.3-1.9l-6.3-5.1l-2.1-.9l-10.5-.8l-5.3 2.8l-2.1 .5l-2.1-.4l-5.2-2.5l-3.2-.9l-3.1 .1l-5.3 1.3l-2.1-.2l-6.3-1.7l-7.4 1l-3.1-1.1l-6.3-5l-2.1-.6l-2.1 .7l-6.3 5.1l-3.2 .8l-2.1-.4l-5.2-3.6l-2.1-.9l-2.2 .1l-5.2 1.8l-5.3-1.5l-1 1l-4.8 11.1l-9.2 19l-1.3 4.3l-.7 6.3l.7 38.2l2.1 53l2.7 23.5l2.1 13.6l4.1 41.3l3.2 16.1l1.1 3.7l1 .6l8.4-17.4l2.1-7.6l3.2-15.8l1.1-3l1-1.3l1.1-.2l3.1 1.6l1.1 0l1-1.3l3.2-13.3l1-2.5l1.1-.5l2.1 .2l1-1l4.2-11.4l1.1 0l2.1 3.3l1 .1l1.1-2.4l2.9-11.5l1.3-2.5l1-.4l1.1 1.1l3.1 9.1l1.1 2l1 .3l2.1-3l3.2-7.9l1-.4l3.2 4l1 .4l3.2-1.5l3.2 1.3l1-.8l5.2-10.1l3.2-5.1l2.1-2.4l2.1-.7l2.1 1.1l1.1 1.8l3.1 8.4l5.3 11.7l1 2l1.1 .8l1-.8l1.1-2.9l3.1-15.1l1.1-2.6l1-.6l1.1 .7l1 1.7l3.2 8.4l1 .5l.3-.6l.8-2.4l1-7.8l2.2-23.7l1-5.5l1-1.5l1.1 1.2l2.1 4.5l1.1 1.2l1-.1l1.6-1.9l1.6-3l3.2-9.7l2-4.3l2.1-1.4l5.3-.6l3.1-1.5l1.1 0l2.1 1.4l1-.2l6.3-10l3.2-2.5l2.1-.2l2.1 .4l4.2 4l5.2 1.4l3.2-.8l2.1 0l1.1-.5l2.1-3.5M353.9 413l1-6.5l-1-4.2l-1 3.8l-.1 2.5l1 4.2zM277.9 616.4l-.1-10.6l.7-12.8l.8-4.7l2.1-5.7l3.2-2.7l4.2-5l4.2-1.6l5.2-6l1.1-.5l3.1-.4l1.1-.7l4.2-5.1l2.7-5.7l3.6-15l4.2-6.5l2.1-4.8l2.1-9.8l3.2-21.6l4.2-17.3l4.2-36.2l3.9-26.6l.9-10.6l-.4-6.4l-1.3-7.2l-1-3.9l-1.7-3.7l-1.5-1.5l-1 0l-1.1 1l-5.2 14.3l-1.1 .8l-1.1-1l-2.1-5.8l-3.3-16.3l-1.9-6.4l-1.1-1.4l-3.1-.5l-1.1-.7l-4.2-8.1l-1.8-6.2l-3.4-15.4l-4.2-9.3l-1.1-1.6l-1-.7l-2.1-7.4l-1.2-12.3l-1.5-44.5l-1.1-10.6l-1.5-8.6l-1-3.7l-5.3-10.9l-5.2-5.4l-2.1-.7l-3.2 1l-3.2 3.4l-3.1-1.6l-1.1 1.1l-3.1 6.9l-2.5 75.8l-4.2 95.4l6 212M593.6 206.8l-3.2-1.5l-5.3-1.2l-7.3-3.8l-9.5-1.2l-10.5 1l-11.5-4l-8.4-1.6l-7.4-4.3l-6.3-2.4l-6.3-5.2l-2.1-.9l-10.5-1l-5.3 2.5l-2.1 .4l-10.5-3.2l-3.1 0l-5.3 1l-8.4-1.7l-7.4 .8l-3.1-1.2l-6.3-4.6l-2.1-.5l-2.1 .7l-6.3 4.5l-3.2 .6l-2.1-.5l-7.3-4.3l-2.2 0l-5.2 1.6l-5.3-1.5l-1 1l-4.3 9.7l-8.3 16l-1.7 5.2l-.2 4.2l.9 38.2l2 31.9l3.2 20l2.6 30.8l2.4 21.2l3.4 16.9l1 1.6l2.1-2.9l5.3-9.7l1-2.8l4.3-23.9l2.1-6.7l2.1-3.3l1-3.1l2.4-17l.8-3.3l1-1.9l1.1 .6l1 3l3.2 14.2l1 1.8l1.1 .2l1-1.5l3.2-9.5l1-1.7l1.1-.1l2.1 3.4l1 .7l1.1-1.2l3.1-6.8l2.1-1.9l1.1-.1l1.7 2l2.5 6.2l1 1.3l1.1-.5l1-2.2l2.1-6.8l1.1-2l1 .3l3.2 7.3l1 .5l1.1-1.1l3.2-5.6l1 .2l2.1 1.3l1.1-.6l4.2-7.1l5.2-3.2l4.2-4.5l1.1-.4l1 .9l2.1 5.3l5.3 19.5l1 2.2l1.1 .3l1-2.4l.8-4.7l2.4-23.5l1-4.9l1.1 .2l4.2 10.1l1 1.5l1.1-.3l1-8.4l.3-19.2l.5-8.5l1.3-6.8l1.1-1.8l1-.6l1.1 .3l1 1.5l3.2 9.7l1.1 2.1l1 0l5.3-14.6l2.1-3.2l3.1-2.8l2.1-1l5.3-1l11.5-6.2l4.2-1.3l4.2-.3l9.5 1.7l5.3-.8l2.1 .1M275.5 616.4l.4-21.2l1.3-9.2l2.1-7.8l2.1-3.9l3.2-3l4.2-6.1l1-.6l3.2-.6l1-.8l5.3-7.5l3.1-3.6l2.7-5.7l2.7-8.5l4.1-18.6l5.9-19.5l2.2-10.6l1.2-14.9l.1-25.4l-.5-21.2l-1.3-21.2l-1.4-10.6l-2-9.9l-1.1-2.3l-1-.7l-3.2 .1l-4.2-8.5l-4.2-12.2l-1-2l-6.3-7.3l-1.1-2.7l-2.1-8.5l-1-6.9l-3.2-30.9l-1-5.6l-2.1-1.9l-.9-4.6l-2.3-27.2l-1-3.2l-4.2-8.5l-1.1-1.5l-3.2-2.5l-1-.1l-3.2 10.3l-3.1-8.1l-1.1 1.2l-3.1 7.7l-6.2 146.4l3.4 127.2l2.4 61.5l.4 21.2M417 343.8l1.1-.9l2-21.5l1.1-5.6l1-1.2l3.2 2.7l1-.9l2.1-6.6l3.2-16.8l2-7.4l2.6-4.2l3.8-4.1l1.1-.3l1 .6l1.1 1.7l3.1 11.1l1.1 1.1l1-.5l1.1-1.5l3.1-6.3l2.1-2.4l1.1-.1l3.1 1.5l2.1 .3l4.2-3l1.1 .6l3.1 5.3l1.1 .1l3.1-6.8l1.1-1.4l1 .8l3.2 9.7l1 .7l1.1-1.5l3.2-8.3l1-.2l2.1 2.2l1.1 .2l4.2-6.1l1-.2l2.1 .4l2.1-.8l2.1-3.1l2.1-4.8l1.1-1.1l1 .4l2.1 4.3l5.3 19.1l1 1l1.1-3.2l1.9-24.5l1.2-7.7l1.1-2.9l1-1.5l1.1-.3l2.1 .8l1-.5l1.1-3.2l2-12.2l2.2-9l1-2l2.1-1.3l5.3 .1l2.1-1l5-5.9l1.1-2.1l.2-2.2l-1.8-2.1l-6.6-3l-8.4-5.6l-9.7-10.5l-1.9-1.4l-2.1-.7l-8.4-1.4l-2.1 .4l-4.2 2l-2.1 .3l-10.5-2.9l-3.1 0l-5.3 .8l-7.4-1.6l-7.3 .7l-4.2-1.4l-5.3-3.6l-2.1-.9l-3.1 .6l-5.3 3.5l-3.1 1l-3.2-.5l-7.3-4.1l-2.2 0l-5.2 1.5l-5.3-1.3l-1 1l-7.2 14.4l-4.4 7l-1.2 3.6l-.3 4.2l.9 29.7l1 14.9l.7 6.4l2.2 6.3l1.9 10.6l3.4 44.5l.9 8.9l1.9 10.2zM267.7 612.3l1.1 1l1-2.5l6.3-30.5l3.2-10.3l2.1-3.5l3.2-3.4l4.2-7.8l4.2-3.3l1-1.6l7.4-14.3l1.5-4.5l2.4-12.8l4.9-38.1l1.8-33.9l.6-4.3l2.4-8.8l1.1-10.3l-.1-8.4l-1-9.3l-1-1.4l-1.1 1.4l-2.1 7.1l-1-2.9l-1.2-7.7l-4.2-19l-2-6.7l-2.1-3.5l-5.2-4.9l-3.2-8.9l-5.2-27.6l-1.1-1.4l-2.1-1.4l-1-2.7l-5.3-32.9l-2.1-7.2l-2.1-3.2l-2.1-4.9l-3.2 6.3l-3.1-10.2l-1.1 .4l-3.1 6.5l-5.7 125.6l3.3 125.1l2.4 57l2.3 8.7l1.9 12.1l1-.2l2.1 2.9zM425.4 292.6l1 .2l1.1-2l3.4-17.9l1.9-6.1l1-1.3l4.2-.5l5.3-3.2l1 .2l1.1 1.1l3.1 4.7l1.1 .1l1-1l3.4-6.7l1.9-2.3l1-.1l1.1 .6l3.1 3.3l1.1 0l3.1-1.8l1.1 .3l3.1 4l1.1 .5l1-.8l2.1-3.2l1.1-.8l1 .5l1 1.9l2.2 7.4l1 1.3l1.1-1.3l2.1-5.8l1.1-1.6l1-.1l2.1 1.9l1.1 .2l4.2-4.9l3.1 .1l2.1-1.1l4.2-6.5l1.1-.6l1 .2l1.1 1.1l5.2 9.1l1.1-.8l4.2-20.2l2.1-5.8l4.2-8l2-7l.9-8.5l-.2-2.1l-1.6-4.2l-3.2-5.1l-3.2-3.5l-5.2-2.4l-4.2-.9l-2.1-.1l-5.3 1.9l-2.1 .3l-10.5-2.7l-3.1-.1l-5.3 .6l-7.4-1.5l-7.3 .4l-3.2-1l-6.3-3.9l-2.1-.7l-3.1 .6l-5.3 3.1l-3.1 .9l-3.2-.5l-7.3-3.9l-2.2 0l-5.2 1.6l-2.1-.1l-3.2-1.1l-1 .9l-6 10.8l-4.4 6.4l-.8 2.1l-.4 2.1l-.1 6.4l1.2 19.9l1.3 7.6l5 16.9l4.2 19.5l1 3.2l3.2 .8l1 1.4l2.9 7zM264.6 587.6l4.2 .4l2.1-.7l2.1-5.1l4.2-15.1l2.1-5.7l5.3-8.6l4.2-11.3l4.2-7.4l6.3-14l2.3-11.9l2.4-23.3l.7-12.7l.2-23.3l-.4-40.3l-.6-6.4l-1.5-7.5l-2.1-5.4l-5.2-7.4l-7.4-27.2l-1-3l-3.2-4.3l-1-2.7l-5.3-26.9l-1-2.7l-3.2-3.3l-2.1-6.8l-1.1-1.4l-2.1-.9l-3.1-11.8l-1.1 .1l-3.1 6.1l-3.6 71.2l-1.5 40.3l2.7 110.2l1.6 44.6l.8 13.7l3.7 9.6zM425.4 268.9l1 .1l1.1-2.3l3.2-11.4l1-1.8l2.1-1.4l3.2 1l2.1 0l5.2-3.7l2.1 .1l3.2 1.2l2.1-1.4l3.1-3.6l2.1-.7l4.2 2.6l5.3-.3l4.2 2l4.2-2.4l1 .2l4.2 5.9l1.1-.5l3.2-4.1l1-.2l3.2 .9l4.2-3l4.2-1.5l6.3-6.3l2.1 .4l3.1 2.1l1.1 .1l1-.7l7.6-24.5l.6-6.4l-.4-2.1l-1.5-3l-2.1-2.2l-3.1-1.8l-5.3-1.1l-8.4 1.9l-11.5-2.4l-7.4 .4l-7.4-1.6l-7.3 .2l-3.2-1.1l-6.3-3.7l-2.1-.7l-3.1 .6l-5.3 2.6l-3.1 .9l-3.2-.6l-7.3-3.7l-2.2 0l-5.2 1.6l-2.1 0l-3.2-.9l-1 .7l-9.1 13.9l-.9 4.2l.4 8.5l1.7 10.6l7.9 31.1l1 2.8l1.1 .7l3.1 .5l3 3.1zM264.6 577.5l5.2-.7l1.1-.5l1-1.8l2.2-5.8l5.2-19.3l4.2-7.7l2.1-5.2l5.6-17.7l6-23.7l1-8.1l.4-10.6l-2.2-38.1l.5-27.6l-4.6-25.4l-4.6-17.8l-2.1-4.3l-2.1-2.6l-1.9-5l-4.4-21.8l-1-2.3l-2.1-1.3l-1.1-1.4l-3.2-9.2l-2.1-3.1l-3.1-12.3l-1.1 0l-3.1 5.2l-2.9 52.6l-1.7 46.6l2.4 103.9l1.7 46.6l.5 8.3l3.3 8.7zM419.1 251.9l2.1-.6l4.2-2.9l6.3-6.7l2.1-.5l4.2 1.3l1.1-.1l5.2-3.9l6.3-1.6l5.3-3.4l2.1 .2l4.2 1.5l8.4-.9l4.2-1.5l2.1 .5l3.1 1.7l4.3-2.5l5.2-1l7.4-2.8l7.3-5.1l5.3-2.8l1-.8l1.1-2.2l.7-4.2l.1-4.3l-.8-2.1l-4.2-1.9l-3.2-.3l-6.3 1l-10.5-2.2l-8.4 .1l-7.4-1.5l-6.3 0l-3.1-.9l-6.3-3.6l-3.2-1.1l-2.1 .1l-6.3 2.8l-3.1 .7l-3.2-.5l-7.3-3.4l-2.2 0l-5.2 1.7l-2.1 0l-3.2-.8l-1 .6l-4.2 5.1l-2.5 4.1l-.8 2.1l-.2 4.3l.5 6.3l1.2 6.4l3.1 10.6l2.9 12.2l1 2.4l.6 .2zM264.6 568.5l5.2-2.4l1.1-.8l1-2l6.4-25.2l2.1-5.1l3.1-5.5l2.1-5.9l4.3-19.7l1.9-12.7l.9-12.8l-.2-36l.4-27.6l-.8-12.7l-3.3-17.3l-2.1-5.9l-4.2-6.9l-5.3-21.3l-1-2.3l-2.1-1.7l-1.1-1.7l-3.2-10.8l-2.1-4.7l-3.1-13.3l-1.1-.2l-3.1 4.6l-2.8 47.6l-1.3 42.4l2 95.4l2 50.9l.1 2.5l3.7 10.2zM418 239.7l1.1 0l2.1-1l6.3-5.5l3.2-1.7l3.1-.3l5.3 .7l15.7-8.3l2.1-.4l5.3 .4l2.1-.5l6.3-4.2l4.2-2l4.2-1.2l1.8-2.1l-.5-2.2l-3.4-.9l-4.2-1.9l-8.4-1.6l-8.4-4.9l-3.2-1.2l-2.1 .1l-6.3 2.2l-3.1 .7l-3.2-.6l-7.3-3.4l-2.2 0l-5.2 1.7l-2.1 .1l-3.2-.7l-1 .4l-4.4 5.8l-1.2 4.2l1.3 10.6l5 17zM264.6 559.1l4.2-4.5l2.2-4l2-6.7l5.3-23.6l1-2.8l4.2-7.8l3.2-13.6l1.8-13.3l.9-10.6l1.1-59.4l-.4-8.4l-1.6-8.5l-1.8-5.4l-4.2-8.8l-1.1-3.2l-4.2-17.2l-1-2.2l-3.2-3.6l-1.1-3l-2.2-9.6l-2-5.8l-3.1-14.7l-1.1-.3l-3.1 4.4l-2.6 43.9l-1.1 38.2l1.8 89l1.9 49.6l3.1 10l1.1 1.9zM418 229.9l3.2-1l8.4-5.8l3.2-.6l6.3 .2l3.1-1.6l4-3.3l3.9-4.2l2.3-4.3l-.4-2.1l-3.5-.5l-6.3 1.1l-2.1-.2l-8.4-3.9l-2.1-.5l-6.3 1.6l-2.1 .1l-3.2-.7l-1 .5l-1.8 2.5l-1.3 4.2l.9 8.5l2.3 8.5zM264.6 548.9l3.9-6.7l2.2-6.4l2.3-11.2l5.3-32.5l1-3.4l3.2-5.2l1.3-4.9l.8-6.4l.9-12.7l1.2-44.5l-.2-8.5l-.8-4.3l-4.3-10.6l-4.2-18.4l-1-2.5l-3.2-4.5l-1.1-2.9l-4.2-17.3l-3.1-16.3l-1.1-.4l-3.1 4.5l-2.4 38.8l-.9 36l1.5 78.4l1.8 50.7l3.1 9.5l.8 1.3zM418 220.1l3.2-1.4l3.2-3l3-4.3l.2-2.1l-5.4-.1l-4.2-1l-1 .8l-.5 4.6l.5 3.9l.9 2.4zM264.6 539.1l3.8-9.7l2.1-10.6l8.4-74.2l2-23.3l.3-10.6l-.3-6.3l-1.6-8.5l-3.1-12.6l-3.2-6.4l-1.1-3.3l-7.3-37.1l-1.1-.5l-3.1 4.8l-2.1 33.9l-.9 31.8l1.3 69.9l1.7 52l3.3 9.5zM263.5 528.2l1.1 1.2l2.1-6.1l1.6-6.6l1.3-8.5l2.9-38.1l2-40.3l2.6-12.7l.7-8.5l-1.1-8.5l-3.1-8.5l-1.7-6.5l-2.3-16.8l-5-25.1l-1.1-.6l-3.1 5l-1.9 29.2l-.8 29.7l1 57.2l1.7 55.2l2.8 8.4zM264.6 519.5l3.1-12.6l1.9-15.6l1-19.1l.6-42.4l.7-8.7l1.7-10.4l-4.1-36l-4.9-25.3l-1.1-.6l-3.1 4.6l-1.6 23.4l-.8 29.7l.8 48.7l1.6 53.6l3.5 10zM263.5 508.3l1.1 .8l1.7-7.2l1.4-7.5l1.1-10.4l1-18.2l.7-38.1l.8-17l-2-29.7l-4.7-26.2l-1.1-.6l-3.1 4.5l-1.3 20.2l-.8 27.6l.6 42.4l1.5 49.5l3.1 9.8zM263.5 497.8l1.1 .6l.2-.8l2.4-12.7l.9-8.5l1-19l1.3-46.7l-.4-10.6l-1.4-16.9l-4-23.5l-1.1-.6l-3.1 4.6l-1.1 17.3l-.8 25.5l1.9 81.3l3.1 9.8zM263.5 487.1l1.1 .4l3.1-21l1.9-55.8l-.3-10.6l-1.4-14.8l-3.3-20.8l-1.1-.7l-3.1 4.9l-1.6 37.8l1.6 70.4l3.1 10.1zM264.6 476.5l3.1-25.6l1.2-42.3l-.5-10.6l-1.8-17l-2-11.8l-1.1-.7l-3.1 5.3l-1.3 36.9l1.3 55.1l3.1 10.5l.7 .1zM263.5 465.7l1.1 0l2.1-17.7l1-16.1l.5-19.1l-.6-14.8l-3-24l-1.1-.7l-3.1 6l-1 25.1l1 50.2l2.5 9.1zM263.5 455.3l1.1-.2l1.2-10.5l1.6-31.8l-.4-12.7l-2.4-20.9l-1.1-.8l-3.1 7.3l-.7 18.7l.7 38.6l3.1 12.2zM263.5 444.8l1.1-.4l.4-4l1.6-27.6l-.2-10.6l-1.8-17.1l-1.1-.9l-3.1 8.8l-.4 11.4l.4 25.9l3.1 14.3zM263.5 433.6l1.1-.7l1.3-20.1l-.1-8.4l-1.2-12.5l-1.1-1l-3.1 10.1l0 17.4l2.8 13.5zM263.5 422.5l1.1-1l.4-6.5l.1-8.5l-.5-7.6l-1.1-1.2l-1.8 8.8l.1 6.3l1.5 8.5z" fill="none" stroke="#000" stroke-width="0.8"/>
<path d="M259.9 113.4V602.0" stroke="#ea1a1a" stroke-width="2.0" stroke-dasharray="7 3.2" fill="none"/>
<path d="M330.4 113.4V602.0" stroke="#ea1a1a" stroke-width="2.0" stroke-dasharray="7 3.2" fill="none"/>
<path d="M396.9 113.4V602.0" stroke="#ea1a1a" stroke-width="2.0" stroke-dasharray="7 3.2" fill="none"/>
<path d="M62.8 211.9H588.3" stroke="#f7b500" stroke-width="1.9" stroke-dasharray="7 3.2" fill="none"/>
<path d="M62.8 406.9H588.3" stroke="#f7b500" stroke-width="1.9" stroke-dasharray="7 3.2" fill="none"/>
</g>
<text x="64" y="233" style="font-family:'Liberation Sans',sans-serif;font-size:21.50px" fill="#f7b500" text-anchor="start" textLength="36.5" lengthAdjust="spacingAndGlyphs"><tspan font-style="italic">Ch</tspan>5</text>
<text x="64" y="428.2" style="font-family:'Liberation Sans',sans-serif;font-size:21.50px" fill="#f7b500" text-anchor="start" textLength="49.5" lengthAdjust="spacingAndGlyphs"><tspan font-style="italic">Ch</tspan>11</text>
<text x="69.4" y="136.3" style="font-family:'Liberation Sans',sans-serif;font-size:20.75px" fill="#fff" text-anchor="start" textLength="26.8" lengthAdjust="spacingAndGlyphs">(<tspan font-style="italic">b</tspan>)</text>
<path d="M62.8 602v-7M62.8 113.4v7M150.4 602v-7M150.4 113.4v7M238 602v-7M238 113.4v7M325.6 602v-7M325.6 113.4v7M413.1 602v-7M413.1 113.4v7M500.7 602v-7M500.7 113.4v7M588.3 602v-7M588.3 113.4v7" stroke="#000" stroke-width="1.30" fill="none"/>
<path d="M80.3 602v-4M80.3 113.4v4M97.8 602v-4M97.8 113.4v4M115.3 602v-4M115.3 113.4v4M132.9 602v-4M132.9 113.4v4M167.9 602v-4M167.9 113.4v4M185.4 602v-4M185.4 113.4v4M202.9 602v-4M202.9 113.4v4M220.4 602v-4M220.4 113.4v4M255.5 602v-4M255.5 113.4v4M273 602v-4M273 113.4v4M290.5 602v-4M290.5 113.4v4M308 602v-4M308 113.4v4M343.1 602v-4M343.1 113.4v4M360.6 602v-4M360.6 113.4v4M378.1 602v-4M378.1 113.4v4M395.6 602v-4M395.6 113.4v4M430.7 602v-4M430.7 113.4v4M448.2 602v-4M448.2 113.4v4M465.7 602v-4M465.7 113.4v4M483.2 602v-4M483.2 113.4v4M518.2 602v-4M518.2 113.4v4M535.8 602v-4M535.8 113.4v4M553.3 602v-4M553.3 113.4v4M570.8 602v-4M570.8 113.4v4" stroke="#000" stroke-width="1.00" fill="none"/>
<path d="M62.8 578.2h7M588.3 578.2h-7M62.8 493.4h7M588.3 493.4h-7M62.8 408.6h7M588.3 408.6h-7M62.8 323.8h7M588.3 323.8h-7M62.8 239h7M588.3 239h-7M62.8 154.2h7M588.3 154.2h-7" stroke="#000" stroke-width="1.30" fill="none"/>
<path d="M62.8 599.4h4M588.3 599.4h-4M62.8 557h4M588.3 557h-4M62.8 535.8h4M588.3 535.8h-4M62.8 514.6h4M588.3 514.6h-4M62.8 472.2h4M588.3 472.2h-4M62.8 451h4M588.3 451h-4M62.8 429.8h4M588.3 429.8h-4M62.8 387.4h4M588.3 387.4h-4M62.8 366.2h4M588.3 366.2h-4M62.8 345h4M588.3 345h-4M62.8 302.6h4M588.3 302.6h-4M62.8 281.4h4M588.3 281.4h-4M62.8 260.2h4M588.3 260.2h-4M62.8 217.8h4M588.3 217.8h-4M62.8 196.6h4M588.3 196.6h-4M62.8 175.4h4M588.3 175.4h-4M62.8 133h4M588.3 133h-4" stroke="#000" stroke-width="1.00" fill="none"/>
<rect x="62.80" y="113.40" width="525.50" height="488.60" fill="none" stroke="#000" stroke-width="1.40"/>
<text x="57.4" y="583.8" style="font-family:'Liberation Sans',sans-serif;font-size:15.80px" fill="#000" text-anchor="end" textLength="32.6" lengthAdjust="spacingAndGlyphs" >1.36</text>
<text x="57.4" y="499" style="font-family:'Liberation Sans',sans-serif;font-size:15.80px" fill="#000" text-anchor="end" textLength="32.6" lengthAdjust="spacingAndGlyphs" >1.38</text>
<text x="57.4" y="414.2" style="font-family:'Liberation Sans',sans-serif;font-size:15.80px" fill="#000" text-anchor="end" textLength="32.6" lengthAdjust="spacingAndGlyphs" >1.40</text>
<text x="57.4" y="329.4" style="font-family:'Liberation Sans',sans-serif;font-size:15.80px" fill="#000" text-anchor="end" textLength="32.6" lengthAdjust="spacingAndGlyphs" >1.42</text>
<text x="57.4" y="244.6" style="font-family:'Liberation Sans',sans-serif;font-size:15.80px" fill="#000" text-anchor="end" textLength="32.6" lengthAdjust="spacingAndGlyphs" >1.44</text>
<text x="57.4" y="159.8" style="font-family:'Liberation Sans',sans-serif;font-size:15.80px" fill="#000" text-anchor="end" textLength="32.6" lengthAdjust="spacingAndGlyphs" >1.46</text>
<text x="62.8" y="617.9" style="font-family:'Liberation Sans',sans-serif;font-size:15.80px" fill="#000" text-anchor="middle" textLength="28.8" lengthAdjust="spacingAndGlyphs" >220</text>
<text x="150.4" y="617.9" style="font-family:'Liberation Sans',sans-serif;font-size:15.80px" fill="#000" text-anchor="middle" textLength="28.8" lengthAdjust="spacingAndGlyphs" >230</text>
<text x="238" y="617.9" style="font-family:'Liberation Sans',sans-serif;font-size:15.80px" fill="#000" text-anchor="middle" textLength="28.8" lengthAdjust="spacingAndGlyphs" >240</text>
<text x="325.6" y="617.9" style="font-family:'Liberation Sans',sans-serif;font-size:15.80px" fill="#000" text-anchor="middle" textLength="28.8" lengthAdjust="spacingAndGlyphs" >250</text>
<text x="413.1" y="617.9" style="font-family:'Liberation Sans',sans-serif;font-size:15.80px" fill="#000" text-anchor="middle" textLength="28.8" lengthAdjust="spacingAndGlyphs" >260</text>
<text x="500.7" y="617.9" style="font-family:'Liberation Sans',sans-serif;font-size:15.80px" fill="#000" text-anchor="middle" textLength="28.8" lengthAdjust="spacingAndGlyphs" >270</text>
<text x="588.3" y="617.9" style="font-family:'Liberation Sans',sans-serif;font-size:15.80px" fill="#000" text-anchor="middle" textLength="28.8" lengthAdjust="spacingAndGlyphs" >280</text>
<text x="289" y="638" style="font-family:'Liberation Sans',sans-serif;font-size:15.80px" fill="#000" text-anchor="start" textLength="72.5" lengthAdjust="spacingAndGlyphs"><tspan font-style="italic">Time</tspan>(ms)</text>
<text x="15.3" y="377.8" style="font-family:'Liberation Sans',sans-serif;font-size:15.80px" fill="#000" text-anchor="start" textLength="37.0" lengthAdjust="spacingAndGlyphs" transform="rotate(-90 15.3 377.8)"><tspan font-style="italic">R</tspan>(m)</text>
<g clip-path="url(#ca)"><path d="M62.8 73.9 64.8 73.9 66.9 73.9 68.9 73.8 70.9 73.8 72.9 73.7 75.0 73.6 77.0 73.4 79.0 73.2 81.1 72.9 83.1 72.6 85.1 72.3 87.1 71.9 89.2 71.6 91.2 71.2 93.2 70.7 95.3 70.3 97.3 69.9 99.3 69.6 101.4 69.4 103.4 69.1 105.4 68.9 107.4 68.8 109.5 68.6 111.5 68.4 113.5 68.3 115.6 68.2 117.6 68.2 119.6 68.2 121.6 68.2 123.7 68.2 125.7 68.2 127.7 68.2 129.8 68.2 131.8 68.3 133.8 68.3 135.8 68.4 137.9 68.4 139.9 68.4 141.9 68.3 144.0 68.3 146.0 68.2 148.0 68.1 150.0 68.0 152.1 67.9 154.1 67.8 156.1 67.6 158.2 67.5 160.2 67.3 162.2 67.2 164.2 67.0 166.3 66.8 168.3 66.5 170.3 66.2 172.4 65.9 174.4 65.7 176.4 65.5 178.5 65.2 180.5 65.0 182.5 64.8 184.5 64.7 186.6 64.7 188.6 64.9 190.6 65.1 192.7 65.3 194.7 65.6 196.7 66.2 198.7 66.8 200.8 67.4 202.8 68.0 204.8 68.6 206.9 69.3 208.9 69.9 210.9 70.6 212.9 71.3 215.0 72.0 217.0 72.7 219.0 73.4 221.1 74.0 223.1 74.6 225.1 75.3 227.1 75.9 229.2 76.4 231.2 76.9 233.2 77.2 235.3 77.5 237.3 77.8 239.3 78.1 241.3 78.4 243.4 78.8 245.4 79.1 247.4 79.4 249.5 79.8 251.5 80.2 253.5 80.8 255.6 81.6 257.6 82.4 259.6 83.1 261.6 83.9 263.7 84.8 265.7 85.6 267.7 86.2 269.8 86.8 271.8 87.3 273.8 87.7 275.8 88.0 277.9 88.2 279.9 88.3 281.9 88.4 284.0 88.3 286.0 88.2 288.0 88.1 290.0 87.9 292.1 87.8 294.1 87.8 296.1 87.7 298.2 87.7 300.2 87.7 302.2 87.7 304.2 87.6 306.3 87.6 308.3 87.5 310.3 87.4 312.4 87.2 314.4 87.0 316.4 86.8 318.4 86.6 320.5 86.4 322.5 86.1 324.5 85.8 326.6 85.5 328.6 85.2 330.6 84.8 332.7 84.5 334.7 84.1 336.7 83.7 338.7 83.3 340.8 82.8 342.8 82.3 344.8 81.8 346.9 81.2 348.9 80.6 350.9 79.9 352.9 79.3 355.0 78.6 357.0 77.9 359.0 77.1 361.1 76.2 363.1 75.2 365.1 74.1 367.1 72.8 369.2 71.5 371.2 70.1 373.2 68.7 375.3 67.2 377.3 65.6 379.3 64.0 381.3 62.4 383.4 60.8 385.4 59.3 387.4 57.7 389.5 55.9 391.5 54.0 393.5 52.0 395.5 49.8 397.6 47.3 399.6 44.7 401.6 42.1 403.7 39.5 405.7 37.0 407.7 34.6 409.8 32.4 411.8 30.2 413.8 28.4 415.8 27.0 417.9 25.7 419.9 24.9 421.9 24.4 424.0 24.0 426.0 23.8 428.0 23.8 430.0 23.9 432.1 24.1 434.1 24.6 436.1 25.3 438.2 26.1 440.2 26.8 442.2 27.6 444.2 28.4 446.3 29.1 448.3 29.9 450.3 30.7 452.4 31.5 454.4 32.2 456.4 32.9 458.4 33.6 460.5 34.2 462.5 34.8 464.5 35.3 466.6 35.7 468.6 36.1 470.6 36.4 472.6 36.6 474.7 36.9 476.7 37.2 478.7 37.4 480.8 37.7 482.8 37.9 484.8 38.2 486.9 38.4 488.9 38.7 490.9 38.9 492.9 39.3 495.0 39.7 497.0 40.2 499.0 41.0 501.1 42.0 503.1 43.1 505.1 44.4 507.1 45.6 509.2 47.0 511.2 48.5 513.2 50.1 515.3 51.7 517.3 53.2 519.3 54.6 521.3 55.9 523.4 57.2 525.4 58.5 527.4 59.8 529.5 60.9 531.5 61.9 533.5 62.9 535.5 63.8 537.6 64.7 539.6 65.5 541.6 66.3 543.7 67.0 545.7 67.7 547.7 68.5 549.7 69.2 551.8 69.9 553.8 70.5 555.8 71.1 557.9 71.5 559.9 71.9 561.9 72.3 564.0 72.7 566.0 73.0 568.0 73.3 570.0 73.5 572.1 73.7 574.1 74.0 576.1 74.2 578.2 74.3 580.2 74.5 582.2 74.7 584.2 74.8 586.3 74.9 588.3 75.0" fill="none" stroke="#1c63ae" stroke-width="1.8" stroke-linejoin="round"/>
<path d="M259.9 20.3V95.4" stroke="#ea1a1a" stroke-width="2.0" stroke-dasharray="7 3.2" fill="none"/>
<path d="M330.4 20.3V95.4" stroke="#ea1a1a" stroke-width="2.0" stroke-dasharray="7 3.2" fill="none"/>
<path d="M396.9 20.3V95.4" stroke="#ea1a1a" stroke-width="2.0" stroke-dasharray="7 3.2" fill="none"/>
</g>
<path d="M62.8 95.4v-7M62.8 20.3v7M150.4 95.4v-7M150.4 20.3v7M238 95.4v-7M238 20.3v7M325.6 95.4v-7M325.6 20.3v7M413.1 95.4v-7M413.1 20.3v7M500.7 95.4v-7M500.7 20.3v7M588.3 95.4v-7M588.3 20.3v7" stroke="#000" stroke-width="1.30" fill="none"/>
<path d="M80.3 95.4v-4M80.3 20.3v4M97.8 95.4v-4M97.8 20.3v4M115.3 95.4v-4M115.3 20.3v4M132.9 95.4v-4M132.9 20.3v4M167.9 95.4v-4M167.9 20.3v4M185.4 95.4v-4M185.4 20.3v4M202.9 95.4v-4M202.9 20.3v4M220.4 95.4v-4M220.4 20.3v4M255.5 95.4v-4M255.5 20.3v4M273 95.4v-4M273 20.3v4M290.5 95.4v-4M290.5 20.3v4M308 95.4v-4M308 20.3v4M343.1 95.4v-4M343.1 20.3v4M360.6 95.4v-4M360.6 20.3v4M378.1 95.4v-4M378.1 20.3v4M395.6 95.4v-4M395.6 20.3v4M430.7 95.4v-4M430.7 20.3v4M448.2 95.4v-4M448.2 20.3v4M465.7 95.4v-4M465.7 20.3v4M483.2 95.4v-4M483.2 20.3v4M518.2 95.4v-4M518.2 20.3v4M535.8 95.4v-4M535.8 20.3v4M553.3 95.4v-4M553.3 20.3v4M570.8 95.4v-4M570.8 20.3v4" stroke="#000" stroke-width="1.00" fill="none"/>
<path d="M62.8 89.9h7M588.3 89.9h-7M62.8 63.2h7M588.3 63.2h-7M62.8 36.6h7M588.3 36.6h-7" stroke="#000" stroke-width="1.30" fill="none"/>
<path d="M62.8 95.2h4M588.3 95.2h-4M62.8 84.6h4M588.3 84.6h-4M62.8 79.2h4M588.3 79.2h-4M62.8 73.9h4M588.3 73.9h-4M62.8 68.6h4M588.3 68.6h-4M62.8 57.9h4M588.3 57.9h-4M62.8 52.6h4M588.3 52.6h-4M62.8 47.3h4M588.3 47.3h-4M62.8 41.9h4M588.3 41.9h-4M62.8 31.3h4M588.3 31.3h-4M62.8 25.9h4M588.3 25.9h-4M62.8 20.6h4M588.3 20.6h-4" stroke="#000" stroke-width="1.00" fill="none"/>
<rect x="62.80" y="20.30" width="525.50" height="75.10" fill="none" stroke="#000" stroke-width="1.40"/>
<text x="57.4" y="95.4" style="font-family:'Liberation Sans',sans-serif;font-size:15.60px" fill="#000" text-anchor="end" textLength="22.8" lengthAdjust="spacingAndGlyphs" >0.5</text>
<text x="57.4" y="68.8" style="font-family:'Liberation Sans',sans-serif;font-size:15.60px" fill="#000" text-anchor="end" textLength="22.8" lengthAdjust="spacingAndGlyphs" >1.0</text>
<text x="57.4" y="42.1" style="font-family:'Liberation Sans',sans-serif;font-size:15.60px" fill="#000" text-anchor="end" textLength="22.8" lengthAdjust="spacingAndGlyphs" >1.5</text>
<text x="69.8" y="37.2" style="font-family:'Liberation Sans',sans-serif;font-size:20.75px" fill="#000" text-anchor="start" textLength="26.6" lengthAdjust="spacingAndGlyphs">(<tspan font-style="italic">a</tspan>)</text>
<text x="586.9" y="12.7" style="font-family:'Liberation Sans',sans-serif;font-size:13.60px" fill="#000" text-anchor="end" textLength="55.5" lengthAdjust="spacingAndGlyphs" >#85214</text>
<text x="282.6" y="51" style="font-family:'Liberation Sans',sans-serif;font-size:20.00px" fill="#e8141c" text-anchor="start" textLength="18.5" lengthAdjust="spacingAndGlyphs" >(i)</text>
<text x="352.9" y="51" style="font-family:'Liberation Sans',sans-serif;font-size:20.00px" fill="#e8141c" text-anchor="start" textLength="24.2" lengthAdjust="spacingAndGlyphs" >(ii)</text>
<text x="414.2" y="51" style="font-family:'Liberation Sans',sans-serif;font-size:20.00px" fill="#e8141c" text-anchor="start" textLength="29.1" lengthAdjust="spacingAndGlyphs" >(iii)</text>
<text x="466.8" y="63.5" style="font-family:'Liberation Sans',sans-serif;font-size:15.80px" fill="#1c63ae" text-anchor="start" textLength="49.5" lengthAdjust="spacingAndGlyphs"><tspan font-style="italic">Wp</tspan>(kJ)</text>
<g clip-path="url(#cc)"><path d="M618.4 113.4 618.4 163.5 619.7 163.5 619.7 179.2 621.3 179.2 621.3 198.3 623.1 200.0 623.7 204.4 624.2 211.0 625.9 212.0 627.0 216.4 629.2 219.2 633.0 220.2 679.0 220.3 679.0 221.0 660.4 221.4 656.0 222.4 652.7 224.1 649.4 227.4 646.7 231.2 645.0 232.8 643.4 237.2 642.3 238.3 641.2 243.8 639.6 245.4 639.0 252.6 637.4 257.5 636.3 258.0 636.1 267.9 635.2 271.2 633.7 274.5 633.3 280.0 632.5 298.5 630.5 299.3 630.3 321.0 629.2 330.8 627.7 331.5 626.5 342.8 625.0 343.5 624.3 363.0 622.8 375.8 622.3 376.0 622.3 420.0 621.7 420.8 621.7 435.8 619.7 436.7 619.7 500.8 618.3 502.5 618.3 509.2 620.8 510.0 620.8 515.8 618.7 517.5 618.7 533.3 620.0 535.0 620.0 578.3 629.2 578.6 629.2 579.8 620.0 580.0 618.8 580.8 618.8 585.8 616.7 586.7 616.7 591.7 618.7 593.3 619.2 602.0" fill="none" stroke="#ff9a0a" stroke-width="1.8" stroke-linejoin="miter"/></g>
<path d="M609.6 602v-7M609.6 113.4v7M660.8 602v-7M660.8 113.4v7" stroke="#000" stroke-width="1.30" fill="none"/>
<path d="M619.8 602v-4M619.8 113.4v4M630.1 602v-4M630.1 113.4v4M640.3 602v-4M640.3 113.4v4M650.6 602v-4M650.6 113.4v4M671 602v-4M671 113.4v4M681.3 602v-4M681.3 113.4v4" stroke="#000" stroke-width="1.00" fill="none"/>
<path d="M607.1 578.2h7M682 578.2h-7M607.1 493.4h7M682 493.4h-7M607.1 408.6h7M682 408.6h-7M607.1 323.8h7M682 323.8h-7M607.1 239h7M682 239h-7M607.1 154.2h7M682 154.2h-7" stroke="#000" stroke-width="1.30" fill="none"/>
<path d="M607.1 599.4h4M682 599.4h-4M607.1 557h4M682 557h-4M607.1 535.8h4M682 535.8h-4M607.1 514.6h4M682 514.6h-4M607.1 472.2h4M682 472.2h-4M607.1 451h4M682 451h-4M607.1 429.8h4M682 429.8h-4M607.1 387.4h4M682 387.4h-4M607.1 366.2h4M682 366.2h-4M607.1 345h4M682 345h-4M607.1 302.6h4M682 302.6h-4M607.1 281.4h4M682 281.4h-4M607.1 260.2h4M682 260.2h-4M607.1 217.8h4M682 217.8h-4M607.1 196.6h4M682 196.6h-4M607.1 175.4h4M682 175.4h-4M607.1 133h4M682 133h-4" stroke="#000" stroke-width="1.00" fill="none"/>
<rect x="607.10" y="113.40" width="74.90" height="488.60" fill="none" stroke="#000" stroke-width="1.40"/>
<text x="608.6" y="617.9" style="font-family:'Liberation Sans',sans-serif;font-size:15.80px" fill="#000" text-anchor="middle" >0</text>
<text x="660.8" y="617.9" style="font-family:'Liberation Sans',sans-serif;font-size:15.80px" fill="#000" text-anchor="middle" textLength="28.8" lengthAdjust="spacingAndGlyphs" >100</text>
<text x="622.5" y="638" style="font-family:'Liberation Sans',sans-serif;font-size:15.80px" fill="#000" text-anchor="start" textLength="46.0" lengthAdjust="spacingAndGlyphs"><tspan font-style="italic">Lc</tspan>(m)</text>
<text x="651.6" y="136.4" style="font-family:'Liberation Sans',sans-serif;font-size:20.75px" fill="#000" text-anchor="start" textLength="25.8" lengthAdjust="spacingAndGlyphs">(<tspan font-style="italic">c</tspan>)</text>
<rect x="62.60" y="654.4" width="17.56" height="37.2" fill="#46075a"/>
<rect x="79.56" y="654.4" width="17.56" height="37.2" fill="#471365"/>
<rect x="96.52" y="654.4" width="17.56" height="37.2" fill="#481d6f"/>
<rect x="113.47" y="654.4" width="17.56" height="37.2" fill="#482878"/>
<rect x="130.43" y="654.4" width="17.56" height="37.2" fill="#46337f"/>
<rect x="147.39" y="654.4" width="17.56" height="37.2" fill="#433d84"/>
<rect x="164.35" y="654.4" width="17.56" height="37.2" fill="#404688"/>
<rect x="181.31" y="654.4" width="17.56" height="37.2" fill="#3c4f8a"/>
<rect x="198.26" y="654.4" width="17.56" height="37.2" fill="#38598c"/>
<rect x="215.22" y="654.4" width="17.56" height="37.2" fill="#34618d"/>
<rect x="232.18" y="654.4" width="17.56" height="37.2" fill="#30698e"/>
<rect x="249.14" y="654.4" width="17.56" height="37.2" fill="#2d718e"/>
<rect x="266.10" y="654.4" width="17.56" height="37.2" fill="#29798e"/>
<rect x="283.05" y="654.4" width="17.56" height="37.2" fill="#26818e"/>
<rect x="300.01" y="654.4" width="17.56" height="37.2" fill="#23888e"/>
<rect x="316.97" y="654.4" width="17.56" height="37.2" fill="#21918c"/>
<rect x="333.93" y="654.4" width="17.56" height="37.2" fill="#1f988b"/>
<rect x="350.89" y="654.4" width="17.56" height="37.2" fill="#1fa088"/>
<rect x="367.85" y="654.4" width="17.56" height="37.2" fill="#22a785"/>
<rect x="384.80" y="654.4" width="17.56" height="37.2" fill="#29af7f"/>
<rect x="401.76" y="654.4" width="17.56" height="37.2" fill="#34b679"/>
<rect x="418.72" y="654.4" width="17.56" height="37.2" fill="#40bd72"/>
<rect x="435.68" y="654.4" width="17.56" height="37.2" fill="#50c46a"/>
<rect x="452.64" y="654.4" width="17.56" height="37.2" fill="#63cb5f"/>
<rect x="469.59" y="654.4" width="17.56" height="37.2" fill="#75d054"/>
<rect x="486.55" y="654.4" width="17.56" height="37.2" fill="#89d548"/>
<rect x="503.51" y="654.4" width="17.56" height="37.2" fill="#9dd93b"/>
<rect x="520.47" y="654.4" width="17.56" height="37.2" fill="#b5de2b"/>
<rect x="537.43" y="654.4" width="17.56" height="37.2" fill="#cae11f"/>
<rect x="554.38" y="654.4" width="17.56" height="37.2" fill="#dfe318"/>
<rect x="571.34" y="654.4" width="17.56" height="37.2" fill="#f4e61e"/>
<rect x="62.60" y="654.40" width="525.70" height="37.20" fill="none" stroke="#000" stroke-width="1.40"/>
<path d="M232.2 691.6v-6.5M401.8 691.6v-6.5M571.3 691.6v-6.5" stroke="#000" stroke-width="1.20" fill="none"/>
<text x="63" y="707.6" style="font-family:'Liberation Sans',sans-serif;font-size:15.20px" fill="#000" text-anchor="middle" >0</text>
<text x="232.2" y="707.6" style="font-family:'Liberation Sans',sans-serif;font-size:15.20px" fill="#000" text-anchor="middle" textLength="32.0" lengthAdjust="spacingAndGlyphs" >0.05</text>
<text x="401.8" y="707.6" style="font-family:'Liberation Sans',sans-serif;font-size:15.20px" fill="#000" text-anchor="middle" textLength="32.0" lengthAdjust="spacingAndGlyphs" >0.10</text>
<text x="541.8" y="707.6" style="font-family:'Liberation Sans',sans-serif;font-size:15.20px" fill="#000" text-anchor="start" textLength="60.5" lengthAdjust="spacingAndGlyphs" >0.15 (A)</text>
<clipPath id="cd"><rect x="76.9" y="751.2" width="506.9" height="405.6"/></clipPath>
<g clip-path="url(#cd)">
<path d="M197.4 769.7l7.8-0.5l10.3 0.3l10.4 0.9l12.8 1.7l28.2 4.2l30.9 4.2l15.3 2.4l22.9 4.5l17.7 4.3l12.4 3.7l9.8 3.4l12 4.9l9.4 4.5l9.1 5l8.8 5.6l10.5 7.5l10.1 8.1l21.9 18.3l13.6 12l9.3 9.1l40.2 40.5l10.5 11.4l9.9 12l4.5 6.4l2.8 4.3l2.6 4.6l2.3 4.6l2 4.8l1.6 5l1.2 5l0.8 5.1l0.5 7.8l-0.1 5.2l-0.5 5.2l-1 5.1l-1.6 4.9l-2 4.8l-6.1 11.5l-8.3 13.2l-4.5 6.3l-3.3 4.1l-6.9 7.6l-9.4 9l-13.6 12.1l-12.2 9.7l-8.5 5.9l-8.7 5.5l-29.4 16.8l-9.1 4.8l-7 3.4l-7.2 3l-9.8 3.5l-7.4 2.2l-10.2 2.3l-10.2 1.9l-12.8 1.8l-15.5 1.5l-13 0.7l-12.9 0.2l-10.4-0.4l-12.9-1.1l-12.9-1.7l-12.8-2.2l-12.7-2.8l-17.5-4.5l-17.5-5.1l-12.4-3.9l-12.1-4.6l-9.5-4.2l-9.1-4.9l-8.8-5.6l-10.4-7.8l-7.9-6.8l-9.3-9l-7-7.7l-8.3-9.9l-6.3-8.4l-5.6-8.6l-3.9-6.8l-4.5-9.4l-3.9-9.6l-4-12.4l-3.3-12.5l-2.1-10.2l-1.7-12.9l-0.7-10.3l0-10.4l0.7-10.3l1.8-15.5l2.9-17.9l3.6-17.8l3.9-15.1l4.1-12.3l3.9-9.6l5.7-11.7l7.5-13.6l7-10.9l6.2-8.3l5.1-5.9l3.6-3.8l7.8-6.9l4.1-3.1l4.4-2.9l6.9-3.6l4.8-1.9l5-1.5z" fill="none" stroke="#000" stroke-width="1.6"/>
<path d="M333.7 983.5l1-0.5l0.9-1l0.5-2.5l-0.8-3l-1.8-2.5l-2.9-2.5l-3.1-1.5l-3-0.3l-1.5 0.4l-1 0.6l-1.1 1.8l0 2l0.8 2.5l1.8 2.5l2.5 2.2l2.5 1.4l3 0.7zM337.3 990.0l2.2-1l1.5-1.5l1-2l0.3-2.5l-0.3-2.5l-1-3l-1.7-3l-2.3-2.9l-2.5-2.4l-3-2.2l-3-1.6l-3-1.2l-3-0.6l-3 0.1l-2.5 0.7l-1.8 1.1l-1.2 1.5l-0.6 1.5l-0.3 2l0.2 2.5l1.7 4.5l3.3 4.5l4.5 4l5.2 2.9l5 1.3l2.5 0.1zM340.5 996.5l3-1l2.5-2l1.7-3l0.5-3.5l-0.4-4l-1.5-4.5l-2.5-4.5l-3.1-4l-3.7-3.6l-4.5-3.4l-4.5-2.5l-5-2l-4.5-0.9l-4 0l-3.7 0.9l-2.8 1.8l-1.5 1.9l-1 2.3l-0.4 3l0.3 3l0.8 3l1.6 3.5l2.2 3.5l2.4 3l3.1 3.1l3.5 2.9l3.5 2.3l4 2.2l4 1.5l3.5 0.9l3.5 0.3zM346.2 1003.5l3.8-1.5l1.8-1.5l1.2-1.5l1.6-4l0.3-5l-1.1-5.5l-2.4-6l-3.6-6l-4.3-5.3l-5.5-5.2l-6-4.3l-6-3.3l-6.5-2.5l-6-1.3l-5.5 0l-4.5 1.2l-3.5 2.2l-2 2.6l-1.2 3.4l-0.3 4l0.5 4l1.4 5l2.1 4.5l2.9 4.5l3.4 4l4.2 4l5.1 4l5.4 3.4l5.5 2.8l5.5 2l5 1.3l4.5 0.4zM352.1 1012.0l2.9-0.8l2.5-1.2l1.8-1.5l1.6-2l1.2-2.5l0.7-2.5l0.2-3l-0.2-3.5l-1.6-7.5l-3.4-8l-4.8-7.8l-6-7.3l-7-6.6l-8-5.9l-8-4.5l-8-3.3l-7.5-1.6l-7 0l-3 0.5l-3.2 1l-2.8 1.5l-1.9 1.5l-2.2 3l-1.3 4l-0.2 5l1 6l1.9 6.5l3 6.5l3.4 5.5l4.2 5l5.3 5l6.7 5l7.1 4.5l7 3.5l7.5 3l7 1.9l6 0.9zM354.8 1020.5l3.7-0.5l3.5-1.1l3.5-1.8l2.5-2.1l1.8-2.5l1.1-2.5l0.7-3.5l0-3.5l-0.6-4.5l-1.2-5l-1.8-5l-2.4-5.5l-3-5.5l-3.3-5l-7.6-9.5l-8.7-8.5l-9.5-7.5l-10-6.2l-8.5-3.7l-4.5-1.3l-5-0.9l-5-0.4l-5 0.1l-4.5 0.6l-4 1l-3 1.3l-2.8 2l-1.3 1.5l-1.3 2l-1.3 4.5l-0.1 5.5l1.2 6.5l2.8 9l3.8 9l3.9 7l4.6 6l5.5 5.2l7.5 5.8l8.5 5.4l8.5 4.6l9.5 4.2l8.5 2.9l7 1.6zM361.0 1028.0l4.5-1.1l4.5-1.7l3.8-2.2l3-2.5l2-2.5l1.4-3l0.7-3.5l0-3.5l-0.9-5l-1.6-5.5l-2.6-6.5l-3.1-6.5l-3.7-6.5l-4-6l-4.6-6l-4.7-5.5l-10.2-10l-11.5-9.4l-10-6.6l-4.5-2.3l-4.5-1.9l-5.5-1.6l-6.5-1.3l-7-0.7l-7-0.3l-5.5 0.4l-4.5 0.8l-3.7 1.4l-2.9 2l-1.9 2l-1.3 2l-1.1 2.5l-0.7 3l-0.4 6l1.1 6.5l3.8 11.5l6 14l4.9 9l4.9 6.5l6.5 6l9.8 7l11.5 6.9l12 6l11 4.7l8.5 2.8l7 1zM362.4 1036.0l5.6-1.2l6-1.9l5.5-2.5l4.5-2.9l3.4-3l2.1-2.8l1.3-3.2l0.5-3.5l-0.4-4.5l-1.5-5.5l-2.6-6.5l-3.6-7.5l-4.1-7.5l-4.4-7l-5-7l-5.6-7l-11.2-12l-13.9-12.5l-11-8.4l-4.5-2.7l-5-2.4l-7-2.4l-8.5-2.1l-10.5-1.8l-10-1l-6-0.2l-4.5 0.6l-4 1.3l-3 2l-2.1 2.1l-1.9 2.8l-1.5 3.2l-1.3 4l-0.8 4l-0.4 4l0 3.5l0.6 4l1.2 4.5l2 5.5l9.4 20.5l5.9 11.5l4.9 7l3 3.1l4 3.4l10.9 7.5l14.6 8.4l17 8.5l10.5 4.7l7.5 2.5l6.5 0.9zM360.6 1043.5l6.9-1.2l7.5-2l7-2.6l6.5-3.2l5-3.2l3.8-3.3l2.5-3.5l1.2-3.5l0.3-3.5l-0.8-4.5l-1.7-5l-2.9-6.5l-4.3-8l-5.3-9l-5.3-8l-5.8-8l-6.1-7.5l-6.1-6.9l-14.5-14.4l-8.5-7.7l-6.5-5.4l-5.5-3.9l-5-2.8l-7.5-3.1l-9.5-2.8l-15.5-3.5l-13-2.4l-6-0.4l-4.5 0.4l-4.3 1.4l-3.7 2.2l-2.5 2.4l-2.1 2.9l-1.9 3.8l-1.5 4.4l-1.5 6.3l-1 6.5l-0.3 5l0.5 4.5l1.5 5.5l3 7l16.1 32.5l2.6 4.5l2.4 3.5l3.1 3.5l3.4 3l10.3 7l17.9 10.3l25 12.8l8.5 3.9l6 1.9l6 0.8zM360.8 1050.5l8.2-1.5l8.5-2.3l7.7-2.7l7.8-3.4l7.5-4.1l5-3.5l3.5-3.5l2-3.5l0.6-3.5l-0.3-3.5l-1.1-4l-2.1-5l-3.7-7l-5.6-9.5l-5.8-9l-6.2-9l-6.9-9l-6.2-7.5l-7.6-8.5l-7.6-7.9l-20.5-19.5l-5.5-4.4l-5.5-3.4l-7-3.2l-9.5-3.2l-28-7.8l-9-2l-5.5-0.5l-4.5 0.5l-5 1.7l-4.6 2.7l-3.4 2.9l-2.6 3.1l-2 3.5l-1.5 4l-1.8 7.5l-2.3 12.5l-0.4 5.5l0.3 5l1.3 5l2.1 5l11.4 21l10 20.6l3.5 5.7l2.5 3l3 2.8l8.7 5.9l18.8 10.6l37 19.4l6 2.6l5 1.4l5.5 0.4zM360.0 1056.5l8-1.4l9-2.3l8.5-2.7l8-3.2l10.4-4.9l8.2-4.5l4.8-3.5l2.9-3.5l1.1-3l0.1-3l-0.7-3.5l-1.4-4l-2.8-5.5l-3.5-6l-12.3-19l-6.8-9.5l-8.1-10.5l-7.5-9l-9.4-10.4l-26.5-26.7l-6-5.2l-5.5-3.8l-6.5-3.2l-8.5-3.2l-37-11.7l-7.5-1.8l-5.5-0.4l-5 0.8l-5 2l-6 3.6l-4 3.1l-3.3 3.4l-2 3l-1.7 4l-1.5 6l-3.8 21.5l-0.5 5l0.2 4.5l1.1 4.5l2 4.5l13.7 23.5l4.2 8.5l6.3 14l3.3 5.8l2.1 2.7l2.6 2.5l7.3 5l21.3 11.5l23.2 12l19.5 11l5 2.1l4.5 1.1l5 0.3zM350.3 1073.0l5.2-0.6l8-1.6l12-3l10-2.8l9.5-3.3l19.5-7.7l19-6.4l5.5-2.2l6-3.4l2.1-2l1.3-2l0.5-1.5l0-2.5l-0.6-2.5l-1.1-2.5l-3.5-6l-7.3-10l-23.4-30.5l-14.1-17.5l-12.4-14.4l-10-11l-13.5-14.3l-13.5-14.9l-8-7.5l-5-3.5l-5.5-2.6l-31.5-11.4l-22.5-9.7l-5-1.9l-5.5-1.5l-4.5-0.6l-3.5 0.2l-3.5 1.2l-4 2.4l-11.5 7.9l-12.5 7.4l-3.4 2.7l-1.9 2.5l-1.1 3l-0.4 3l-0.1 14l-0.7 8.5l-1.3 6l-4 12.5l-1 4.5l0 3.5l1.5 4.5l3.8 6l11.6 15l6.3 10l3.4 6.5l2.1 5l5.1 16l1.4 3.5l2.2 4l2.5 2.7l3.5 2.6l4 2.2l22 9.9l30 14.8l9.7 5.8l11.8 8.3l4.5 2.7l5.5 2.2zM349.0 1081.5l10.5-2.3l27.5-7.4l10.5-3.7l19-7.3l6.5-2l20-5.2l10.5-3.5l4-2l2.5-1.6l1.7-1.5l1.6-2l0.8-1.5l0.1-2l-0.3-2l-1-3l-2.5-4.5l-4.5-6l-12-14l-40.4-48.7l-17-19.3l-19.1-20.5l-15-17.5l-5.4-5.6l-2.5-2.1l-4-2.8l-3.5-1.8l-35-12.7l-27.5-13l-12.5-4.3l-4-0.8l-3.5 0.1l-3 2l-11.5 10.5l-4.3 3l-8.2 4.2l-13.1 5.3l-1.9 1.1l-2 2l-0.7 2.4l-0.2 3l0.5 5l2.2 13l-0.2 9.5l-0.7 4l-1.4 4.5l-2.1 5l-4.7 9l-1.1 3l-0.6 3.5l1 3.5l1.6 3l2.1 3l10.8 11.8l6.5 8l6.4 9.7l3.3 6.5l2.2 6l5.4 21.5l1.9 4l2 2l2.8 2.1l4 2.2l18.5 7.2l9 3.9l20.7 9.6l9.8 4.9l9.5 5.9l14 10.9l5 3.1l5 2zM343.8 1090.0l21.2-6.4l24.5-6.9l25.5-9.8l6.5-2.1l27.5-5.8l14-4.2l5.5-2.5l3.5-2.2l1.8-1.6l2.1-3l0.8-3l-0.3-1.5l-3.2-7l-3.4-5l-21.5-23l-48.8-56.3l-28.7-31.2l-16.1-20l-7.2-7.3l-3.9-2.7l-3.6-1.8l-16.5-5.5l-19.5-7.1l-10-4.9l-10-5.7l-7-3.3l-12.5-5.5l-9.2-4.7l-2.3-0.9l-3-0.5l-1.6 1.9l-4.7 10l-2 3l-5.7 5.6l-3.5 2.4l-4.5 2.4l-6.5 2.3l-6 1.3l-4.5 0.5l-1.5 0.5l-7 1.1l-4.4 1.9l0 2.5l0.5 3.5l5.5 16l1.9 7l0.6 3.5l-0.1 7.5l-1.6 6l-2.3 5l-3.1 4.6l-5.9 6.9l-2.2 3.5l-1.1 2.5l0.5 2l3 5.5l3.2 4l4.5 4.7l11 10.3l6.5 7.7l5.6 8.3l3.3 6.5l1.8 5l1.8 8.5l1.5 14l1.6 6l1.8 2l3.3 2.5l4.8 2.5l8.5 3l8.5 2.5l10.5 3.9l16.5 7.2l18.5 8.7l8.5 5.3l6.5 5.2l7.2 6.7l6.8 5.2l6 3.2z" fill="none" stroke="#000" stroke-width="2.8" stroke-linejoin="round"/>
<path d="M247.3 841.2L252.1 842.5L255.3 843.8L267.2 851.4L283.1 858.9L297.1 866.9L302.9 869.9L309.9 872.8L326.1 878.6L341.1 883.4L344.9 885.1L350.8 889.4L353.5 892.4L359.6 899.6L369.9 912.9M449.2 1062.8L427.7 1066.8L419.1 1069.0L412.3 1071.3L392.8 1078.9L384.9 1081.4L359.5 1089.0L352.2 1091.6L343.0 1095.4M228.6 1030.0L227.9 1016.4L226.9 1009.0L225.0 1001.8L223.7 998.6L222.0 995.3L217.3 988.2L210.8 980.4L206.2 975.8L195.5 966.5L190.5 961.3L187.1 956.7L183.1 950.0L187.9 943.3L195.8 935.3L199.1 931.2L200.6 928.6L201.8 925.9L202.7 922.9L203.1 919.9L203.1 914.7L202.0 909.3L199.1 901.4L192.5 886.5L191.4 882.3L190.5 876.6L195.5 875.3L199.4 874.6L212.5 873.8L219.1 872.8L225.6 871.0L231.1 868.2L235.8 864.6L237.7 862.6L239.2 860.6L240.9 856.6L242.8 849.0L243.6 846.4L244.9 844.0L247.3 841.2" fill="none" stroke="#000" stroke-width="2.8" stroke-linejoin="round"/>
<path d="M369.9 912.9L376.5 920.6L403.3 949.9L446.7 998.8L456.3 1009.1L469.3 1022.0L473.5 1026.4L478.4 1032.8L483.5 1041.5L482.1 1046.1L480.6 1049.4L478.4 1052.1L475.5 1054.3L470.7 1056.7L464.7 1058.9L458.3 1060.7L449.2 1062.8M343.0 1095.4L341.6 1096.0L334.4 1091.3L329.8 1087.6L320.0 1078.4L315.1 1074.3L309.9 1070.5L304.3 1067.4L281.6 1057.1L271.0 1052.6L260.1 1048.9L244.2 1044.5L240.6 1043.1L237.2 1041.4L234.0 1039.4L229.5 1036.0L228.6 1030.0" fill="none" stroke="#000" stroke-width="1.1" stroke-linejoin="round"/>
<path d="M357.3 1063.5h0M364.9 1062.2h0M372.4 1060.5h0M379.8 1058.5h0M387.1 1056.2h0M394.3 1053.5h0M401.3 1050.5h0M408.4 1047.5h0M415.4 1044.4h0M422.3 1041.1h0M428.8 1037.0h0M432.5 1030.6h0M431.0 1023.1h0M427.5 1016.3h0M423.4 1009.9h0M419.1 1003.5h0M414.7 997.2h0M410.3 990.9h0M405.8 984.7h0M401.2 978.6h0M396.5 972.5h0M391.7 966.5h0M386.8 960.6h0M381.8 954.8h0M376.7 949.0h0M371.5 943.4h0M366.2 937.9h0M360.9 932.3h0M355.6 926.8h0M350.3 921.3h0M344.9 915.8h0M339.3 910.6h0M333.0 906.2h0M326.1 902.8h0M318.9 900.1h0M311.7 897.7h0M304.4 895.3h0M297.1 892.8h0M289.9 890.2h0M282.7 887.5h0M275.5 884.8h0M268.1 882.9h0M260.5 883.0h0M253.4 885.8h0M246.8 889.8h0M240.5 894.1h0M234.7 899.2h0M231.0 905.8h0M229.7 913.4h0M228.9 921.0h0M227.7 928.6h0M226.1 936.1h0M224.6 943.6h0M224.9 951.2h0M228.0 958.2h0M232.1 964.7h0M236.5 971.0h0M240.6 977.5h0M244.4 984.1h0M247.8 991.0h0M250.8 998.1h0M253.5 1005.2h0M256.8 1012.2h0M261.6 1018.1h0M267.8 1022.5h0M274.6 1026.0h0M281.5 1029.5h0M288.4 1032.9h0M295.2 1036.4h0M302.0 1039.8h0M308.9 1043.3h0M315.7 1046.8h0M322.4 1050.6h0M328.9 1054.6h0M335.4 1058.7h0M342.2 1062.2h0M349.7 1063.9h0" stroke="#000" stroke-width="3.0" stroke-linecap="round" fill="none"/>
<path d="M370.4 912.1h0M371.1 914.7h0M372.6 915.9h0M373.4 918.1h0M374.7 919.7h0M376.2 920.9h0M377.8 922.1h0M380.0 922.8h0M381.3 924.3h0M382.1 926.4h0M383.4 927.9h0M385.1 929.1h0M386.8 930.4h0M387.4 932.5h0M389.5 933.5h0M390.2 935.4h0M391.9 936.7h0M393.5 938.1h0M394.5 939.8h0M396.2 941.1h0M397.5 942.6h0M397.6 944.7h0M399.0 946.2h0M400.6 947.6h0M402.1 949.1h0M403.4 950.6h0M404.4 952.2h0M406.1 953.6h0M408.2 954.9h0M410.1 956.2h0M410.4 958.0h0M411.7 959.5h0M413.2 961.0h0M415.0 962.4h0M416.6 963.9h0M418.2 965.4h0M418.4 967.1h0M420.4 968.5h0M421.1 970.1h0M423.4 971.6h0M423.5 973.2h0M426.1 974.7h0M426.7 976.2h0M428.5 977.7h0M429.5 979.2h0M430.4 980.7h0M432.0 982.3h0M432.5 983.7h0M433.8 985.2h0M436.1 986.8h0M437.4 988.3h0M439.4 989.9h0M439.2 991.2h0M441.6 992.9h0M442.8 994.3h0M444.3 995.9h0M446.0 997.4h0M446.9 998.9h0M448.3 1000.4h0M449.6 1001.8h0M451.2 1003.4h0M451.9 1004.7h0M453.8 1006.3h0M455.5 1007.8h0M455.9 1009.0h0M458.9 1010.9h0M459.9 1012.2h0M461.7 1013.7h0M461.9 1014.8h0M463.6 1016.3h0M464.7 1017.6h0M465.8 1018.9h0M467.2 1020.3h0M469.0 1021.9h0M471.6 1023.7h0M471.7 1024.7h0M474.0 1026.6h0M474.5 1027.8h0M475.4 1029.3h0M476.8 1031.0h0M478.9 1033.0h0M479.6 1034.5h0M480.8 1036.3h0M481.6 1038.0h0M482.3 1039.6h0M483.7 1041.6h0M484.0 1043.5h0M482.3 1044.4h0M482.7 1046.4h0M481.3 1047.4h0M480.5 1048.8h0M479.9 1050.1h0M478.5 1051.1h0M478.9 1052.9h0M476.7 1053.4h0M475.1 1054.1h0M473.4 1054.7h0M472.1 1055.5h0M470.9 1056.3h0M469.7 1057.2h0M468.6 1057.9h0M467.7 1058.9h0M466.1 1059.3h0M463.5 1059.1h0M462.6 1059.9h0M461.6 1060.7h0M458.8 1060.2h0M458.5 1061.4h0M456.2 1061.2h0M455.4 1062.0h0M453.1 1061.8h0M452.1 1062.5h0M450.4 1062.7h0M343.0 1094.8h0M341.7 1096.9h0M340.6 1096.4h0M339.4 1095.0h0M338.3 1094.0h0M337.3 1094.6h0M336.2 1092.6h0M335.2 1093.0h0M334.1 1091.2h0M333.0 1090.4h0M332.0 1089.5h0M331.0 1088.0h0M330.1 1087.7h0M329.1 1086.7h0M328.2 1085.5h0M327.2 1085.7h0M326.3 1084.6h0M325.4 1082.7h0M324.4 1082.1h0M323.4 1083.0h0M322.6 1080.3h0M321.6 1080.0h0M320.6 1080.4h0M319.8 1077.6h0M318.7 1077.4h0M317.7 1077.5h0M316.9 1074.9h0M315.9 1074.2h0M314.6 1075.3h0M313.7 1074.0h0M312.8 1072.3h0M311.6 1072.0h0M310.7 1070.8h0M309.3 1071.5h0M308.2 1071.0h0M307.5 1068.4h0M306.1 1068.8h0M305.2 1067.4h0M303.9 1067.3h0M302.6 1067.5h0M301.4 1066.9h0M300.6 1065.2h0M299.3 1064.9h0M298.1 1064.6h0M296.9 1064.0h0M295.5 1064.1h0M294.2 1063.8h0M293.4 1062.3h0M292.1 1062.0h0M291.3 1060.7h0M289.8 1060.8h0M288.1 1061.5h0M287.4 1060.0h0M286.1 1059.6h0M284.9 1059.2h0M283.7 1058.6h0M282.3 1058.5h0M281.7 1056.9h0M280.5 1056.5h0M278.6 1057.1h0M277.9 1055.8h0M276.2 1056.2h0M276.0 1054.2h0M274.0 1054.9h0M273.2 1053.8h0M272.0 1053.3h0M270.2 1053.6h0M270.1 1051.8h0M268.4 1052.0h0M267.5 1051.1h0M266.2 1050.9h0M264.3 1051.3h0M263.7 1050.1h0M261.8 1050.4h0M261.8 1048.7h0M259.0 1049.9h0M257.8 1049.5h0M257.0 1048.7h0M256.6 1047.5h0M254.6 1047.9h0M254.1 1046.9h0M252.5 1046.8h0M251.8 1046.0h0M250.5 1045.7h0M249.1 1045.5h0M247.8 1045.2h0M245.4 1045.8h0M245.2 1044.6h0M243.0 1045.0h0M243.2 1043.4h0M241.9 1043.0h0M240.8 1042.6h0M238.0 1043.2h0M237.1 1042.5h0M237.5 1040.8h0M234.6 1041.3h0M234.9 1039.7h0M233.8 1039.0h0M232.1 1038.7h0M231.8 1037.4h0M229.3 1037.6h0M229.5 1036.0h0M228.9 1035.3h0M228.7 1034.3h0M229.1 1032.9h0M228.1 1032.4h0M227.4 1031.7h0" stroke="#000" stroke-width="1.3" stroke-linecap="round" fill="none"/>
<path d="M215.3 813.3h0M249.8 808.8h0M167.1 834.2h0M154.9 867.6h0M141.3 921.5h0M326.5 855.1h0M162.5 939.7h0M155.7 962.1h0M183.0 1028.2h0M209.5 1034.9h0M222.5 1064.3h0M307.7 1115.8h0M377.6 1119.7h0M394.5 905.6h0M524.8 1020.8h0M504.0 1039.4h0M340.6 873.3h0M243.3 835.4h0M239.2 829.6h0M232.8 830.7h0M237.7 826.9h0M232.7 837.6h0M241.1 829.0h0M238.1 837.3h0M244.6 835.9h0M179.1 867.9h0M184.2 861.7h0M182.0 864.7h0M187.8 861.7h0M184.2 873.3h0M176.1 873.7h0M187.7 861.1h0M184.7 860.8h0M181.1 867.1h0M175.7 865.5h0M181.5 945.4h0M169.7 950.9h0M175.1 952.3h0M171.2 945.4h0M181.4 948.1h0M176.1 944.2h0M167.3 954.2h0M168.5 953.0h0M173.6 954.5h0M338.0 1108.0h0M341.1 1096.8h0M344.8 1103.8h0M343.7 1100.4h0M334.4 1103.3h0M332.1 1104.1h0M342.7 1099.0h0M346.0 1096.1h0M223.0 1043.3h0M222.8 1042.1h0M227.0 1045.4h0M233.9 1042.2h0M230.6 1034.0h0M228.8 1044.0h0M223.2 1039.8h0M224.6 1045.6h0M355.8 888.1h0M352.0 888.2h0M359.6 893.2h0M363.1 887.3h0M363.9 886.0h0M497.2 1041.6h0M490.5 1040.5h0M497.7 1050.2h0M486.2 1046.3h0M488.1 1045.9h0M492.9 1041.0h0" stroke="#000" stroke-width="1.7" stroke-linecap="round" fill="none"/>
<path d="M416.6 1129L522 1040.8" stroke="#ee1c1c" stroke-width="2" fill="none"/>
</g>
<path d="M198.1 1156.8v-7M198.1 751.2v7M333.7 1156.8v-7M333.7 751.2v7M469.3 1156.8v-7M469.3 751.2v7" stroke="#000" stroke-width="1.30" fill="none"/>
<path d="M96.4 1156.8v-4M96.4 751.2v4M130.3 1156.8v-4M130.3 751.2v4M164.2 1156.8v-4M164.2 751.2v4M232 1156.8v-4M232 751.2v4M265.9 1156.8v-4M265.9 751.2v4M299.8 1156.8v-4M299.8 751.2v4M367.6 1156.8v-4M367.6 751.2v4M401.5 1156.8v-4M401.5 751.2v4M435.4 1156.8v-4M435.4 751.2v4M503.2 1156.8v-4M503.2 751.2v4M537.1 1156.8v-4M537.1 751.2v4M571 1156.8v-4M571 751.2v4" stroke="#000" stroke-width="1.00" fill="none"/>
<path d="M76.9 1152.9h7M583.8 1152.9h-7M76.9 1085h7M583.8 1085h-7M76.9 1017h7M583.8 1017h-7M76.9 949.1h7M583.8 949.1h-7M76.9 881.1h7M583.8 881.1h-7M76.9 813.1h7M583.8 813.1h-7" stroke="#000" stroke-width="1.30" fill="none"/>
<path d="M76.9 1139.3h4M583.8 1139.3h-4M76.9 1125.7h4M583.8 1125.7h-4M76.9 1112.1h4M583.8 1112.1h-4M76.9 1098.5h4M583.8 1098.5h-4M76.9 1071.4h4M583.8 1071.4h-4M76.9 1057.8h4M583.8 1057.8h-4M76.9 1044.2h4M583.8 1044.2h-4M76.9 1030.6h4M583.8 1030.6h-4M76.9 1003.4h4M583.8 1003.4h-4M76.9 989.8h4M583.8 989.8h-4M76.9 976.2h4M583.8 976.2h-4M76.9 962.6h4M583.8 962.6h-4M76.9 935.5h4M583.8 935.5h-4M76.9 921.9h4M583.8 921.9h-4M76.9 908.3h4M583.8 908.3h-4M76.9 894.7h4M583.8 894.7h-4M76.9 867.5h4M583.8 867.5h-4M76.9 853.9h4M583.8 853.9h-4M76.9 840.3h4M583.8 840.3h-4M76.9 826.7h4M583.8 826.7h-4M76.9 799.6h4M583.8 799.6h-4M76.9 786h4M583.8 786h-4M76.9 772.4h4M583.8 772.4h-4M76.9 758.8h4M583.8 758.8h-4" stroke="#000" stroke-width="1.00" fill="none"/>
<rect x="76.90" y="751.20" width="506.90" height="405.60" fill="none" stroke="#000" stroke-width="1.40"/>
<text x="198.1" y="1172.8" style="font-family:'Liberation Sans',sans-serif;font-size:13.80px" fill="#000" text-anchor="middle" textLength="21.5" lengthAdjust="spacingAndGlyphs" >1.0</text>
<text x="333.7" y="1172.8" style="font-family:'Liberation Sans',sans-serif;font-size:13.80px" fill="#000" text-anchor="middle" textLength="21.5" lengthAdjust="spacingAndGlyphs" >1.2</text>
<text x="469.3" y="1172.8" style="font-family:'Liberation Sans',sans-serif;font-size:13.80px" fill="#000" text-anchor="middle" textLength="21.5" lengthAdjust="spacingAndGlyphs" >1.4</text>
<text x="71.3" y="818" style="font-family:'Liberation Sans',sans-serif;font-size:13.80px" fill="#000" text-anchor="end" textLength="21.0" lengthAdjust="spacingAndGlyphs" >0.1</text>
<text x="71.3" y="886" style="font-family:'Liberation Sans',sans-serif;font-size:13.80px" fill="#000" text-anchor="end" textLength="21.0" lengthAdjust="spacingAndGlyphs" >0.0</text>
<text x="71.3" y="954" style="font-family:'Liberation Sans',sans-serif;font-size:13.80px" fill="#000" text-anchor="end" textLength="35.0" lengthAdjust="spacingAndGlyphs" >−0.1</text>
<text x="71.3" y="1021.9" style="font-family:'Liberation Sans',sans-serif;font-size:13.80px" fill="#000" text-anchor="end" textLength="35.0" lengthAdjust="spacingAndGlyphs" >−0.2</text>
<text x="71.3" y="1089.9" style="font-family:'Liberation Sans',sans-serif;font-size:13.80px" fill="#000" text-anchor="end" textLength="35.0" lengthAdjust="spacingAndGlyphs" >−0.3</text>
<text x="71.3" y="1157.8" style="font-family:'Liberation Sans',sans-serif;font-size:13.80px" fill="#000" text-anchor="end" textLength="35.0" lengthAdjust="spacingAndGlyphs" >−0.4</text>
<text x="311.3" y="1195.3" style="font-family:'Liberation Serif',serif;font-size:17.50px;font-style:italic" fill="#000" text-anchor="start" >R</text>
<text x="323" y="1195.3" style="font-family:'Liberation Serif',serif;font-size:17.50px" fill="#000" text-anchor="start" textLength="27.0" lengthAdjust="spacingAndGlyphs" >(m)</text>
<text x="23.4" y="974" style="font-family:'Liberation Serif',serif;font-size:17.50px" fill="#000" text-anchor="start" textLength="37.5" lengthAdjust="spacingAndGlyphs" transform="rotate(-90 23.4 974)" >Z(m)</text>
<text x="96.8" y="780" style="font-family:'Liberation Serif',serif;font-size:21.00px" fill="#000" text-anchor="start" >(</text>
<text x="103.6" y="780" style="font-family:'Liberation Serif',serif;font-size:21.00px;font-style:italic" fill="#000" text-anchor="start" >d</text>
<text x="117" y="780" style="font-family:'Liberation Serif',serif;font-size:21.00px" fill="#000" text-anchor="start" >)</text>
</svg></body></html>
